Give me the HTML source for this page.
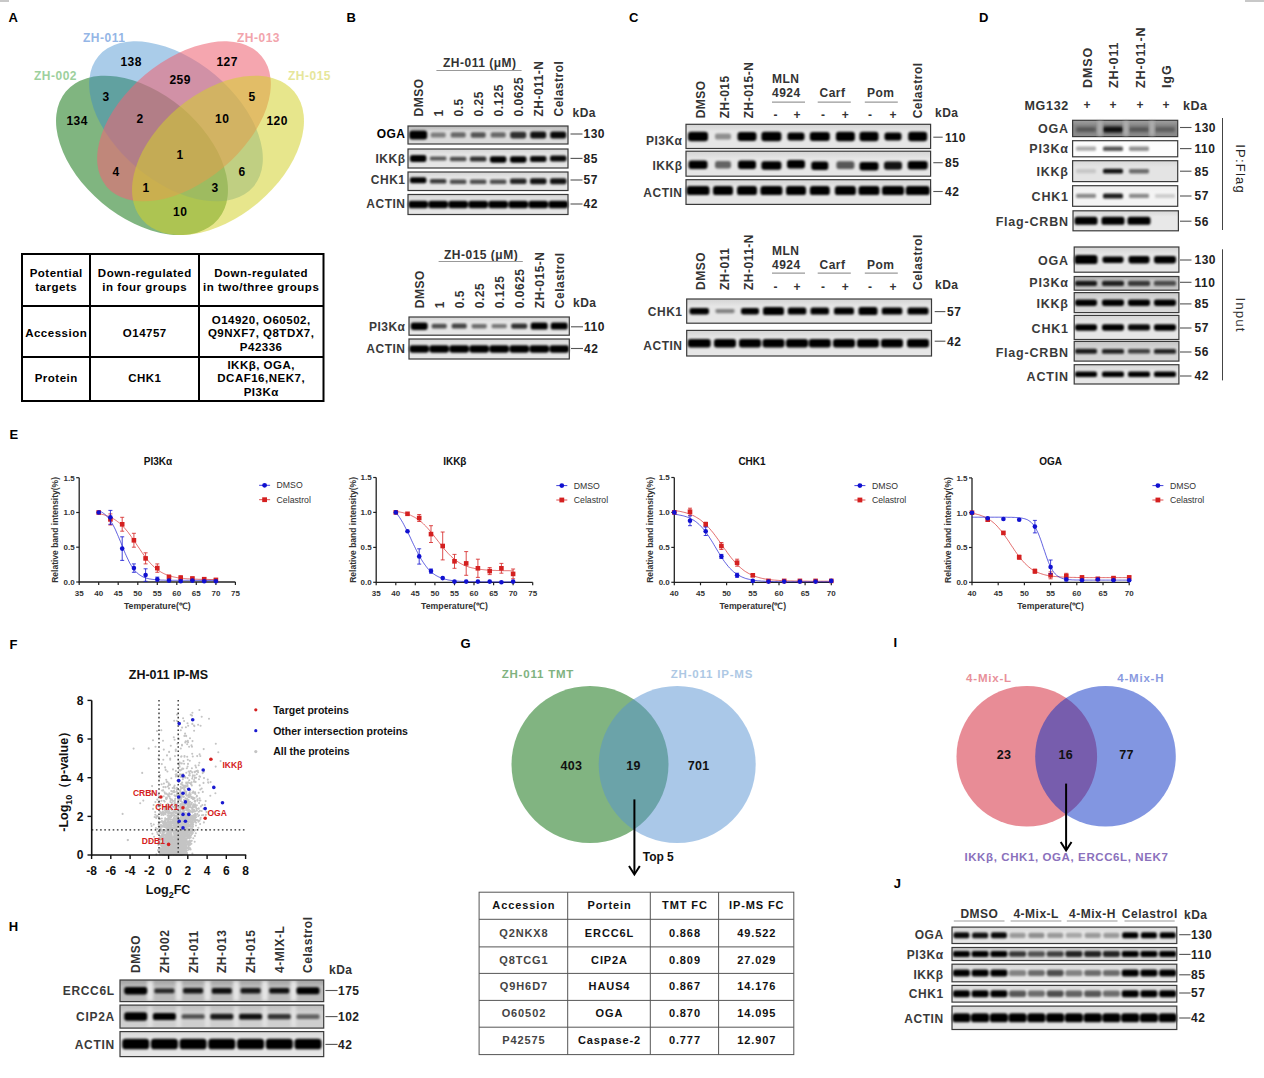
<!DOCTYPE html>
<html><head><meta charset="utf-8"><style>svg text{font-family:"Liberation Sans",sans-serif} html,body{margin:0;padding:0;background:#fff;width:1264px;height:1078px;overflow:hidden;position:relative}</style></head>
<body>
<svg width="1264" height="1078" viewBox="0 0 1264 1078" style="position:absolute;left:0;top:0">
<defs>
<filter id="bl5" x="-20%" y="-50%" width="140%" height="200%"><feGaussianBlur stdDeviation="0.5"/></filter>
<filter id="bl6" x="-20%" y="-50%" width="140%" height="200%"><feGaussianBlur stdDeviation="0.6"/></filter>
<filter id="bl7" x="-20%" y="-50%" width="140%" height="200%"><feGaussianBlur stdDeviation="0.7"/></filter>
<filter id="bl8" x="-20%" y="-50%" width="140%" height="200%"><feGaussianBlur stdDeviation="0.8"/></filter>
<filter id="bl9" x="-20%" y="-50%" width="140%" height="200%"><feGaussianBlur stdDeviation="0.9"/></filter>
<filter id="bl10" x="-20%" y="-50%" width="140%" height="200%"><feGaussianBlur stdDeviation="1.0"/></filter>
<filter id="bl11" x="-20%" y="-50%" width="140%" height="200%"><feGaussianBlur stdDeviation="1.1"/></filter>
<filter id="bl12" x="-20%" y="-50%" width="140%" height="200%"><feGaussianBlur stdDeviation="1.2"/></filter>
<filter id="bl13" x="-20%" y="-50%" width="140%" height="200%"><feGaussianBlur stdDeviation="1.3"/></filter>
<filter id="bl14" x="-20%" y="-50%" width="140%" height="200%"><feGaussianBlur stdDeviation="1.4"/></filter>
<filter id="bl15" x="-20%" y="-50%" width="140%" height="200%"><feGaussianBlur stdDeviation="1.5"/></filter>
<filter id="bl16" x="-20%" y="-50%" width="140%" height="200%"><feGaussianBlur stdDeviation="1.6"/></filter>
<filter id="bl18" x="-20%" y="-50%" width="140%" height="200%"><feGaussianBlur stdDeviation="1.8"/></filter>
<filter id="bl20" x="-20%" y="-50%" width="140%" height="200%"><feGaussianBlur stdDeviation="2.0"/></filter>
<filter id="bl25" x="-20%" y="-50%" width="140%" height="200%"><feGaussianBlur stdDeviation="2.5"/></filter>
</defs>
<rect width="1264" height="1078" fill="#fff"/>
<rect x="0" y="0" width="9" height="2" fill="#c8c8c8"/>
<rect x="1245" y="0" width="19" height="2" fill="#c8c8c8"/>
<text x="8.5" y="22.0" font-size="13" font-weight="bold" fill="#000" text-anchor="start" letter-spacing="0.5" >A</text>
<text x="346.5" y="22.0" font-size="13" font-weight="bold" fill="#000" text-anchor="start" letter-spacing="0.5" >B</text>
<text x="629.0" y="22.0" font-size="13" font-weight="bold" fill="#000" text-anchor="start" letter-spacing="0.5" >C</text>
<text x="979.0" y="22.0" font-size="13" font-weight="bold" fill="#000" text-anchor="start" letter-spacing="0.5" >D</text>
<text x="9.5" y="439.0" font-size="13" font-weight="bold" fill="#000" text-anchor="start" letter-spacing="0.5" >E</text>
<text x="9.5" y="648.5" font-size="13" font-weight="bold" fill="#000" text-anchor="start" letter-spacing="0.5" >F</text>
<text x="460.5" y="648.0" font-size="13" font-weight="bold" fill="#000" text-anchor="start" letter-spacing="0.5" >G</text>
<text x="8.7" y="931.3" font-size="13" font-weight="bold" fill="#000" text-anchor="start" letter-spacing="0.5" >H</text>
<text x="893.5" y="647.2" font-size="13" font-weight="bold" fill="#000" text-anchor="start" letter-spacing="0.5" >I</text>
<text x="893.7" y="887.6" font-size="13" font-weight="bold" fill="#000" text-anchor="start" letter-spacing="0.5" >J</text>
<ellipse cx="142" cy="155.4" rx="99.4" ry="62.1" transform="rotate(40 142 155.4)" fill="rgb(0,106,0)" fill-opacity="0.498"/>
<ellipse cx="176" cy="121.3" rx="101.3" ry="60.7" transform="rotate(40 176 121.3)" fill="rgb(55,135,203)" fill-opacity="0.429"/>
<ellipse cx="184" cy="121.3" rx="101.3" ry="60.7" transform="rotate(-40 184 121.3)" fill="rgb(237,102,118)" fill-opacity="0.581"/>
<ellipse cx="218" cy="155.4" rx="99.4" ry="62.1" transform="rotate(-40 218 155.4)" fill="rgb(211,209,42)" fill-opacity="0.543"/>
<text x="83.0" y="42.3" font-size="12" font-weight="bold" fill="#94b6e6" text-anchor="start" letter-spacing="0.5" >ZH-011</text>
<text x="237.0" y="42.3" font-size="12" font-weight="bold" fill="#f2a4ac" text-anchor="start" letter-spacing="0.5" >ZH-013</text>
<text x="34.0" y="80.0" font-size="12" font-weight="bold" fill="#9dd09d" text-anchor="start" letter-spacing="0.5" >ZH-002</text>
<text x="288.0" y="80.0" font-size="12" font-weight="bold" fill="#e6e69a" text-anchor="start" letter-spacing="0.5" >ZH-015</text>
<text x="131.2" y="66.3" font-size="12" font-weight="bold" fill="#000" text-anchor="middle" letter-spacing="0.5" >138</text>
<text x="227.2" y="66.3" font-size="12" font-weight="bold" fill="#000" text-anchor="middle" letter-spacing="0.5" >127</text>
<text x="180.2" y="84.3" font-size="12" font-weight="bold" fill="#000" text-anchor="middle" letter-spacing="0.5" >259</text>
<text x="106.2" y="101.3" font-size="12" font-weight="bold" fill="#000" text-anchor="middle" letter-spacing="0.5" >3</text>
<text x="252.2" y="101.3" font-size="12" font-weight="bold" fill="#000" text-anchor="middle" letter-spacing="0.5" >5</text>
<text x="77.2" y="125.3" font-size="12" font-weight="bold" fill="#000" text-anchor="middle" letter-spacing="0.5" >134</text>
<text x="140.2" y="123.3" font-size="12" font-weight="bold" fill="#000" text-anchor="middle" letter-spacing="0.5" >2</text>
<text x="222.2" y="123.3" font-size="12" font-weight="bold" fill="#000" text-anchor="middle" letter-spacing="0.5" >10</text>
<text x="277.2" y="125.3" font-size="12" font-weight="bold" fill="#000" text-anchor="middle" letter-spacing="0.5" >120</text>
<text x="180.2" y="159.3" font-size="12" font-weight="bold" fill="#000" text-anchor="middle" letter-spacing="0.5" >1</text>
<text x="116.2" y="176.3" font-size="12" font-weight="bold" fill="#000" text-anchor="middle" letter-spacing="0.5" >4</text>
<text x="242.2" y="176.3" font-size="12" font-weight="bold" fill="#000" text-anchor="middle" letter-spacing="0.5" >6</text>
<text x="146.2" y="192.3" font-size="12" font-weight="bold" fill="#000" text-anchor="middle" letter-spacing="0.5" >1</text>
<text x="215.2" y="192.3" font-size="12" font-weight="bold" fill="#000" text-anchor="middle" letter-spacing="0.5" >3</text>
<text x="180.2" y="216.3" font-size="12" font-weight="bold" fill="#000" text-anchor="middle" letter-spacing="0.5" >10</text>
<rect x="22" y="254" width="301.5" height="147" fill="none" stroke="#000" stroke-width="2"/>
<line x1="90.0" y1="254.0" x2="90.0" y2="401.0" stroke="#000" stroke-width="2" />
<line x1="199.0" y1="254.0" x2="199.0" y2="401.0" stroke="#000" stroke-width="2" />
<line x1="22.0" y1="306.0" x2="323.5" y2="306.0" stroke="#000" stroke-width="2" />
<line x1="22.0" y1="357.0" x2="323.5" y2="357.0" stroke="#000" stroke-width="2" />
<text x="56.2" y="277.4" font-size="11.5" font-weight="bold" fill="#000" text-anchor="middle" letter-spacing="0.5" letter-spacing="0.3">Potential</text>
<text x="56.2" y="290.9" font-size="11.5" font-weight="bold" fill="#000" text-anchor="middle" letter-spacing="0.5" letter-spacing="0.3">targets</text>
<text x="144.8" y="277.4" font-size="11.5" font-weight="bold" fill="#000" text-anchor="middle" letter-spacing="0.5" letter-spacing="0.3">Down-regulated</text>
<text x="144.8" y="290.9" font-size="11.5" font-weight="bold" fill="#000" text-anchor="middle" letter-spacing="0.5" letter-spacing="0.3">in four groups</text>
<text x="261.2" y="277.4" font-size="11.5" font-weight="bold" fill="#000" text-anchor="middle" letter-spacing="0.5" letter-spacing="0.3">Down-regulated</text>
<text x="261.2" y="290.9" font-size="11.5" font-weight="bold" fill="#000" text-anchor="middle" letter-spacing="0.5" letter-spacing="0.3">in two/three groups</text>
<text x="56.2" y="337.1" font-size="11.5" font-weight="bold" fill="#000" text-anchor="middle" letter-spacing="0.5" letter-spacing="0.3">Accession</text>
<text x="144.8" y="337.1" font-size="11.5" font-weight="bold" fill="#000" text-anchor="middle" letter-spacing="0.5" letter-spacing="0.3">O14757</text>
<text x="261.2" y="323.6" font-size="11.5" font-weight="bold" fill="#000" text-anchor="middle" letter-spacing="0.5" letter-spacing="0.3">O14920, O60502,</text>
<text x="261.2" y="337.1" font-size="11.5" font-weight="bold" fill="#000" text-anchor="middle" letter-spacing="0.5" letter-spacing="0.3">Q9NXF7, Q8TDX7,</text>
<text x="261.2" y="350.6" font-size="11.5" font-weight="bold" fill="#000" text-anchor="middle" letter-spacing="0.5" letter-spacing="0.3">P42336</text>
<text x="56.2" y="382.1" font-size="11.5" font-weight="bold" fill="#000" text-anchor="middle" letter-spacing="0.5" letter-spacing="0.3">Protein</text>
<text x="144.8" y="382.1" font-size="11.5" font-weight="bold" fill="#000" text-anchor="middle" letter-spacing="0.5" letter-spacing="0.3">CHK1</text>
<text x="261.2" y="368.6" font-size="11.5" font-weight="bold" fill="#000" text-anchor="middle" letter-spacing="0.5" letter-spacing="0.3">IKKβ, OGA,</text>
<text x="261.2" y="382.1" font-size="11.5" font-weight="bold" fill="#000" text-anchor="middle" letter-spacing="0.5" letter-spacing="0.3">DCAF16,NEK7,</text>
<text x="261.2" y="395.6" font-size="11.5" font-weight="bold" fill="#000" text-anchor="middle" letter-spacing="0.5" letter-spacing="0.3">PI3Kα</text>
<text x="443.0" y="66.5" font-size="12" font-weight="bold" fill="#333" text-anchor="start" letter-spacing="0.5" >ZH-011 (μM)</text>
<line x1="436.4" y1="70.5" x2="521.6" y2="70.5" stroke="#999" stroke-width="1.2" />
<text transform="translate(422.5,116.5) rotate(-90)" font-size="12" font-weight="bold" fill="#333" text-anchor="start" letter-spacing="0.5" >DMSO</text>
<text transform="translate(442.5,116.5) rotate(-90)" font-size="12" font-weight="bold" fill="#333" text-anchor="start" letter-spacing="0.5" >1</text>
<text transform="translate(462.5,116.5) rotate(-90)" font-size="12" font-weight="bold" fill="#333" text-anchor="start" letter-spacing="0.5" >0.5</text>
<text transform="translate(482.5,116.5) rotate(-90)" font-size="12" font-weight="bold" fill="#333" text-anchor="start" letter-spacing="0.5" >0.25</text>
<text transform="translate(502.5,116.5) rotate(-90)" font-size="12" font-weight="bold" fill="#333" text-anchor="start" letter-spacing="0.5" >0.125</text>
<text transform="translate(522.5,116.5) rotate(-90)" font-size="12" font-weight="bold" fill="#333" text-anchor="start" letter-spacing="0.5" >0.0625</text>
<text transform="translate(542.5,116.5) rotate(-90)" font-size="12" font-weight="bold" fill="#333" text-anchor="start" letter-spacing="0.5" >ZH-011-N</text>
<text transform="translate(562.5,116.5) rotate(-90)" font-size="12" font-weight="bold" fill="#333" text-anchor="start" letter-spacing="0.5" >Celastrol</text>
<text x="572.5" y="117.0" font-size="12" font-weight="bold" fill="#333" text-anchor="start" letter-spacing="0.5" >kDa</text>
<linearGradient id="g1" x1="0" y1="0" x2="0" y2="1"><stop offset="0" stop-color="#b4b4b4"/><stop offset="0.3" stop-color="#dcdcdc"/><stop offset="1" stop-color="#dcdcdc"/></linearGradient>
<rect x="408.0" y="126.0" width="160.0" height="18.0" fill="url(#g1)"/>
<g filter="url(#bl10)">
<rect x="409.2" y="130.5" width="18.0" height="9.0" rx="2.9" fill="#000" fill-opacity="1.00"/>
<rect x="430.7" y="132.4" width="15.0" height="5.2" rx="1.7" fill="#000" fill-opacity="0.43"/>
<rect x="450.7" y="132.3" width="15.0" height="5.3" rx="1.7" fill="#000" fill-opacity="0.53"/>
<rect x="470.7" y="132.3" width="15.0" height="5.5" rx="1.7" fill="#000" fill-opacity="0.62"/>
<rect x="490.7" y="132.3" width="15.0" height="5.3" rx="1.7" fill="#000" fill-opacity="0.53"/>
<rect x="510.2" y="131.7" width="16.0" height="6.7" rx="2.1" fill="#000" fill-opacity="0.79"/>
<rect x="530.2" y="131.6" width="16.0" height="6.9" rx="2.2" fill="#000" fill-opacity="0.92"/>
<rect x="550.2" y="131.5" width="16.0" height="6.9" rx="2.2" fill="#000" fill-opacity="0.96"/>
</g>
<rect x="408.0" y="126.0" width="160.0" height="18.0" fill="none" stroke="#3a3a3a" stroke-width="1.2"/>
<linearGradient id="g2" x1="0" y1="0" x2="0" y2="1"><stop offset="0" stop-color="#d4d4d4"/><stop offset="0.3" stop-color="#e6e6e6"/><stop offset="1" stop-color="#e6e6e6"/></linearGradient>
<rect x="408.0" y="149.0" width="160.0" height="19.0" fill="url(#g2)"/>
<g filter="url(#bl10)">
<rect x="409.9" y="155.0" width="16.5" height="7.0" rx="2.2" fill="#000" fill-opacity="1.00"/>
<rect x="429.9" y="156.5" width="16.5" height="4.1" rx="1.3" fill="#000" fill-opacity="0.62"/>
<rect x="449.9" y="156.7" width="16.5" height="4.6" rx="1.5" fill="#000" fill-opacity="0.66"/>
<rect x="469.9" y="156.4" width="16.5" height="5.2" rx="1.7" fill="#000" fill-opacity="0.79"/>
<rect x="489.9" y="156.2" width="16.5" height="6.5" rx="2.1" fill="#000" fill-opacity="1.00"/>
<rect x="510.0" y="156.2" width="16.5" height="6.5" rx="2.1" fill="#000" fill-opacity="1.00"/>
<rect x="530.0" y="156.0" width="16.5" height="5.9" rx="1.9" fill="#000" fill-opacity="0.96"/>
<rect x="550.0" y="155.5" width="16.5" height="5.9" rx="1.9" fill="#000" fill-opacity="0.96"/>
</g>
<rect x="408.0" y="149.0" width="160.0" height="19.0" fill="none" stroke="#3a3a3a" stroke-width="1.2"/>
<linearGradient id="g3" x1="0" y1="0" x2="0" y2="1"><stop offset="0" stop-color="#d4d4d4"/><stop offset="0.3" stop-color="#e6e6e6"/><stop offset="1" stop-color="#e6e6e6"/></linearGradient>
<rect x="408.0" y="172.0" width="160.0" height="18.5" fill="url(#g3)"/>
<g filter="url(#bl10)">
<rect x="409.9" y="177.2" width="16.5" height="6.0" rx="1.9" fill="#000" fill-opacity="1.00"/>
<rect x="429.9" y="178.9" width="16.5" height="4.7" rx="1.5" fill="#000" fill-opacity="0.75"/>
<rect x="449.9" y="179.4" width="16.5" height="4.6" rx="1.5" fill="#000" fill-opacity="0.66"/>
<rect x="469.9" y="179.4" width="16.5" height="4.6" rx="1.5" fill="#000" fill-opacity="0.66"/>
<rect x="489.9" y="179.4" width="16.5" height="4.6" rx="1.5" fill="#000" fill-opacity="0.66"/>
<rect x="510.0" y="178.6" width="16.5" height="5.3" rx="1.7" fill="#000" fill-opacity="0.84"/>
<rect x="530.0" y="178.3" width="16.5" height="5.9" rx="1.9" fill="#000" fill-opacity="0.92"/>
<rect x="550.0" y="178.3" width="16.5" height="5.9" rx="1.9" fill="#000" fill-opacity="0.92"/>
</g>
<rect x="408.0" y="172.0" width="160.0" height="18.5" fill="none" stroke="#3a3a3a" stroke-width="1.2"/>
<linearGradient id="g4" x1="0" y1="0" x2="0" y2="1"><stop offset="0" stop-color="#d4d4d4"/><stop offset="0.3" stop-color="#e6e6e6"/><stop offset="1" stop-color="#e6e6e6"/></linearGradient>
<rect x="408.0" y="194.5" width="160.0" height="20.0" fill="url(#g4)"/>
<g filter="url(#bl10)">
<rect x="408.4" y="200.8" width="19.5" height="7.5" rx="2.4" fill="#000" fill-opacity="1.00"/>
<rect x="428.4" y="200.8" width="19.5" height="7.5" rx="2.4" fill="#000" fill-opacity="1.00"/>
<rect x="448.4" y="200.8" width="19.5" height="7.5" rx="2.4" fill="#000" fill-opacity="1.00"/>
<rect x="468.4" y="200.8" width="19.5" height="7.5" rx="2.4" fill="#000" fill-opacity="1.00"/>
<rect x="488.4" y="200.8" width="19.5" height="7.5" rx="2.4" fill="#000" fill-opacity="1.00"/>
<rect x="508.5" y="200.8" width="19.5" height="7.5" rx="2.4" fill="#000" fill-opacity="1.00"/>
<rect x="528.5" y="200.8" width="19.5" height="7.5" rx="2.4" fill="#000" fill-opacity="1.00"/>
<rect x="548.5" y="200.8" width="19.5" height="7.5" rx="2.4" fill="#000" fill-opacity="1.00"/>
</g>
<rect x="408.0" y="194.5" width="160.0" height="20.0" fill="none" stroke="#3a3a3a" stroke-width="1.2"/>
<text x="405.5" y="138.3" font-size="12" font-weight="bold" fill="#000" text-anchor="end" letter-spacing="0.5" >OGA</text>
<text x="405.5" y="162.7" font-size="12" font-weight="bold" fill="#3a3a3a" text-anchor="end" letter-spacing="0.5" >IKKβ</text>
<text x="405.5" y="184.3" font-size="12" font-weight="bold" fill="#3a3a3a" text-anchor="end" letter-spacing="0.5" >CHK1</text>
<text x="405.5" y="208.3" font-size="12" font-weight="bold" fill="#3a3a3a" text-anchor="end" letter-spacing="0.5" >ACTIN</text>
<line x1="570.5" y1="134.0" x2="582.5" y2="134.0" stroke="#555" stroke-width="1.1" />
<text x="583.5" y="138.3" font-size="12" font-weight="bold" fill="#222" text-anchor="start" letter-spacing="0.5" >130</text>
<line x1="570.5" y1="158.4" x2="582.5" y2="158.4" stroke="#555" stroke-width="1.1" />
<text x="583.5" y="162.7" font-size="12" font-weight="bold" fill="#222" text-anchor="start" letter-spacing="0.5" >85</text>
<line x1="570.5" y1="180.0" x2="582.5" y2="180.0" stroke="#555" stroke-width="1.1" />
<text x="583.5" y="184.3" font-size="12" font-weight="bold" fill="#222" text-anchor="start" letter-spacing="0.5" >57</text>
<line x1="570.5" y1="204.0" x2="582.5" y2="204.0" stroke="#555" stroke-width="1.1" />
<text x="583.5" y="208.3" font-size="12" font-weight="bold" fill="#222" text-anchor="start" letter-spacing="0.5" >42</text>
<text x="444.0" y="258.8" font-size="12" font-weight="bold" fill="#333" text-anchor="start" letter-spacing="0.5" >ZH-015 (μM)</text>
<line x1="438.6" y1="261.5" x2="522.8" y2="261.5" stroke="#999" stroke-width="1.2" />
<text transform="translate(423.5,308.2) rotate(-90)" font-size="12" font-weight="bold" fill="#333" text-anchor="start" letter-spacing="0.5" >DMSO</text>
<text transform="translate(443.5,308.2) rotate(-90)" font-size="12" font-weight="bold" fill="#333" text-anchor="start" letter-spacing="0.5" >1</text>
<text transform="translate(463.5,308.2) rotate(-90)" font-size="12" font-weight="bold" fill="#333" text-anchor="start" letter-spacing="0.5" >0.5</text>
<text transform="translate(483.5,308.2) rotate(-90)" font-size="12" font-weight="bold" fill="#333" text-anchor="start" letter-spacing="0.5" >0.25</text>
<text transform="translate(503.5,308.2) rotate(-90)" font-size="12" font-weight="bold" fill="#333" text-anchor="start" letter-spacing="0.5" >0.125</text>
<text transform="translate(523.5,308.2) rotate(-90)" font-size="12" font-weight="bold" fill="#333" text-anchor="start" letter-spacing="0.5" >0.0625</text>
<text transform="translate(543.5,308.2) rotate(-90)" font-size="12" font-weight="bold" fill="#333" text-anchor="start" letter-spacing="0.5" >ZH-015-N</text>
<text transform="translate(563.5,308.2) rotate(-90)" font-size="12" font-weight="bold" fill="#333" text-anchor="start" letter-spacing="0.5" >Celastrol</text>
<text x="573.0" y="306.5" font-size="12" font-weight="bold" fill="#333" text-anchor="start" letter-spacing="0.5" >kDa</text>
<linearGradient id="g5" x1="0" y1="0" x2="0" y2="1"><stop offset="0" stop-color="#d4d4d4"/><stop offset="0.3" stop-color="#e6e6e6"/><stop offset="1" stop-color="#e6e6e6"/></linearGradient>
<rect x="409.0" y="317.0" width="160.3" height="18.2" fill="url(#g5)"/>
<g filter="url(#bl10)">
<rect x="410.7" y="322.4" width="17.0" height="7.5" rx="2.4" fill="#000" fill-opacity="1.00"/>
<rect x="431.7" y="323.8" width="15.0" height="4.6" rx="1.5" fill="#000" fill-opacity="0.66"/>
<rect x="451.7" y="323.5" width="15.0" height="5.1" rx="1.6" fill="#000" fill-opacity="0.71"/>
<rect x="471.7" y="323.9" width="15.0" height="4.5" rx="1.4" fill="#000" fill-opacity="0.53"/>
<rect x="491.7" y="323.9" width="15.0" height="4.4" rx="1.4" fill="#000" fill-opacity="0.48"/>
<rect x="511.2" y="323.5" width="16.0" height="5.2" rx="1.7" fill="#000" fill-opacity="0.79"/>
<rect x="530.7" y="322.6" width="17.0" height="7.0" rx="2.2" fill="#000" fill-opacity="1.00"/>
<rect x="550.7" y="322.6" width="17.0" height="7.0" rx="2.2" fill="#000" fill-opacity="1.00"/>
</g>
<rect x="409.0" y="317.0" width="160.3" height="18.2" fill="none" stroke="#3a3a3a" stroke-width="1.2"/>
<linearGradient id="g6" x1="0" y1="0" x2="0" y2="1"><stop offset="0" stop-color="#d4d4d4"/><stop offset="0.3" stop-color="#e6e6e6"/><stop offset="1" stop-color="#e6e6e6"/></linearGradient>
<rect x="409.0" y="339.0" width="160.3" height="20.0" fill="url(#g6)"/>
<g filter="url(#bl10)">
<rect x="409.4" y="345.2" width="19.5" height="7.5" rx="2.4" fill="#000" fill-opacity="1.00"/>
<rect x="429.4" y="345.2" width="19.5" height="7.5" rx="2.4" fill="#000" fill-opacity="1.00"/>
<rect x="449.4" y="345.2" width="19.5" height="7.5" rx="2.4" fill="#000" fill-opacity="1.00"/>
<rect x="469.4" y="345.2" width="19.5" height="7.5" rx="2.4" fill="#000" fill-opacity="1.00"/>
<rect x="489.4" y="345.2" width="19.5" height="7.5" rx="2.4" fill="#000" fill-opacity="1.00"/>
<rect x="509.5" y="345.2" width="19.5" height="7.5" rx="2.4" fill="#000" fill-opacity="1.00"/>
<rect x="529.5" y="345.2" width="19.5" height="7.5" rx="2.4" fill="#000" fill-opacity="1.00"/>
<rect x="549.5" y="345.2" width="19.5" height="7.5" rx="2.4" fill="#000" fill-opacity="1.00"/>
</g>
<rect x="409.0" y="339.0" width="160.3" height="20.0" fill="none" stroke="#3a3a3a" stroke-width="1.2"/>
<text x="405.5" y="331.1" font-size="12" font-weight="bold" fill="#3a3a3a" text-anchor="end" letter-spacing="0.5" >PI3Kα</text>
<text x="405.5" y="352.8" font-size="12" font-weight="bold" fill="#3a3a3a" text-anchor="end" letter-spacing="0.5" >ACTIN</text>
<line x1="571.0" y1="326.8" x2="583.0" y2="326.8" stroke="#555" stroke-width="1.1" />
<text x="584.0" y="331.1" font-size="12" font-weight="bold" fill="#222" text-anchor="start" letter-spacing="0.5" >110</text>
<line x1="571.0" y1="348.5" x2="583.0" y2="348.5" stroke="#555" stroke-width="1.1" />
<text x="584.0" y="352.8" font-size="12" font-weight="bold" fill="#222" text-anchor="start" letter-spacing="0.5" >42</text>
<text transform="translate(705.3,118.3) rotate(-90)" font-size="12" font-weight="bold" fill="#333" text-anchor="start" letter-spacing="0.5" >DMSO</text>
<text transform="translate(729.3,118.3) rotate(-90)" font-size="12" font-weight="bold" fill="#333" text-anchor="start" letter-spacing="0.5" >ZH-015</text>
<text transform="translate(753.3,118.3) rotate(-90)" font-size="12" font-weight="bold" fill="#333" text-anchor="start" letter-spacing="0.5" >ZH-015-N</text>
<text transform="translate(922.0,118.3) rotate(-90)" font-size="12" font-weight="bold" fill="#333" text-anchor="start" letter-spacing="0.5" >Celastrol</text>
<text x="772.0" y="83.4" font-size="12" font-weight="bold" fill="#333" text-anchor="start" letter-spacing="0.5" >MLN</text>
<text x="772.0" y="96.9" font-size="12" font-weight="bold" fill="#333" text-anchor="start" letter-spacing="0.5" >4924</text>
<text x="819.5" y="96.9" font-size="12" font-weight="bold" fill="#333" text-anchor="start" letter-spacing="0.5" >Carf</text>
<text x="867.0" y="96.9" font-size="12" font-weight="bold" fill="#333" text-anchor="start" letter-spacing="0.5" >Pom</text>
<line x1="772.0" y1="102.2" x2="805.0" y2="102.2" stroke="#999" stroke-width="1.2" />
<line x1="817.7" y1="102.2" x2="850.8" y2="102.2" stroke="#999" stroke-width="1.2" />
<line x1="864.8" y1="102.2" x2="897.8" y2="102.2" stroke="#999" stroke-width="1.2" />
<text x="775.8" y="119.3" font-size="12" font-weight="bold" fill="#333" text-anchor="middle" letter-spacing="0.5" >-</text>
<text x="797.2" y="119.3" font-size="12" font-weight="bold" fill="#333" text-anchor="middle" letter-spacing="0.5" >+</text>
<text x="823.2" y="119.3" font-size="12" font-weight="bold" fill="#333" text-anchor="middle" letter-spacing="0.5" >-</text>
<text x="845.6" y="119.3" font-size="12" font-weight="bold" fill="#333" text-anchor="middle" letter-spacing="0.5" >+</text>
<text x="870.2" y="119.3" font-size="12" font-weight="bold" fill="#333" text-anchor="middle" letter-spacing="0.5" >-</text>
<text x="893.2" y="119.3" font-size="12" font-weight="bold" fill="#333" text-anchor="middle" letter-spacing="0.5" >+</text>
<text x="935.0" y="117.0" font-size="12" font-weight="bold" fill="#333" text-anchor="start" letter-spacing="0.5" >kDa</text>
<linearGradient id="g7" x1="0" y1="0" x2="0" y2="1"><stop offset="0" stop-color="#d4d4d4"/><stop offset="0.3" stop-color="#e6e6e6"/><stop offset="1" stop-color="#e6e6e6"/></linearGradient>
<rect x="686.0" y="124.3" width="244.6" height="24.2" fill="url(#g7)"/>
<g filter="url(#bl11)">
<rect x="688.0" y="131.7" width="20.0" height="9.5" rx="3.0" fill="#000" fill-opacity="1.00"/>
<rect x="715.0" y="133.4" width="16.0" height="6.0" rx="1.9" fill="#000" fill-opacity="0.38"/>
<rect x="737.5" y="131.9" width="19.0" height="9.0" rx="2.9" fill="#000" fill-opacity="1.00"/>
<rect x="761.4" y="131.7" width="20.0" height="9.5" rx="3.0" fill="#000" fill-opacity="1.00"/>
<rect x="787.5" y="132.4" width="17.0" height="8.0" rx="2.6" fill="#000" fill-opacity="1.00"/>
<rect x="809.8" y="131.9" width="20.0" height="9.0" rx="2.9" fill="#000" fill-opacity="1.00"/>
<rect x="835.9" y="131.7" width="19.0" height="9.5" rx="3.0" fill="#000" fill-opacity="1.00"/>
<rect x="859.5" y="131.7" width="19.0" height="9.5" rx="3.0" fill="#000" fill-opacity="1.00"/>
<rect x="884.5" y="132.4" width="17.0" height="8.0" rx="2.6" fill="#000" fill-opacity="1.00"/>
<rect x="908.2" y="131.7" width="19.0" height="9.5" rx="3.0" fill="#000" fill-opacity="1.00"/>
</g>
<rect x="686.0" y="124.3" width="244.6" height="24.2" fill="none" stroke="#3a3a3a" stroke-width="1.2"/>
<linearGradient id="g8" x1="0" y1="0" x2="0" y2="1"><stop offset="0" stop-color="#d4d4d4"/><stop offset="0.3" stop-color="#e6e6e6"/><stop offset="1" stop-color="#e6e6e6"/></linearGradient>
<rect x="686.0" y="151.2" width="244.6" height="25.0" fill="url(#g8)"/>
<g filter="url(#bl11)">
<rect x="688.5" y="160.4" width="19.0" height="8.5" rx="2.7" fill="#000" fill-opacity="1.00"/>
<rect x="715.0" y="160.9" width="16.0" height="7.7" rx="2.4" fill="#000" fill-opacity="0.57"/>
<rect x="738.0" y="160.4" width="18.0" height="8.5" rx="2.7" fill="#000" fill-opacity="1.00"/>
<rect x="761.4" y="161.2" width="20.0" height="8.5" rx="2.7" fill="#000" fill-opacity="1.00"/>
<rect x="787.0" y="159.9" width="18.0" height="8.5" rx="2.7" fill="#000" fill-opacity="1.00"/>
<rect x="811.3" y="161.4" width="17.0" height="8.5" rx="2.7" fill="#000" fill-opacity="1.00"/>
<rect x="836.4" y="161.3" width="18.0" height="7.7" rx="2.5" fill="#000" fill-opacity="0.62"/>
<rect x="859.5" y="161.9" width="19.0" height="8.5" rx="2.7" fill="#000" fill-opacity="1.00"/>
<rect x="884.0" y="161.5" width="18.0" height="8.3" rx="2.7" fill="#000" fill-opacity="0.92"/>
<rect x="907.7" y="160.9" width="20.0" height="8.5" rx="2.7" fill="#000" fill-opacity="1.00"/>
</g>
<rect x="686.0" y="151.2" width="244.6" height="25.0" fill="none" stroke="#3a3a3a" stroke-width="1.2"/>
<linearGradient id="g9" x1="0" y1="0" x2="0" y2="1"><stop offset="0" stop-color="#d4d4d4"/><stop offset="0.3" stop-color="#e6e6e6"/><stop offset="1" stop-color="#e6e6e6"/></linearGradient>
<rect x="686.0" y="179.7" width="244.6" height="24.7" fill="url(#g9)"/>
<g filter="url(#bl11)">
<rect x="686.5" y="186.1" width="23.0" height="9.0" rx="2.9" fill="#000" fill-opacity="1.00"/>
<rect x="713.0" y="186.1" width="20.0" height="9.0" rx="2.9" fill="#000" fill-opacity="1.00"/>
<rect x="737.0" y="186.1" width="20.0" height="9.0" rx="2.9" fill="#000" fill-opacity="1.00"/>
<rect x="760.4" y="186.1" width="22.0" height="9.0" rx="2.9" fill="#000" fill-opacity="1.00"/>
<rect x="786.0" y="186.1" width="20.0" height="9.0" rx="2.9" fill="#000" fill-opacity="1.00"/>
<rect x="809.8" y="186.1" width="20.0" height="9.0" rx="2.9" fill="#000" fill-opacity="1.00"/>
<rect x="834.9" y="186.1" width="21.0" height="9.0" rx="2.9" fill="#000" fill-opacity="1.00"/>
<rect x="858.5" y="186.1" width="21.0" height="9.0" rx="2.9" fill="#000" fill-opacity="1.00"/>
<rect x="882.0" y="186.1" width="22.0" height="9.0" rx="2.9" fill="#000" fill-opacity="1.00"/>
<rect x="905.7" y="186.1" width="24.0" height="9.0" rx="2.9" fill="#000" fill-opacity="1.00"/>
</g>
<rect x="686.0" y="179.7" width="244.6" height="24.7" fill="none" stroke="#3a3a3a" stroke-width="1.2"/>
<text x="682.5" y="144.7" font-size="12" font-weight="bold" fill="#3a3a3a" text-anchor="end" letter-spacing="0.5" >PI3Kα</text>
<text x="682.5" y="169.7" font-size="12" font-weight="bold" fill="#3a3a3a" text-anchor="end" letter-spacing="0.5" >IKKβ</text>
<text x="682.5" y="196.6" font-size="12" font-weight="bold" fill="#3a3a3a" text-anchor="end" letter-spacing="0.5" >ACTIN</text>
<line x1="933.3" y1="137.2" x2="942.7" y2="137.2" stroke="#555" stroke-width="1.1" />
<text x="945.0" y="141.5" font-size="12" font-weight="bold" fill="#222" text-anchor="start" letter-spacing="0.5" >110</text>
<line x1="933.3" y1="162.7" x2="942.7" y2="162.7" stroke="#555" stroke-width="1.1" />
<text x="945.0" y="167.0" font-size="12" font-weight="bold" fill="#222" text-anchor="start" letter-spacing="0.5" >85</text>
<line x1="933.3" y1="191.5" x2="942.7" y2="191.5" stroke="#555" stroke-width="1.1" />
<text x="945.0" y="195.8" font-size="12" font-weight="bold" fill="#222" text-anchor="start" letter-spacing="0.5" >42</text>
<text transform="translate(705.3,290.0) rotate(-90)" font-size="12" font-weight="bold" fill="#333" text-anchor="start" letter-spacing="0.5" >DMSO</text>
<text transform="translate(729.3,290.0) rotate(-90)" font-size="12" font-weight="bold" fill="#333" text-anchor="start" letter-spacing="0.5" >ZH-011</text>
<text transform="translate(753.3,290.0) rotate(-90)" font-size="12" font-weight="bold" fill="#333" text-anchor="start" letter-spacing="0.5" >ZH-011-N</text>
<text transform="translate(922.0,290.0) rotate(-90)" font-size="12" font-weight="bold" fill="#333" text-anchor="start" letter-spacing="0.5" >Celastrol</text>
<text x="772.0" y="255.1" font-size="12" font-weight="bold" fill="#333" text-anchor="start" letter-spacing="0.5" >MLN</text>
<text x="772.0" y="268.6" font-size="12" font-weight="bold" fill="#333" text-anchor="start" letter-spacing="0.5" >4924</text>
<text x="819.5" y="268.6" font-size="12" font-weight="bold" fill="#333" text-anchor="start" letter-spacing="0.5" >Carf</text>
<text x="867.0" y="268.6" font-size="12" font-weight="bold" fill="#333" text-anchor="start" letter-spacing="0.5" >Pom</text>
<line x1="772.0" y1="273.2" x2="805.0" y2="273.2" stroke="#999" stroke-width="1.2" />
<line x1="817.7" y1="273.2" x2="850.8" y2="273.2" stroke="#999" stroke-width="1.2" />
<line x1="864.8" y1="273.2" x2="897.8" y2="273.2" stroke="#999" stroke-width="1.2" />
<text x="775.8" y="290.9" font-size="12" font-weight="bold" fill="#333" text-anchor="middle" letter-spacing="0.5" >-</text>
<text x="797.2" y="290.9" font-size="12" font-weight="bold" fill="#333" text-anchor="middle" letter-spacing="0.5" >+</text>
<text x="823.2" y="290.9" font-size="12" font-weight="bold" fill="#333" text-anchor="middle" letter-spacing="0.5" >-</text>
<text x="845.6" y="290.9" font-size="12" font-weight="bold" fill="#333" text-anchor="middle" letter-spacing="0.5" >+</text>
<text x="870.2" y="290.9" font-size="12" font-weight="bold" fill="#333" text-anchor="middle" letter-spacing="0.5" >-</text>
<text x="893.2" y="290.9" font-size="12" font-weight="bold" fill="#333" text-anchor="middle" letter-spacing="0.5" >+</text>
<text x="935.0" y="288.8" font-size="12" font-weight="bold" fill="#333" text-anchor="start" letter-spacing="0.5" >kDa</text>
<linearGradient id="g10" x1="0" y1="0" x2="0" y2="1"><stop offset="0" stop-color="#d4d4d4"/><stop offset="0.3" stop-color="#e6e6e6"/><stop offset="1" stop-color="#e6e6e6"/></linearGradient>
<rect x="686.7" y="299.0" width="244.8" height="24.2" fill="url(#g10)"/>
<g filter="url(#bl11)">
<rect x="689.5" y="307.9" width="19.5" height="6.5" rx="2.1" fill="#000" fill-opacity="1.00"/>
<rect x="715.5" y="308.9" width="19.0" height="4.3" rx="1.4" fill="#000" fill-opacity="0.43"/>
<rect x="741.0" y="307.9" width="18.0" height="6.5" rx="2.1" fill="#000" fill-opacity="1.00"/>
<rect x="763.0" y="307.1" width="21.0" height="8.0" rx="2.6" fill="#000" fill-opacity="1.00"/>
<rect x="787.8" y="307.6" width="18.5" height="7.0" rx="2.2" fill="#000" fill-opacity="1.00"/>
<rect x="810.5" y="307.6" width="18.5" height="7.0" rx="2.2" fill="#000" fill-opacity="1.00"/>
<rect x="834.0" y="307.6" width="20.0" height="7.0" rx="2.2" fill="#000" fill-opacity="1.00"/>
<rect x="858.5" y="307.1" width="19.0" height="8.0" rx="2.6" fill="#000" fill-opacity="1.00"/>
<rect x="881.8" y="307.6" width="20.5" height="7.0" rx="2.2" fill="#000" fill-opacity="1.00"/>
<rect x="907.5" y="307.6" width="21.0" height="7.0" rx="2.2" fill="#000" fill-opacity="1.00"/>
</g>
<rect x="686.7" y="299.0" width="244.8" height="24.2" fill="none" stroke="#3a3a3a" stroke-width="1.2"/>
<linearGradient id="g11" x1="0" y1="0" x2="0" y2="1"><stop offset="0" stop-color="#d4d4d4"/><stop offset="0.3" stop-color="#e6e6e6"/><stop offset="1" stop-color="#e6e6e6"/></linearGradient>
<rect x="686.7" y="330.4" width="244.8" height="25.6" fill="url(#g11)"/>
<g filter="url(#bl11)">
<rect x="687.7" y="338.9" width="23.0" height="8.5" rx="2.7" fill="#000" fill-opacity="1.00"/>
<rect x="714.0" y="338.9" width="22.0" height="8.5" rx="2.7" fill="#000" fill-opacity="1.00"/>
<rect x="739.0" y="338.9" width="22.0" height="8.5" rx="2.7" fill="#000" fill-opacity="1.00"/>
<rect x="762.5" y="338.9" width="22.0" height="8.5" rx="2.7" fill="#000" fill-opacity="1.00"/>
<rect x="786.0" y="338.9" width="22.0" height="8.5" rx="2.7" fill="#000" fill-opacity="1.00"/>
<rect x="808.8" y="338.9" width="22.0" height="8.5" rx="2.7" fill="#000" fill-opacity="1.00"/>
<rect x="833.0" y="338.9" width="22.0" height="8.5" rx="2.7" fill="#000" fill-opacity="1.00"/>
<rect x="857.0" y="338.9" width="22.0" height="8.5" rx="2.7" fill="#000" fill-opacity="1.00"/>
<rect x="881.0" y="338.9" width="22.0" height="8.5" rx="2.7" fill="#000" fill-opacity="1.00"/>
<rect x="907.0" y="338.9" width="22.0" height="8.5" rx="2.7" fill="#000" fill-opacity="1.00"/>
</g>
<rect x="686.7" y="330.4" width="244.8" height="25.6" fill="none" stroke="#3a3a3a" stroke-width="1.2"/>
<text x="682.5" y="315.9" font-size="12" font-weight="bold" fill="#3a3a3a" text-anchor="end" letter-spacing="0.5" >CHK1</text>
<text x="682.5" y="349.5" font-size="12" font-weight="bold" fill="#3a3a3a" text-anchor="end" letter-spacing="0.5" >ACTIN</text>
<line x1="934.7" y1="311.6" x2="945.4" y2="311.6" stroke="#555" stroke-width="1.1" />
<text x="947.0" y="315.9" font-size="12" font-weight="bold" fill="#222" text-anchor="start" letter-spacing="0.5" >57</text>
<line x1="934.7" y1="341.2" x2="945.4" y2="341.2" stroke="#555" stroke-width="1.1" />
<text x="947.0" y="345.5" font-size="12" font-weight="bold" fill="#222" text-anchor="start" letter-spacing="0.5" >42</text>
<text transform="translate(1091.5,88.0) rotate(-90)" font-size="12.5" font-weight="bold" fill="#333" text-anchor="start" letter-spacing="0.9" >DMSO</text>
<text transform="translate(1117.5,88.0) rotate(-90)" font-size="12.5" font-weight="bold" fill="#333" text-anchor="start" letter-spacing="0.9" >ZH-011</text>
<text transform="translate(1144.5,88.0) rotate(-90)" font-size="12.5" font-weight="bold" fill="#333" text-anchor="start" letter-spacing="0.9" >ZH-011-N</text>
<text transform="translate(1170.5,88.0) rotate(-90)" font-size="12.5" font-weight="bold" fill="#333" text-anchor="start" letter-spacing="0.9" >IgG</text>
<text x="1024.5" y="110.0" font-size="12.5" font-weight="bold" fill="#333" text-anchor="start" letter-spacing="0.7" >MG132</text>
<text x="1087.2" y="109.3" font-size="12" font-weight="bold" fill="#333" text-anchor="middle" letter-spacing="0.5" >+</text>
<text x="1113.2" y="109.3" font-size="12" font-weight="bold" fill="#333" text-anchor="middle" letter-spacing="0.5" >+</text>
<text x="1140.2" y="109.3" font-size="12" font-weight="bold" fill="#333" text-anchor="middle" letter-spacing="0.5" >+</text>
<text x="1166.2" y="109.3" font-size="12" font-weight="bold" fill="#333" text-anchor="middle" letter-spacing="0.5" >+</text>
<text x="1183.0" y="110.0" font-size="12.5" font-weight="bold" fill="#333" text-anchor="start" letter-spacing="0.5" >kDa</text>
<linearGradient id="g12" x1="0" y1="0" x2="0" y2="1"><stop offset="0" stop-color="#a0a0a0"/><stop offset="0.3" stop-color="#8a8a8a"/><stop offset="1" stop-color="#8a8a8a"/></linearGradient>
<rect x="1072.6" y="120.3" width="105.1" height="16.3" fill="url(#g12)"/>
<g filter="url(#bl15)">
<rect x="1076.0" y="126.9" width="20.0" height="5.2" rx="1.7" fill="#000" fill-opacity="0.38"/>
<rect x="1103.0" y="126.5" width="20.0" height="5.9" rx="1.9" fill="#000" fill-opacity="0.92"/>
<rect x="1129.0" y="126.9" width="20.0" height="5.2" rx="1.7" fill="#000" fill-opacity="0.38"/>
<rect x="1155.0" y="126.9" width="20.0" height="5.1" rx="1.6" fill="#000" fill-opacity="0.33"/>
</g>
<rect x="1072.6" y="120.3" width="105.1" height="16.3" fill="none" stroke="#3a3a3a" stroke-width="1.2"/>
<rect x="1097.5" y="121" width="5" height="15" fill="#b8b8b8" filter="url(#bl15)" opacity="0.8"/>
<rect x="1123.5" y="121" width="5" height="15" fill="#b8b8b8" filter="url(#bl15)" opacity="0.8"/>
<rect x="1149.5" y="121" width="5" height="15" fill="#b8b8b8" filter="url(#bl15)" opacity="0.8"/>
<linearGradient id="g13" x1="0" y1="0" x2="0" y2="1"><stop offset="0" stop-color="#fafafa"/><stop offset="0.3" stop-color="#fdfdfd"/><stop offset="1" stop-color="#fdfdfd"/></linearGradient>
<rect x="1072.6" y="140.7" width="105.1" height="16.1" fill="url(#g13)"/>
<g filter="url(#bl12)">
<rect x="1076.0" y="146.6" width="20.0" height="4.2" rx="1.4" fill="#000" fill-opacity="0.33"/>
<rect x="1103.0" y="146.4" width="20.0" height="4.6" rx="1.5" fill="#000" fill-opacity="0.66"/>
<rect x="1129.0" y="146.6" width="20.0" height="4.3" rx="1.4" fill="#000" fill-opacity="0.43"/>
</g>
<rect x="1072.6" y="140.7" width="105.1" height="16.1" fill="none" stroke="#3a3a3a" stroke-width="1.2"/>
<linearGradient id="g14" x1="0" y1="0" x2="0" y2="1"><stop offset="0" stop-color="#d8d8d8"/><stop offset="0.3" stop-color="#e4e4e4"/><stop offset="1" stop-color="#e4e4e4"/></linearGradient>
<rect x="1072.6" y="160.7" width="105.1" height="20.9" fill="url(#g14)"/>
<g filter="url(#bl11)">
<rect x="1076.0" y="169.1" width="20.0" height="4.1" rx="1.3" fill="#000" fill-opacity="0.13"/>
<rect x="1103.0" y="168.7" width="20.0" height="4.9" rx="1.6" fill="#000" fill-opacity="0.92"/>
<rect x="1129.0" y="168.9" width="20.0" height="4.5" rx="1.4" fill="#000" fill-opacity="0.53"/>
</g>
<rect x="1072.6" y="160.7" width="105.1" height="20.9" fill="none" stroke="#3a3a3a" stroke-width="1.2"/>
<linearGradient id="g15" x1="0" y1="0" x2="0" y2="1"><stop offset="0" stop-color="#ececec"/><stop offset="0.3" stop-color="#f4f4f4"/><stop offset="1" stop-color="#f4f4f4"/></linearGradient>
<rect x="1072.6" y="185.7" width="105.1" height="20.6" fill="url(#g15)"/>
<g filter="url(#bl12)">
<rect x="1076.0" y="193.8" width="20.0" height="4.3" rx="1.4" fill="#000" fill-opacity="0.43"/>
<rect x="1103.0" y="193.6" width="20.0" height="4.9" rx="1.6" fill="#000" fill-opacity="0.88"/>
<rect x="1129.0" y="193.8" width="20.0" height="4.3" rx="1.4" fill="#000" fill-opacity="0.43"/>
<rect x="1155.0" y="193.9" width="20.0" height="4.1" rx="1.3" fill="#000" fill-opacity="0.16"/>
</g>
<rect x="1072.6" y="185.7" width="105.1" height="20.6" fill="none" stroke="#3a3a3a" stroke-width="1.2"/>
<linearGradient id="g16" x1="0" y1="0" x2="0" y2="1"><stop offset="0" stop-color="#d8d8d8"/><stop offset="0.3" stop-color="#e8e8e8"/><stop offset="1" stop-color="#e8e8e8"/></linearGradient>
<rect x="1073.0" y="210.8" width="105.4" height="20.0" fill="url(#g16)"/>
<g filter="url(#bl10)">
<rect x="1074.5" y="216.8" width="23.0" height="8.0" rx="2.6" fill="#000" fill-opacity="1.00"/>
<rect x="1101.5" y="216.8" width="23.0" height="8.0" rx="2.6" fill="#000" fill-opacity="1.00"/>
<rect x="1127.5" y="216.8" width="23.0" height="8.0" rx="2.6" fill="#000" fill-opacity="1.00"/>
</g>
<rect x="1073.0" y="210.8" width="105.4" height="20.0" fill="none" stroke="#3a3a3a" stroke-width="1.2"/>
<text x="1068.8" y="133.2" font-size="12.5" font-weight="bold" fill="#3a3a3a" text-anchor="end" letter-spacing="0.8" >OGA</text>
<text x="1068.8" y="153.1" font-size="12.5" font-weight="bold" fill="#3a3a3a" text-anchor="end" letter-spacing="0.8" >PI3Kα</text>
<text x="1068.8" y="175.7" font-size="12.5" font-weight="bold" fill="#3a3a3a" text-anchor="end" letter-spacing="0.8" >IKKβ</text>
<text x="1068.8" y="200.5" font-size="12.5" font-weight="bold" fill="#3a3a3a" text-anchor="end" letter-spacing="0.8" >CHK1</text>
<text x="1068.8" y="225.7" font-size="12.5" font-weight="bold" fill="#3a3a3a" text-anchor="end" letter-spacing="0.8" >Flag-CRBN</text>
<line x1="1180.0" y1="127.5" x2="1191.5" y2="127.5" stroke="#555" stroke-width="1.1" />
<text x="1194.5" y="131.8" font-size="12" font-weight="bold" fill="#222" text-anchor="start" letter-spacing="0.5" >130</text>
<line x1="1180.0" y1="148.6" x2="1191.5" y2="148.6" stroke="#555" stroke-width="1.1" />
<text x="1194.5" y="152.9" font-size="12" font-weight="bold" fill="#222" text-anchor="start" letter-spacing="0.5" >110</text>
<line x1="1180.0" y1="171.2" x2="1191.5" y2="171.2" stroke="#555" stroke-width="1.1" />
<text x="1194.5" y="175.5" font-size="12" font-weight="bold" fill="#222" text-anchor="start" letter-spacing="0.5" >85</text>
<line x1="1180.0" y1="196.0" x2="1191.5" y2="196.0" stroke="#555" stroke-width="1.1" />
<text x="1194.5" y="200.3" font-size="12" font-weight="bold" fill="#222" text-anchor="start" letter-spacing="0.5" >57</text>
<line x1="1180.0" y1="221.2" x2="1191.5" y2="221.2" stroke="#555" stroke-width="1.1" />
<text x="1194.5" y="225.5" font-size="12" font-weight="bold" fill="#222" text-anchor="start" letter-spacing="0.5" >56</text>
<line x1="1222.5" y1="118.0" x2="1222.5" y2="230.0" stroke="#444" stroke-width="1" />
<text transform="translate(1235.5,144.3) rotate(90)" font-size="13" font-weight="normal" fill="#222" letter-spacing="1.2">IP:Flag</text>
<linearGradient id="g17" x1="0" y1="0" x2="0" y2="1"><stop offset="0" stop-color="#d4d4d4"/><stop offset="0.3" stop-color="#e6e6e6"/><stop offset="1" stop-color="#e6e6e6"/></linearGradient>
<rect x="1074.2" y="247.0" width="104.7" height="25.2" fill="url(#g17)"/>
<g filter="url(#bl10)">
<rect x="1074.5" y="255.1" width="23.0" height="9.0" rx="2.9" fill="#000" fill-opacity="1.00"/>
<rect x="1102.5" y="256.4" width="21.0" height="6.5" rx="2.1" fill="#000" fill-opacity="1.00"/>
<rect x="1128.5" y="255.9" width="21.0" height="7.5" rx="2.4" fill="#000" fill-opacity="1.00"/>
<rect x="1154.0" y="255.9" width="22.0" height="7.5" rx="2.4" fill="#000" fill-opacity="1.00"/>
</g>
<rect x="1074.2" y="247.0" width="104.7" height="25.2" fill="none" stroke="#3a3a3a" stroke-width="1.2"/>
<linearGradient id="g18" x1="0" y1="0" x2="0" y2="1"><stop offset="0" stop-color="#a8a8a8"/><stop offset="0.3" stop-color="#c4c4c4"/><stop offset="1" stop-color="#c4c4c4"/></linearGradient>
<rect x="1074.2" y="276.5" width="104.7" height="13.7" fill="url(#g18)"/>
<g filter="url(#bl10)">
<rect x="1075.0" y="280.7" width="22.0" height="5.3" rx="1.7" fill="#000" fill-opacity="0.88"/>
<rect x="1102.0" y="280.7" width="22.0" height="5.3" rx="1.7" fill="#000" fill-opacity="0.84"/>
<rect x="1128.0" y="280.8" width="22.0" height="5.1" rx="1.6" fill="#000" fill-opacity="0.71"/>
<rect x="1154.0" y="280.8" width="22.0" height="5.0" rx="1.6" fill="#000" fill-opacity="0.62"/>
</g>
<rect x="1074.2" y="276.5" width="104.7" height="13.7" fill="none" stroke="#3a3a3a" stroke-width="1.2"/>
<linearGradient id="g19" x1="0" y1="0" x2="0" y2="1"><stop offset="0" stop-color="#c8c8c8"/><stop offset="0.3" stop-color="#d8d8d8"/><stop offset="1" stop-color="#d8d8d8"/></linearGradient>
<rect x="1074.2" y="292.6" width="104.7" height="20.0" fill="url(#g19)"/>
<g filter="url(#bl10)">
<rect x="1075.0" y="299.4" width="22.0" height="6.5" rx="2.1" fill="#000" fill-opacity="1.00"/>
<rect x="1102.0" y="299.4" width="22.0" height="6.5" rx="2.1" fill="#000" fill-opacity="1.00"/>
<rect x="1128.0" y="299.4" width="22.0" height="6.5" rx="2.1" fill="#000" fill-opacity="1.00"/>
<rect x="1154.0" y="299.4" width="22.0" height="6.5" rx="2.1" fill="#000" fill-opacity="1.00"/>
</g>
<rect x="1074.2" y="292.6" width="104.7" height="20.0" fill="none" stroke="#3a3a3a" stroke-width="1.2"/>
<linearGradient id="g20" x1="0" y1="0" x2="0" y2="1"><stop offset="0" stop-color="#d4d4d4"/><stop offset="0.3" stop-color="#e6e6e6"/><stop offset="1" stop-color="#e6e6e6"/></linearGradient>
<rect x="1074.2" y="315.4" width="104.7" height="24.1" fill="url(#g20)"/>
<g filter="url(#bl10)">
<rect x="1075.0" y="324.2" width="22.0" height="6.5" rx="2.1" fill="#000" fill-opacity="1.00"/>
<rect x="1102.0" y="324.2" width="22.0" height="6.5" rx="2.1" fill="#000" fill-opacity="1.00"/>
<rect x="1128.0" y="324.2" width="22.0" height="6.4" rx="2.1" fill="#000" fill-opacity="0.96"/>
<rect x="1154.0" y="324.2" width="22.0" height="6.5" rx="2.1" fill="#000" fill-opacity="1.00"/>
</g>
<rect x="1074.2" y="315.4" width="104.7" height="24.1" fill="none" stroke="#3a3a3a" stroke-width="1.2"/>
<linearGradient id="g21" x1="0" y1="0" x2="0" y2="1"><stop offset="0" stop-color="#c4c4c4"/><stop offset="0.3" stop-color="#d4d4d4"/><stop offset="1" stop-color="#d4d4d4"/></linearGradient>
<rect x="1074.2" y="341.4" width="104.7" height="19.7" fill="url(#g21)"/>
<g filter="url(#bl10)">
<rect x="1075.0" y="348.8" width="22.0" height="4.9" rx="1.6" fill="#000" fill-opacity="0.88"/>
<rect x="1102.0" y="348.9" width="22.0" height="4.8" rx="1.5" fill="#000" fill-opacity="0.84"/>
<rect x="1128.0" y="348.9" width="22.0" height="4.7" rx="1.5" fill="#000" fill-opacity="0.71"/>
<rect x="1154.0" y="348.9" width="22.0" height="4.8" rx="1.5" fill="#000" fill-opacity="0.84"/>
</g>
<rect x="1074.2" y="341.4" width="104.7" height="19.7" fill="none" stroke="#3a3a3a" stroke-width="1.2"/>
<linearGradient id="g22" x1="0" y1="0" x2="0" y2="1"><stop offset="0" stop-color="#d4d4d4"/><stop offset="0.3" stop-color="#e6e6e6"/><stop offset="1" stop-color="#e6e6e6"/></linearGradient>
<rect x="1074.2" y="364.7" width="104.7" height="19.3" fill="url(#g22)"/>
<g filter="url(#bl10)">
<rect x="1075.0" y="371.6" width="22.0" height="5.5" rx="1.8" fill="#000" fill-opacity="1.00"/>
<rect x="1102.0" y="371.6" width="22.0" height="5.5" rx="1.8" fill="#000" fill-opacity="1.00"/>
<rect x="1128.0" y="371.6" width="22.0" height="5.5" rx="1.8" fill="#000" fill-opacity="1.00"/>
<rect x="1154.0" y="371.6" width="22.0" height="5.5" rx="1.8" fill="#000" fill-opacity="1.00"/>
</g>
<rect x="1074.2" y="364.7" width="104.7" height="19.3" fill="none" stroke="#3a3a3a" stroke-width="1.2"/>
<text x="1068.8" y="264.5" font-size="12.5" font-weight="bold" fill="#3a3a3a" text-anchor="end" letter-spacing="0.8" >OGA</text>
<text x="1068.8" y="286.8" font-size="12.5" font-weight="bold" fill="#3a3a3a" text-anchor="end" letter-spacing="0.8" >PI3Kα</text>
<text x="1068.8" y="308.4" font-size="12.5" font-weight="bold" fill="#3a3a3a" text-anchor="end" letter-spacing="0.8" >IKKβ</text>
<text x="1068.8" y="332.5" font-size="12.5" font-weight="bold" fill="#3a3a3a" text-anchor="end" letter-spacing="0.8" >CHK1</text>
<text x="1068.8" y="356.5" font-size="12.5" font-weight="bold" fill="#3a3a3a" text-anchor="end" letter-spacing="0.8" >Flag-CRBN</text>
<text x="1068.8" y="380.5" font-size="12.5" font-weight="bold" fill="#3a3a3a" text-anchor="end" letter-spacing="0.8" >ACTIN</text>
<line x1="1180.0" y1="260.0" x2="1191.5" y2="260.0" stroke="#555" stroke-width="1.1" />
<text x="1194.5" y="264.3" font-size="12" font-weight="bold" fill="#222" text-anchor="start" letter-spacing="0.5" >130</text>
<line x1="1180.0" y1="282.3" x2="1191.5" y2="282.3" stroke="#555" stroke-width="1.1" />
<text x="1194.5" y="286.6" font-size="12" font-weight="bold" fill="#222" text-anchor="start" letter-spacing="0.5" >110</text>
<line x1="1180.0" y1="303.9" x2="1191.5" y2="303.9" stroke="#555" stroke-width="1.1" />
<text x="1194.5" y="308.2" font-size="12" font-weight="bold" fill="#222" text-anchor="start" letter-spacing="0.5" >85</text>
<line x1="1180.0" y1="328.0" x2="1191.5" y2="328.0" stroke="#555" stroke-width="1.1" />
<text x="1194.5" y="332.3" font-size="12" font-weight="bold" fill="#222" text-anchor="start" letter-spacing="0.5" >57</text>
<line x1="1180.0" y1="352.0" x2="1191.5" y2="352.0" stroke="#555" stroke-width="1.1" />
<text x="1194.5" y="356.3" font-size="12" font-weight="bold" fill="#222" text-anchor="start" letter-spacing="0.5" >56</text>
<line x1="1180.0" y1="376.0" x2="1191.5" y2="376.0" stroke="#555" stroke-width="1.1" />
<text x="1194.5" y="380.3" font-size="12" font-weight="bold" fill="#222" text-anchor="start" letter-spacing="0.5" >42</text>
<line x1="1222.5" y1="249.3" x2="1222.5" y2="380.4" stroke="#444" stroke-width="1" />
<text transform="translate(1235.5,297.4) rotate(90)" font-size="13.5" font-weight="normal" fill="#333" letter-spacing="1">Input</text>
<text x="158.0" y="465.3" font-size="10" font-weight="bold" fill="#111" text-anchor="middle" >PI3Kα</text>
<line x1="79.2" y1="477.7" x2="79.2" y2="582.5" stroke="#222" stroke-width="1.3" />
<line x1="78.6" y1="582.0" x2="235.4" y2="582.0" stroke="#222" stroke-width="1.3" />
<line x1="76.2" y1="582.0" x2="79.2" y2="582.0" stroke="#222" stroke-width="1.2" />
<text x="74.7" y="584.9" font-size="8" font-weight="bold" fill="#333" text-anchor="end" >0.0</text>
<line x1="76.2" y1="547.2" x2="79.2" y2="547.2" stroke="#222" stroke-width="1.2" />
<text x="74.7" y="550.1" font-size="8" font-weight="bold" fill="#333" text-anchor="end" >0.5</text>
<line x1="76.2" y1="512.5" x2="79.2" y2="512.5" stroke="#222" stroke-width="1.2" />
<text x="74.7" y="515.3" font-size="8" font-weight="bold" fill="#333" text-anchor="end" >1.0</text>
<line x1="76.2" y1="477.7" x2="79.2" y2="477.7" stroke="#222" stroke-width="1.2" />
<text x="74.7" y="480.6" font-size="8" font-weight="bold" fill="#333" text-anchor="end" >1.5</text>
<line x1="79.2" y1="582.0" x2="79.2" y2="585.0" stroke="#222" stroke-width="1.2" />
<text x="79.2" y="595.8" font-size="8" font-weight="bold" fill="#333" text-anchor="middle" >35</text>
<line x1="98.7" y1="582.0" x2="98.7" y2="585.0" stroke="#222" stroke-width="1.2" />
<text x="98.7" y="595.8" font-size="8" font-weight="bold" fill="#333" text-anchor="middle" >40</text>
<line x1="118.2" y1="582.0" x2="118.2" y2="585.0" stroke="#222" stroke-width="1.2" />
<text x="118.2" y="595.8" font-size="8" font-weight="bold" fill="#333" text-anchor="middle" >45</text>
<line x1="137.8" y1="582.0" x2="137.8" y2="585.0" stroke="#222" stroke-width="1.2" />
<text x="137.8" y="595.8" font-size="8" font-weight="bold" fill="#333" text-anchor="middle" >50</text>
<line x1="157.3" y1="582.0" x2="157.3" y2="585.0" stroke="#222" stroke-width="1.2" />
<text x="157.3" y="595.8" font-size="8" font-weight="bold" fill="#333" text-anchor="middle" >55</text>
<line x1="176.8" y1="582.0" x2="176.8" y2="585.0" stroke="#222" stroke-width="1.2" />
<text x="176.8" y="595.8" font-size="8" font-weight="bold" fill="#333" text-anchor="middle" >60</text>
<line x1="196.3" y1="582.0" x2="196.3" y2="585.0" stroke="#222" stroke-width="1.2" />
<text x="196.3" y="595.8" font-size="8" font-weight="bold" fill="#333" text-anchor="middle" >65</text>
<line x1="215.9" y1="582.0" x2="215.9" y2="585.0" stroke="#222" stroke-width="1.2" />
<text x="215.9" y="595.8" font-size="8" font-weight="bold" fill="#333" text-anchor="middle" >70</text>
<line x1="235.4" y1="582.0" x2="235.4" y2="585.0" stroke="#222" stroke-width="1.2" />
<text x="235.4" y="595.8" font-size="8" font-weight="bold" fill="#333" text-anchor="middle" >75</text>
<text x="157.3" y="609.1" font-size="8.7" font-weight="bold" fill="#333" text-anchor="middle" >Temperature(℃)</text>
<text transform="translate(58.3,529.9) rotate(-90)" font-size="8.5" font-weight="bold" fill="#333" text-anchor="middle">Relative band intensity(%)</text>
<polyline points="98.7,513.6 99.7,513.8 100.7,514.0 101.7,514.2 102.7,514.5 103.6,514.7 104.6,515.0 105.6,515.3 106.6,515.7 107.6,516.0 108.6,516.4 109.6,516.8 110.5,517.3 111.5,517.8 112.5,518.3 113.5,518.8 114.5,519.4 115.5,520.1 116.4,520.7 117.4,521.5 118.4,522.2 119.4,523.0 120.4,523.9 121.4,524.8 122.4,525.8 123.3,526.8 124.3,527.8 125.3,528.9 126.3,530.1 127.3,531.3 128.3,532.5 129.2,533.8 130.2,535.1 131.2,536.5 132.2,537.9 133.2,539.3 134.2,540.8 135.1,542.2 136.1,543.7 137.1,545.2 138.1,546.7 139.1,548.1 140.1,549.6 141.1,551.1 142.0,552.5 143.0,553.9 144.0,555.3 145.0,556.6 146.0,557.9 147.0,559.2 147.9,560.4 148.9,561.6 149.9,562.7 150.9,563.8 151.9,564.8 152.9,565.8 153.9,566.7 154.8,567.6 155.8,568.4 156.8,569.2 157.8,570.0 158.8,570.7 159.8,571.3 160.7,571.9 161.7,572.5 162.7,573.0 163.7,573.5 164.7,574.0 165.7,574.4 166.7,574.8 167.6,575.2 168.6,575.5 169.6,575.9 170.6,576.1 171.6,576.4 172.6,576.7 173.5,576.9 174.5,577.1 175.5,577.3 176.5,577.5 177.5,577.7 178.5,577.8 179.5,578.0 180.4,578.1 181.4,578.2 182.4,578.3 183.4,578.4 184.4,578.5 185.4,578.6 186.3,578.7 187.3,578.8 188.3,578.8 189.3,578.9 190.3,578.9 191.3,579.0 192.2,579.0 193.2,579.1 194.2,579.1 195.2,579.2 196.2,579.2 197.2,579.2 198.2,579.3 199.1,579.3 200.1,579.3 201.1,579.3 202.1,579.4 203.1,579.4 204.1,579.4 205.0,579.4 206.0,579.4 207.0,579.4 208.0,579.4 209.0,579.5 210.0,579.5 211.0,579.5 211.9,579.5 212.9,579.5 213.9,579.5 214.9,579.5 215.9,579.5" fill="none" stroke="#d42020" stroke-width="1" stroke-opacity="0.65"/>
<rect x="96.4" y="510.2" width="4.6" height="4.6" fill="#d42020"/>
<line x1="110.4" y1="525.0" x2="110.4" y2="513.9" stroke="#d42020" stroke-width="0.8" />
<line x1="108.4" y1="513.9" x2="112.4" y2="513.9" stroke="#d42020" stroke-width="0.8" />
<line x1="108.4" y1="525.0" x2="112.4" y2="525.0" stroke="#d42020" stroke-width="0.8" />
<rect x="108.1" y="517.1" width="4.6" height="4.6" fill="#d42020"/>
<line x1="122.2" y1="531.2" x2="122.2" y2="517.3" stroke="#d42020" stroke-width="0.8" />
<line x1="120.2" y1="517.3" x2="124.2" y2="517.3" stroke="#d42020" stroke-width="0.8" />
<line x1="120.2" y1="531.2" x2="124.2" y2="531.2" stroke="#d42020" stroke-width="0.8" />
<rect x="119.9" y="522.0" width="4.6" height="4.6" fill="#d42020"/>
<line x1="133.9" y1="547.2" x2="133.9" y2="533.3" stroke="#d42020" stroke-width="0.8" />
<line x1="131.9" y1="533.3" x2="135.9" y2="533.3" stroke="#d42020" stroke-width="0.8" />
<line x1="131.9" y1="547.2" x2="135.9" y2="547.2" stroke="#d42020" stroke-width="0.8" />
<rect x="131.6" y="538.0" width="4.6" height="4.6" fill="#d42020"/>
<line x1="145.6" y1="563.9" x2="145.6" y2="552.8" stroke="#d42020" stroke-width="0.8" />
<line x1="143.6" y1="552.8" x2="147.6" y2="552.8" stroke="#d42020" stroke-width="0.8" />
<line x1="143.6" y1="563.9" x2="147.6" y2="563.9" stroke="#d42020" stroke-width="0.8" />
<rect x="143.3" y="556.1" width="4.6" height="4.6" fill="#d42020"/>
<line x1="157.3" y1="572.3" x2="157.3" y2="563.9" stroke="#d42020" stroke-width="0.8" />
<line x1="155.3" y1="563.9" x2="159.3" y2="563.9" stroke="#d42020" stroke-width="0.8" />
<line x1="155.3" y1="572.3" x2="159.3" y2="572.3" stroke="#d42020" stroke-width="0.8" />
<rect x="155.0" y="565.8" width="4.6" height="4.6" fill="#d42020"/>
<line x1="169.0" y1="579.2" x2="169.0" y2="575.0" stroke="#d42020" stroke-width="0.8" />
<line x1="167.0" y1="575.0" x2="171.0" y2="575.0" stroke="#d42020" stroke-width="0.8" />
<line x1="167.0" y1="579.2" x2="171.0" y2="579.2" stroke="#d42020" stroke-width="0.8" />
<rect x="166.7" y="574.8" width="4.6" height="4.6" fill="#d42020"/>
<line x1="180.7" y1="579.9" x2="180.7" y2="575.7" stroke="#d42020" stroke-width="0.8" />
<line x1="178.7" y1="575.7" x2="182.7" y2="575.7" stroke="#d42020" stroke-width="0.8" />
<line x1="178.7" y1="579.9" x2="182.7" y2="579.9" stroke="#d42020" stroke-width="0.8" />
<rect x="178.4" y="575.5" width="4.6" height="4.6" fill="#d42020"/>
<line x1="192.4" y1="579.9" x2="192.4" y2="577.1" stroke="#d42020" stroke-width="0.8" />
<line x1="190.4" y1="577.1" x2="194.4" y2="577.1" stroke="#d42020" stroke-width="0.8" />
<line x1="190.4" y1="579.9" x2="194.4" y2="579.9" stroke="#d42020" stroke-width="0.8" />
<rect x="190.1" y="576.2" width="4.6" height="4.6" fill="#d42020"/>
<line x1="204.2" y1="580.6" x2="204.2" y2="577.8" stroke="#d42020" stroke-width="0.8" />
<line x1="202.2" y1="577.8" x2="206.2" y2="577.8" stroke="#d42020" stroke-width="0.8" />
<line x1="202.2" y1="580.6" x2="206.2" y2="580.6" stroke="#d42020" stroke-width="0.8" />
<rect x="201.9" y="576.9" width="4.6" height="4.6" fill="#d42020"/>
<line x1="215.9" y1="581.3" x2="215.9" y2="578.5" stroke="#d42020" stroke-width="0.8" />
<line x1="213.9" y1="578.5" x2="217.9" y2="578.5" stroke="#d42020" stroke-width="0.8" />
<line x1="213.9" y1="581.3" x2="217.9" y2="581.3" stroke="#d42020" stroke-width="0.8" />
<rect x="213.6" y="577.6" width="4.6" height="4.6" fill="#d42020"/>
<polyline points="98.7,510.6 99.7,511.0 100.7,511.5 101.7,512.1 102.7,512.7 103.6,513.4 104.6,514.1 105.6,515.0 106.6,515.9 107.6,517.0 108.6,518.2 109.6,519.5 110.5,520.9 111.5,522.4 112.5,524.1 113.5,525.9 114.5,527.8 115.5,529.9 116.4,532.0 117.4,534.3 118.4,536.6 119.4,539.0 120.4,541.4 121.4,543.9 122.4,546.4 123.3,548.8 124.3,551.2 125.3,553.6 126.3,555.8 127.3,558.0 128.3,560.0 129.2,562.0 130.2,563.8 131.2,565.4 132.2,567.0 133.2,568.4 134.2,569.7 135.1,570.9 136.1,571.9 137.1,572.9 138.1,573.8 139.1,574.5 140.1,575.2 141.1,575.8 142.0,576.4 143.0,576.9 144.0,577.3 145.0,577.7 146.0,578.0 147.0,578.3 147.9,578.5 148.9,578.8 149.9,579.0 150.9,579.1 151.9,579.3 152.9,579.4 153.9,579.5 154.8,579.6 155.8,579.7 156.8,579.8 157.8,579.9 158.8,579.9 159.8,580.0 160.7,580.0 161.7,580.1 162.7,580.1 163.7,580.1 164.7,580.2 165.7,580.2 166.7,580.2 167.6,580.2 168.6,580.2 169.6,580.3 170.6,580.3 171.6,580.3 172.6,580.3 173.5,580.3 174.5,580.3 175.5,580.3 176.5,580.3 177.5,580.3 178.5,580.3 179.5,580.3 180.4,580.3 181.4,580.3 182.4,580.3 183.4,580.3 184.4,580.3 185.4,580.3 186.3,580.3 187.3,580.3 188.3,580.3 189.3,580.3 190.3,580.4 191.3,580.4 192.2,580.4 193.2,580.4 194.2,580.4 195.2,580.4 196.2,580.4 197.2,580.4 198.2,580.4 199.1,580.4 200.1,580.4 201.1,580.4 202.1,580.4 203.1,580.4 204.1,580.4 205.0,580.4 206.0,580.4 207.0,580.4 208.0,580.4 209.0,580.4 210.0,580.4 211.0,580.4 211.9,580.4 212.9,580.4 213.9,580.4 214.9,580.4 215.9,580.4" fill="none" stroke="#1010d0" stroke-width="1" stroke-opacity="0.65"/>
<circle cx="98.7" cy="512.5" r="2.3" fill="#1010d0"/>
<line x1="110.4" y1="524.3" x2="110.4" y2="510.4" stroke="#1010d0" stroke-width="0.8" />
<line x1="108.4" y1="510.4" x2="112.4" y2="510.4" stroke="#1010d0" stroke-width="0.8" />
<line x1="108.4" y1="524.3" x2="112.4" y2="524.3" stroke="#1010d0" stroke-width="0.8" />
<circle cx="110.4" cy="517.3" r="2.3" fill="#1010d0"/>
<line x1="122.2" y1="560.4" x2="122.2" y2="536.8" stroke="#1010d0" stroke-width="0.8" />
<line x1="120.2" y1="536.8" x2="124.2" y2="536.8" stroke="#1010d0" stroke-width="0.8" />
<line x1="120.2" y1="560.4" x2="124.2" y2="560.4" stroke="#1010d0" stroke-width="0.8" />
<circle cx="122.2" cy="548.6" r="2.3" fill="#1010d0"/>
<line x1="133.9" y1="572.3" x2="133.9" y2="563.9" stroke="#1010d0" stroke-width="0.8" />
<line x1="131.9" y1="563.9" x2="135.9" y2="563.9" stroke="#1010d0" stroke-width="0.8" />
<line x1="131.9" y1="572.3" x2="135.9" y2="572.3" stroke="#1010d0" stroke-width="0.8" />
<circle cx="133.9" cy="568.1" r="2.3" fill="#1010d0"/>
<line x1="145.6" y1="581.3" x2="145.6" y2="568.8" stroke="#1010d0" stroke-width="0.8" />
<line x1="143.6" y1="568.8" x2="147.6" y2="568.8" stroke="#1010d0" stroke-width="0.8" />
<line x1="143.6" y1="581.3" x2="147.6" y2="581.3" stroke="#1010d0" stroke-width="0.8" />
<circle cx="145.6" cy="575.0" r="2.3" fill="#1010d0"/>
<line x1="157.3" y1="581.3" x2="157.3" y2="577.1" stroke="#1010d0" stroke-width="0.8" />
<line x1="155.3" y1="577.1" x2="159.3" y2="577.1" stroke="#1010d0" stroke-width="0.8" />
<line x1="155.3" y1="581.3" x2="159.3" y2="581.3" stroke="#1010d0" stroke-width="0.8" />
<circle cx="157.3" cy="579.2" r="2.3" fill="#1010d0"/>
<circle cx="169.0" cy="580.6" r="2.3" fill="#1010d0"/>
<circle cx="180.7" cy="581.3" r="2.3" fill="#1010d0"/>
<circle cx="192.4" cy="580.6" r="2.3" fill="#1010d0"/>
<circle cx="204.2" cy="581.3" r="2.3" fill="#1010d0"/>
<circle cx="215.9" cy="581.3" r="2.3" fill="#1010d0"/>
<line x1="259.1" y1="485.3" x2="270.1" y2="485.3" stroke="#1010d0" stroke-width="0.8" />
<circle cx="264.6" cy="485.3" r="2.4" fill="#1010d0"/>
<text x="276.6" y="488.4" font-size="8.7" font-weight="normal" fill="#333" text-anchor="start" >DMSO</text>
<line x1="259.1" y1="499.7" x2="270.1" y2="499.7" stroke="#d42020" stroke-width="0.8" />
<rect x="262.20000000000005" y="497.3" width="4.8" height="4.8" fill="#d42020"/>
<text x="276.6" y="502.8" font-size="8.7" font-weight="normal" fill="#333" text-anchor="start" >Celastrol</text>
<text x="454.8" y="465.3" font-size="10" font-weight="bold" fill="#111" text-anchor="middle" >IKKβ</text>
<line x1="376.2" y1="477.5" x2="376.2" y2="582.8" stroke="#222" stroke-width="1.3" />
<line x1="375.6" y1="582.3" x2="532.7" y2="582.3" stroke="#222" stroke-width="1.3" />
<line x1="373.2" y1="582.3" x2="376.2" y2="582.3" stroke="#222" stroke-width="1.2" />
<text x="371.7" y="585.2" font-size="8" font-weight="bold" fill="#333" text-anchor="end" >0.0</text>
<line x1="373.2" y1="547.4" x2="376.2" y2="547.4" stroke="#222" stroke-width="1.2" />
<text x="371.7" y="550.2" font-size="8" font-weight="bold" fill="#333" text-anchor="end" >0.5</text>
<line x1="373.2" y1="512.4" x2="376.2" y2="512.4" stroke="#222" stroke-width="1.2" />
<text x="371.7" y="515.3" font-size="8" font-weight="bold" fill="#333" text-anchor="end" >1.0</text>
<line x1="373.2" y1="477.5" x2="376.2" y2="477.5" stroke="#222" stroke-width="1.2" />
<text x="371.7" y="480.4" font-size="8" font-weight="bold" fill="#333" text-anchor="end" >1.5</text>
<line x1="376.2" y1="582.3" x2="376.2" y2="585.3" stroke="#222" stroke-width="1.2" />
<text x="376.2" y="595.8" font-size="8" font-weight="bold" fill="#333" text-anchor="middle" >35</text>
<line x1="395.8" y1="582.3" x2="395.8" y2="585.3" stroke="#222" stroke-width="1.2" />
<text x="395.8" y="595.8" font-size="8" font-weight="bold" fill="#333" text-anchor="middle" >40</text>
<line x1="415.3" y1="582.3" x2="415.3" y2="585.3" stroke="#222" stroke-width="1.2" />
<text x="415.3" y="595.8" font-size="8" font-weight="bold" fill="#333" text-anchor="middle" >45</text>
<line x1="434.9" y1="582.3" x2="434.9" y2="585.3" stroke="#222" stroke-width="1.2" />
<text x="434.9" y="595.8" font-size="8" font-weight="bold" fill="#333" text-anchor="middle" >50</text>
<line x1="454.5" y1="582.3" x2="454.5" y2="585.3" stroke="#222" stroke-width="1.2" />
<text x="454.5" y="595.8" font-size="8" font-weight="bold" fill="#333" text-anchor="middle" >55</text>
<line x1="474.0" y1="582.3" x2="474.0" y2="585.3" stroke="#222" stroke-width="1.2" />
<text x="474.0" y="595.8" font-size="8" font-weight="bold" fill="#333" text-anchor="middle" >60</text>
<line x1="493.6" y1="582.3" x2="493.6" y2="585.3" stroke="#222" stroke-width="1.2" />
<text x="493.6" y="595.8" font-size="8" font-weight="bold" fill="#333" text-anchor="middle" >65</text>
<line x1="513.1" y1="582.3" x2="513.1" y2="585.3" stroke="#222" stroke-width="1.2" />
<text x="513.1" y="595.8" font-size="8" font-weight="bold" fill="#333" text-anchor="middle" >70</text>
<line x1="532.7" y1="582.3" x2="532.7" y2="585.3" stroke="#222" stroke-width="1.2" />
<text x="532.7" y="595.8" font-size="8" font-weight="bold" fill="#333" text-anchor="middle" >75</text>
<text x="454.5" y="609.1" font-size="8.7" font-weight="bold" fill="#333" text-anchor="middle" >Temperature(℃)</text>
<text transform="translate(355.5,529.9) rotate(-90)" font-size="8.5" font-weight="bold" fill="#333" text-anchor="middle">Relative band intensity(%)</text>
<polyline points="395.8,511.3 396.7,511.5 397.7,511.6 398.7,511.8 399.7,512.0 400.7,512.2 401.7,512.4 402.7,512.6 403.7,512.9 404.6,513.1 405.6,513.4 406.6,513.7 407.6,514.1 408.6,514.4 409.6,514.8 410.6,515.2 411.5,515.7 412.5,516.2 413.5,516.7 414.5,517.2 415.5,517.8 416.5,518.4 417.5,519.0 418.4,519.7 419.4,520.5 420.4,521.2 421.4,522.1 422.4,522.9 423.4,523.8 424.4,524.8 425.4,525.7 426.3,526.8 427.3,527.8 428.3,528.9 429.3,530.0 430.3,531.2 431.3,532.4 432.3,533.6 433.2,534.9 434.2,536.1 435.2,537.4 436.2,538.7 437.2,540.0 438.2,541.3 439.2,542.5 440.1,543.8 441.1,545.1 442.1,546.3 443.1,547.6 444.1,548.8 445.1,550.0 446.1,551.1 447.1,552.2 448.0,553.3 449.0,554.3 450.0,555.3 451.0,556.3 452.0,557.2 453.0,558.1 454.0,558.9 454.9,559.7 455.9,560.5 456.9,561.2 457.9,561.8 458.9,562.5 459.9,563.1 460.9,563.6 461.8,564.1 462.8,564.6 463.8,565.1 464.8,565.5 465.8,565.9 466.8,566.3 467.8,566.6 468.8,567.0 469.7,567.3 470.7,567.5 471.7,567.8 472.7,568.0 473.7,568.2 474.7,568.5 475.7,568.6 476.6,568.8 477.6,569.0 478.6,569.1 479.6,569.3 480.6,569.4 481.6,569.5 482.6,569.6 483.5,569.7 484.5,569.8 485.5,569.9 486.5,570.0 487.5,570.0 488.5,570.1 489.5,570.2 490.5,570.2 491.4,570.3 492.4,570.3 493.4,570.4 494.4,570.4 495.4,570.4 496.4,570.5 497.4,570.5 498.3,570.5 499.3,570.6 500.3,570.6 501.3,570.6 502.3,570.6 503.3,570.7 504.3,570.7 505.2,570.7 506.2,570.7 507.2,570.7 508.2,570.7 509.2,570.7 510.2,570.8 511.2,570.8 512.2,570.8 513.1,570.8" fill="none" stroke="#d42020" stroke-width="1" stroke-opacity="0.65"/>
<rect x="393.5" y="510.1" width="4.6" height="4.6" fill="#d42020"/>
<rect x="405.2" y="511.5" width="4.6" height="4.6" fill="#d42020"/>
<line x1="419.2" y1="521.5" x2="419.2" y2="514.5" stroke="#d42020" stroke-width="0.8" />
<line x1="417.2" y1="514.5" x2="421.2" y2="514.5" stroke="#d42020" stroke-width="0.8" />
<line x1="417.2" y1="521.5" x2="421.2" y2="521.5" stroke="#d42020" stroke-width="0.8" />
<rect x="416.9" y="515.7" width="4.6" height="4.6" fill="#d42020"/>
<line x1="431.0" y1="542.5" x2="431.0" y2="525.7" stroke="#d42020" stroke-width="0.8" />
<line x1="429.0" y1="525.7" x2="433.0" y2="525.7" stroke="#d42020" stroke-width="0.8" />
<line x1="429.0" y1="542.5" x2="433.0" y2="542.5" stroke="#d42020" stroke-width="0.8" />
<rect x="428.7" y="531.8" width="4.6" height="4.6" fill="#d42020"/>
<line x1="442.7" y1="559.9" x2="442.7" y2="532.0" stroke="#d42020" stroke-width="0.8" />
<line x1="440.7" y1="532.0" x2="444.7" y2="532.0" stroke="#d42020" stroke-width="0.8" />
<line x1="440.7" y1="559.9" x2="444.7" y2="559.9" stroke="#d42020" stroke-width="0.8" />
<rect x="440.4" y="543.7" width="4.6" height="4.6" fill="#d42020"/>
<line x1="454.5" y1="568.3" x2="454.5" y2="554.4" stroke="#d42020" stroke-width="0.8" />
<line x1="452.5" y1="554.4" x2="456.5" y2="554.4" stroke="#d42020" stroke-width="0.8" />
<line x1="452.5" y1="568.3" x2="456.5" y2="568.3" stroke="#d42020" stroke-width="0.8" />
<rect x="452.2" y="559.0" width="4.6" height="4.6" fill="#d42020"/>
<line x1="466.2" y1="575.3" x2="466.2" y2="551.6" stroke="#d42020" stroke-width="0.8" />
<line x1="464.2" y1="551.6" x2="468.2" y2="551.6" stroke="#d42020" stroke-width="0.8" />
<line x1="464.2" y1="575.3" x2="468.2" y2="575.3" stroke="#d42020" stroke-width="0.8" />
<rect x="463.9" y="561.1" width="4.6" height="4.6" fill="#d42020"/>
<line x1="477.9" y1="577.4" x2="477.9" y2="559.2" stroke="#d42020" stroke-width="0.8" />
<line x1="475.9" y1="559.2" x2="479.9" y2="559.2" stroke="#d42020" stroke-width="0.8" />
<line x1="475.9" y1="577.4" x2="479.9" y2="577.4" stroke="#d42020" stroke-width="0.8" />
<rect x="475.6" y="566.0" width="4.6" height="4.6" fill="#d42020"/>
<line x1="489.7" y1="574.6" x2="489.7" y2="567.6" stroke="#d42020" stroke-width="0.8" />
<line x1="487.7" y1="567.6" x2="491.7" y2="567.6" stroke="#d42020" stroke-width="0.8" />
<line x1="487.7" y1="574.6" x2="491.7" y2="574.6" stroke="#d42020" stroke-width="0.8" />
<rect x="487.4" y="568.8" width="4.6" height="4.6" fill="#d42020"/>
<line x1="501.4" y1="573.2" x2="501.4" y2="563.4" stroke="#d42020" stroke-width="0.8" />
<line x1="499.4" y1="563.4" x2="503.4" y2="563.4" stroke="#d42020" stroke-width="0.8" />
<line x1="499.4" y1="573.2" x2="503.4" y2="573.2" stroke="#d42020" stroke-width="0.8" />
<rect x="499.1" y="566.0" width="4.6" height="4.6" fill="#d42020"/>
<line x1="513.1" y1="578.8" x2="513.1" y2="569.0" stroke="#d42020" stroke-width="0.8" />
<line x1="511.1" y1="569.0" x2="515.1" y2="569.0" stroke="#d42020" stroke-width="0.8" />
<line x1="511.1" y1="578.8" x2="515.1" y2="578.8" stroke="#d42020" stroke-width="0.8" />
<rect x="510.8" y="571.6" width="4.6" height="4.6" fill="#d42020"/>
<polyline points="395.8,512.3 396.7,513.5 397.7,514.8 398.7,516.2 399.7,517.6 400.7,519.2 401.7,520.8 402.7,522.5 403.7,524.3 404.6,526.1 405.6,528.0 406.6,529.9 407.6,531.9 408.6,534.0 409.6,536.0 410.6,538.1 411.5,540.2 412.5,542.3 413.5,544.4 414.5,546.4 415.5,548.5 416.5,550.5 417.5,552.4 418.4,554.3 419.4,556.1 420.4,557.8 421.4,559.5 422.4,561.1 423.4,562.6 424.4,564.1 425.4,565.4 426.3,566.7 427.3,567.9 428.3,569.1 429.3,570.1 430.3,571.1 431.3,572.0 432.3,572.8 433.2,573.6 434.2,574.3 435.2,575.0 436.2,575.6 437.2,576.1 438.2,576.7 439.2,577.1 440.1,577.6 441.1,577.9 442.1,578.3 443.1,578.6 444.1,578.9 445.1,579.2 446.1,579.4 447.1,579.7 448.0,579.9 449.0,580.1 450.0,580.2 451.0,580.4 452.0,580.5 453.0,580.7 454.0,580.8 454.9,580.9 455.9,581.0 456.9,581.1 457.9,581.1 458.9,581.2 459.9,581.3 460.9,581.3 461.8,581.4 462.8,581.4 463.8,581.5 464.8,581.5 465.8,581.5 466.8,581.6 467.8,581.6 468.8,581.6 469.7,581.7 470.7,581.7 471.7,581.7 472.7,581.7 473.7,581.7 474.7,581.7 475.7,581.8 476.6,581.8 477.6,581.8 478.6,581.8 479.6,581.8 480.6,581.8 481.6,581.8 482.6,581.8 483.5,581.8 484.5,581.8 485.5,581.8 486.5,581.8 487.5,581.8 488.5,581.8 489.5,581.8 490.5,581.8 491.4,581.9 492.4,581.9 493.4,581.9 494.4,581.9 495.4,581.9 496.4,581.9 497.4,581.9 498.3,581.9 499.3,581.9 500.3,581.9 501.3,581.9 502.3,581.9 503.3,581.9 504.3,581.9 505.2,581.9 506.2,581.9 507.2,581.9 508.2,581.9 509.2,581.9 510.2,581.9 511.2,581.9 512.2,581.9 513.1,581.9" fill="none" stroke="#1010d0" stroke-width="1" stroke-opacity="0.65"/>
<circle cx="395.8" cy="512.4" r="2.3" fill="#1010d0"/>
<circle cx="407.5" cy="531.3" r="2.3" fill="#1010d0"/>
<line x1="419.2" y1="564.1" x2="419.2" y2="548.8" stroke="#1010d0" stroke-width="0.8" />
<line x1="417.2" y1="548.8" x2="421.2" y2="548.8" stroke="#1010d0" stroke-width="0.8" />
<line x1="417.2" y1="564.1" x2="421.2" y2="564.1" stroke="#1010d0" stroke-width="0.8" />
<circle cx="419.2" cy="556.4" r="2.3" fill="#1010d0"/>
<line x1="431.0" y1="573.2" x2="431.0" y2="569.0" stroke="#1010d0" stroke-width="0.8" />
<line x1="429.0" y1="569.0" x2="433.0" y2="569.0" stroke="#1010d0" stroke-width="0.8" />
<line x1="429.0" y1="573.2" x2="433.0" y2="573.2" stroke="#1010d0" stroke-width="0.8" />
<circle cx="431.0" cy="571.1" r="2.3" fill="#1010d0"/>
<circle cx="442.7" cy="578.1" r="2.3" fill="#1010d0"/>
<circle cx="454.5" cy="581.6" r="2.3" fill="#1010d0"/>
<circle cx="466.2" cy="581.6" r="2.3" fill="#1010d0"/>
<circle cx="477.9" cy="581.6" r="2.3" fill="#1010d0"/>
<circle cx="489.7" cy="581.6" r="2.3" fill="#1010d0"/>
<circle cx="501.4" cy="582.3" r="2.3" fill="#1010d0"/>
<circle cx="513.1" cy="581.6" r="2.3" fill="#1010d0"/>
<line x1="556.3" y1="485.6" x2="567.3" y2="485.6" stroke="#1010d0" stroke-width="0.8" />
<circle cx="561.8" cy="485.6" r="2.4" fill="#1010d0"/>
<text x="573.8" y="488.7" font-size="8.7" font-weight="normal" fill="#333" text-anchor="start" >DMSO</text>
<line x1="556.3" y1="500.0" x2="567.3" y2="500.0" stroke="#d42020" stroke-width="0.8" />
<rect x="559.4" y="497.6" width="4.8" height="4.8" fill="#d42020"/>
<text x="573.8" y="503.1" font-size="8.7" font-weight="normal" fill="#333" text-anchor="start" >Celastrol</text>
<text x="752.0" y="465.3" font-size="10" font-weight="bold" fill="#111" text-anchor="middle" >CHK1</text>
<line x1="674.3" y1="477.5" x2="674.3" y2="582.8" stroke="#222" stroke-width="1.3" />
<line x1="673.7" y1="582.3" x2="831.3" y2="582.3" stroke="#222" stroke-width="1.3" />
<line x1="671.3" y1="582.3" x2="674.3" y2="582.3" stroke="#222" stroke-width="1.2" />
<text x="669.8" y="585.2" font-size="8" font-weight="bold" fill="#333" text-anchor="end" >0.0</text>
<line x1="671.3" y1="547.4" x2="674.3" y2="547.4" stroke="#222" stroke-width="1.2" />
<text x="669.8" y="550.2" font-size="8" font-weight="bold" fill="#333" text-anchor="end" >0.5</text>
<line x1="671.3" y1="512.4" x2="674.3" y2="512.4" stroke="#222" stroke-width="1.2" />
<text x="669.8" y="515.3" font-size="8" font-weight="bold" fill="#333" text-anchor="end" >1.0</text>
<line x1="671.3" y1="477.5" x2="674.3" y2="477.5" stroke="#222" stroke-width="1.2" />
<text x="669.8" y="480.4" font-size="8" font-weight="bold" fill="#333" text-anchor="end" >1.5</text>
<line x1="674.3" y1="582.3" x2="674.3" y2="585.3" stroke="#222" stroke-width="1.2" />
<text x="674.3" y="595.8" font-size="8" font-weight="bold" fill="#333" text-anchor="middle" >40</text>
<line x1="700.5" y1="582.3" x2="700.5" y2="585.3" stroke="#222" stroke-width="1.2" />
<text x="700.5" y="595.8" font-size="8" font-weight="bold" fill="#333" text-anchor="middle" >45</text>
<line x1="726.6" y1="582.3" x2="726.6" y2="585.3" stroke="#222" stroke-width="1.2" />
<text x="726.6" y="595.8" font-size="8" font-weight="bold" fill="#333" text-anchor="middle" >50</text>
<line x1="752.8" y1="582.3" x2="752.8" y2="585.3" stroke="#222" stroke-width="1.2" />
<text x="752.8" y="595.8" font-size="8" font-weight="bold" fill="#333" text-anchor="middle" >55</text>
<line x1="779.0" y1="582.3" x2="779.0" y2="585.3" stroke="#222" stroke-width="1.2" />
<text x="779.0" y="595.8" font-size="8" font-weight="bold" fill="#333" text-anchor="middle" >60</text>
<line x1="805.1" y1="582.3" x2="805.1" y2="585.3" stroke="#222" stroke-width="1.2" />
<text x="805.1" y="595.8" font-size="8" font-weight="bold" fill="#333" text-anchor="middle" >65</text>
<line x1="831.3" y1="582.3" x2="831.3" y2="585.3" stroke="#222" stroke-width="1.2" />
<text x="831.3" y="595.8" font-size="8" font-weight="bold" fill="#333" text-anchor="middle" >70</text>
<text x="752.8" y="609.1" font-size="8.7" font-weight="bold" fill="#333" text-anchor="middle" >Temperature(℃)</text>
<text transform="translate(653.4,529.9) rotate(-90)" font-size="8.5" font-weight="bold" fill="#333" text-anchor="middle">Relative band intensity(%)</text>
<polyline points="674.3,510.5 675.6,510.7 676.9,510.9 678.3,511.1 679.6,511.3 680.9,511.6 682.2,511.9 683.5,512.2 684.9,512.5 686.2,512.9 687.5,513.3 688.8,513.7 690.1,514.2 691.5,514.8 692.8,515.4 694.1,516.0 695.4,516.7 696.7,517.5 698.0,518.3 699.4,519.2 700.7,520.1 702.0,521.2 703.3,522.3 704.6,523.5 706.0,524.7 707.3,526.0 708.6,527.5 709.9,528.9 711.2,530.5 712.6,532.1 713.9,533.8 715.2,535.5 716.5,537.3 717.8,539.1 719.2,541.0 720.5,542.9 721.8,544.8 723.1,546.7 724.4,548.6 725.8,550.4 727.1,552.3 728.4,554.1 729.7,555.8 731.0,557.5 732.4,559.2 733.7,560.7 735.0,562.2 736.3,563.7 737.6,565.0 738.9,566.3 740.3,567.5 741.6,568.6 742.9,569.7 744.2,570.7 745.5,571.6 746.9,572.4 748.2,573.2 749.5,573.9 750.8,574.6 752.1,575.2 753.5,575.7 754.8,576.3 756.1,576.7 757.4,577.1 758.7,577.5 760.1,577.9 761.4,578.2 762.7,578.5 764.0,578.8 765.3,579.0 766.7,579.2 768.0,579.4 769.3,579.6 770.6,579.7 771.9,579.9 773.2,580.0 774.6,580.1 775.9,580.2 777.2,580.3 778.5,580.4 779.8,580.5 781.2,580.6 782.5,580.6 783.8,580.7 785.1,580.8 786.4,580.8 787.8,580.8 789.1,580.9 790.4,580.9 791.7,580.9 793.0,581.0 794.4,581.0 795.7,581.0 797.0,581.0 798.3,581.1 799.6,581.1 801.0,581.1 802.3,581.1 803.6,581.1 804.9,581.1 806.2,581.1 807.6,581.1 808.9,581.2 810.2,581.2 811.5,581.2 812.8,581.2 814.1,581.2 815.5,581.2 816.8,581.2 818.1,581.2 819.4,581.2 820.7,581.2 822.1,581.2 823.4,581.2 824.7,581.2 826.0,581.2 827.3,581.2 828.7,581.2 830.0,581.2 831.3,581.2" fill="none" stroke="#d42020" stroke-width="1" stroke-opacity="0.65"/>
<rect x="672.0" y="510.1" width="4.6" height="4.6" fill="#d42020"/>
<line x1="690.0" y1="515.2" x2="690.0" y2="508.2" stroke="#d42020" stroke-width="0.8" />
<line x1="688.0" y1="508.2" x2="692.0" y2="508.2" stroke="#d42020" stroke-width="0.8" />
<line x1="688.0" y1="515.2" x2="692.0" y2="515.2" stroke="#d42020" stroke-width="0.8" />
<rect x="687.7" y="509.4" width="4.6" height="4.6" fill="#d42020"/>
<line x1="705.7" y1="526.4" x2="705.7" y2="522.2" stroke="#d42020" stroke-width="0.8" />
<line x1="703.7" y1="522.2" x2="707.7" y2="522.2" stroke="#d42020" stroke-width="0.8" />
<line x1="703.7" y1="526.4" x2="707.7" y2="526.4" stroke="#d42020" stroke-width="0.8" />
<rect x="703.4" y="522.0" width="4.6" height="4.6" fill="#d42020"/>
<line x1="721.4" y1="549.5" x2="721.4" y2="542.5" stroke="#d42020" stroke-width="0.8" />
<line x1="719.4" y1="542.5" x2="723.4" y2="542.5" stroke="#d42020" stroke-width="0.8" />
<line x1="719.4" y1="549.5" x2="723.4" y2="549.5" stroke="#d42020" stroke-width="0.8" />
<rect x="719.1" y="543.7" width="4.6" height="4.6" fill="#d42020"/>
<line x1="737.1" y1="566.2" x2="737.1" y2="559.2" stroke="#d42020" stroke-width="0.8" />
<line x1="735.1" y1="559.2" x2="739.1" y2="559.2" stroke="#d42020" stroke-width="0.8" />
<line x1="735.1" y1="566.2" x2="739.1" y2="566.2" stroke="#d42020" stroke-width="0.8" />
<rect x="734.8" y="560.4" width="4.6" height="4.6" fill="#d42020"/>
<line x1="752.8" y1="576.7" x2="752.8" y2="573.9" stroke="#d42020" stroke-width="0.8" />
<line x1="750.8" y1="573.9" x2="754.8" y2="573.9" stroke="#d42020" stroke-width="0.8" />
<line x1="750.8" y1="576.7" x2="754.8" y2="576.7" stroke="#d42020" stroke-width="0.8" />
<rect x="750.5" y="573.0" width="4.6" height="4.6" fill="#d42020"/>
<rect x="766.2" y="578.6" width="4.6" height="4.6" fill="#d42020"/>
<rect x="781.9" y="578.6" width="4.6" height="4.6" fill="#d42020"/>
<rect x="797.6" y="578.6" width="4.6" height="4.6" fill="#d42020"/>
<rect x="813.3" y="578.6" width="4.6" height="4.6" fill="#d42020"/>
<rect x="829.0" y="578.6" width="4.6" height="4.6" fill="#d42020"/>
<polyline points="674.3,514.3 675.6,514.4 676.9,514.6 678.3,514.8 679.6,515.1 680.9,515.3 682.2,515.6 683.5,515.9 684.9,516.3 686.2,516.7 687.5,517.2 688.8,517.7 690.1,518.3 691.5,519.0 692.8,519.7 694.1,520.5 695.4,521.4 696.7,522.4 698.0,523.5 699.4,524.7 700.7,526.0 702.0,527.4 703.3,528.9 704.6,530.6 706.0,532.3 707.3,534.2 708.6,536.1 709.9,538.1 711.2,540.2 712.6,542.4 713.9,544.6 715.2,546.8 716.5,549.0 717.8,551.2 719.2,553.4 720.5,555.5 721.8,557.6 723.1,559.6 724.4,561.5 725.8,563.3 727.1,565.0 728.4,566.6 729.7,568.1 731.0,569.4 732.4,570.7 733.7,571.9 735.0,572.9 736.3,573.9 737.6,574.7 738.9,575.5 740.3,576.2 741.6,576.8 742.9,577.4 744.2,577.9 745.5,578.4 746.9,578.8 748.2,579.1 749.5,579.4 750.8,579.7 752.1,580.0 753.5,580.2 754.8,580.4 756.1,580.5 757.4,580.7 758.7,580.8 760.1,580.9 761.4,581.1 762.7,581.1 764.0,581.2 765.3,581.3 766.7,581.4 768.0,581.4 769.3,581.5 770.6,581.5 771.9,581.5 773.2,581.6 774.6,581.6 775.9,581.6 777.2,581.6 778.5,581.7 779.8,581.7 781.2,581.7 782.5,581.7 783.8,581.7 785.1,581.7 786.4,581.7 787.8,581.8 789.1,581.8 790.4,581.8 791.7,581.8 793.0,581.8 794.4,581.8 795.7,581.8 797.0,581.8 798.3,581.8 799.6,581.8 801.0,581.8 802.3,581.8 803.6,581.8 804.9,581.8 806.2,581.8 807.6,581.8 808.9,581.8 810.2,581.8 811.5,581.8 812.8,581.8 814.1,581.8 815.5,581.8 816.8,581.8 818.1,581.8 819.4,581.8 820.7,581.8 822.1,581.8 823.4,581.8 824.7,581.8 826.0,581.8 827.3,581.8 828.7,581.8 830.0,581.8 831.3,581.8" fill="none" stroke="#1010d0" stroke-width="1" stroke-opacity="0.65"/>
<circle cx="674.3" cy="512.4" r="2.3" fill="#1010d0"/>
<line x1="690.0" y1="525.7" x2="690.0" y2="515.9" stroke="#1010d0" stroke-width="0.8" />
<line x1="688.0" y1="515.9" x2="692.0" y2="515.9" stroke="#1010d0" stroke-width="0.8" />
<line x1="688.0" y1="525.7" x2="692.0" y2="525.7" stroke="#1010d0" stroke-width="0.8" />
<circle cx="690.0" cy="520.8" r="2.3" fill="#1010d0"/>
<line x1="705.7" y1="535.5" x2="705.7" y2="527.1" stroke="#1010d0" stroke-width="0.8" />
<line x1="703.7" y1="527.1" x2="707.7" y2="527.1" stroke="#1010d0" stroke-width="0.8" />
<line x1="703.7" y1="535.5" x2="707.7" y2="535.5" stroke="#1010d0" stroke-width="0.8" />
<circle cx="705.7" cy="531.3" r="2.3" fill="#1010d0"/>
<line x1="721.4" y1="558.5" x2="721.4" y2="554.4" stroke="#1010d0" stroke-width="0.8" />
<line x1="719.4" y1="554.4" x2="723.4" y2="554.4" stroke="#1010d0" stroke-width="0.8" />
<line x1="719.4" y1="558.5" x2="723.4" y2="558.5" stroke="#1010d0" stroke-width="0.8" />
<circle cx="721.4" cy="556.4" r="2.3" fill="#1010d0"/>
<line x1="737.1" y1="577.4" x2="737.1" y2="573.2" stroke="#1010d0" stroke-width="0.8" />
<line x1="735.1" y1="573.2" x2="739.1" y2="573.2" stroke="#1010d0" stroke-width="0.8" />
<line x1="735.1" y1="577.4" x2="739.1" y2="577.4" stroke="#1010d0" stroke-width="0.8" />
<circle cx="737.1" cy="575.3" r="2.3" fill="#1010d0"/>
<circle cx="752.8" cy="580.9" r="2.3" fill="#1010d0"/>
<circle cx="768.5" cy="581.6" r="2.3" fill="#1010d0"/>
<circle cx="784.2" cy="581.6" r="2.3" fill="#1010d0"/>
<circle cx="799.9" cy="581.6" r="2.3" fill="#1010d0"/>
<circle cx="815.6" cy="581.6" r="2.3" fill="#1010d0"/>
<circle cx="831.3" cy="580.9" r="2.3" fill="#1010d0"/>
<line x1="854.4" y1="485.6" x2="865.4" y2="485.6" stroke="#1010d0" stroke-width="0.8" />
<circle cx="859.9" cy="485.6" r="2.4" fill="#1010d0"/>
<text x="871.9" y="488.7" font-size="8.7" font-weight="normal" fill="#333" text-anchor="start" >DMSO</text>
<line x1="854.4" y1="500.0" x2="865.4" y2="500.0" stroke="#d42020" stroke-width="0.8" />
<rect x="857.5" y="497.6" width="4.8" height="4.8" fill="#d42020"/>
<text x="871.9" y="503.1" font-size="8.7" font-weight="normal" fill="#333" text-anchor="start" >Celastrol</text>
<text x="1050.6" y="465.3" font-size="10" font-weight="bold" fill="#111" text-anchor="middle" >OGA</text>
<line x1="972.0" y1="477.9" x2="972.0" y2="582.8" stroke="#222" stroke-width="1.3" />
<line x1="971.4" y1="582.3" x2="1129.2" y2="582.3" stroke="#222" stroke-width="1.3" />
<line x1="969.0" y1="582.3" x2="972.0" y2="582.3" stroke="#222" stroke-width="1.2" />
<text x="967.5" y="585.2" font-size="8" font-weight="bold" fill="#333" text-anchor="end" >0.0</text>
<line x1="969.0" y1="547.5" x2="972.0" y2="547.5" stroke="#222" stroke-width="1.2" />
<text x="967.5" y="550.4" font-size="8" font-weight="bold" fill="#333" text-anchor="end" >0.5</text>
<line x1="969.0" y1="512.7" x2="972.0" y2="512.7" stroke="#222" stroke-width="1.2" />
<text x="967.5" y="515.6" font-size="8" font-weight="bold" fill="#333" text-anchor="end" >1.0</text>
<line x1="969.0" y1="477.9" x2="972.0" y2="477.9" stroke="#222" stroke-width="1.2" />
<text x="967.5" y="480.8" font-size="8" font-weight="bold" fill="#333" text-anchor="end" >1.5</text>
<line x1="972.0" y1="582.3" x2="972.0" y2="585.3" stroke="#222" stroke-width="1.2" />
<text x="972.0" y="595.8" font-size="8" font-weight="bold" fill="#333" text-anchor="middle" >40</text>
<line x1="998.2" y1="582.3" x2="998.2" y2="585.3" stroke="#222" stroke-width="1.2" />
<text x="998.2" y="595.8" font-size="8" font-weight="bold" fill="#333" text-anchor="middle" >45</text>
<line x1="1024.4" y1="582.3" x2="1024.4" y2="585.3" stroke="#222" stroke-width="1.2" />
<text x="1024.4" y="595.8" font-size="8" font-weight="bold" fill="#333" text-anchor="middle" >50</text>
<line x1="1050.6" y1="582.3" x2="1050.6" y2="585.3" stroke="#222" stroke-width="1.2" />
<text x="1050.6" y="595.8" font-size="8" font-weight="bold" fill="#333" text-anchor="middle" >55</text>
<line x1="1076.8" y1="582.3" x2="1076.8" y2="585.3" stroke="#222" stroke-width="1.2" />
<text x="1076.8" y="595.8" font-size="8" font-weight="bold" fill="#333" text-anchor="middle" >60</text>
<line x1="1103.0" y1="582.3" x2="1103.0" y2="585.3" stroke="#222" stroke-width="1.2" />
<text x="1103.0" y="595.8" font-size="8" font-weight="bold" fill="#333" text-anchor="middle" >65</text>
<line x1="1129.2" y1="582.3" x2="1129.2" y2="585.3" stroke="#222" stroke-width="1.2" />
<text x="1129.2" y="595.8" font-size="8" font-weight="bold" fill="#333" text-anchor="middle" >70</text>
<text x="1050.6" y="609.1" font-size="8.7" font-weight="bold" fill="#333" text-anchor="middle" >Temperature(℃)</text>
<text transform="translate(951.3,530.1) rotate(-90)" font-size="8.5" font-weight="bold" fill="#333" text-anchor="middle">Relative band intensity(%)</text>
<polyline points="972.0,513.3 973.3,513.5 974.6,513.7 976.0,514.0 977.3,514.4 978.6,514.7 979.9,515.1 981.2,515.6 982.6,516.1 983.9,516.6 985.2,517.2 986.5,517.9 987.9,518.6 989.2,519.5 990.5,520.4 991.8,521.3 993.1,522.4 994.5,523.5 995.8,524.8 997.1,526.1 998.4,527.6 999.7,529.1 1001.1,530.7 1002.4,532.4 1003.7,534.2 1005.0,536.0 1006.3,537.9 1007.7,539.8 1009.0,541.8 1010.3,543.8 1011.6,545.8 1013.0,547.8 1014.3,549.8 1015.6,551.7 1016.9,553.6 1018.2,555.4 1019.6,557.2 1020.9,558.8 1022.2,560.4 1023.5,561.9 1024.8,563.3 1026.2,564.6 1027.5,565.8 1028.8,567.0 1030.1,568.0 1031.4,569.0 1032.8,569.8 1034.1,570.6 1035.4,571.3 1036.7,572.0 1038.1,572.6 1039.4,573.1 1040.7,573.6 1042.0,574.0 1043.3,574.4 1044.7,574.8 1046.0,575.1 1047.3,575.4 1048.6,575.6 1049.9,575.8 1051.3,576.0 1052.6,576.2 1053.9,576.4 1055.2,576.5 1056.5,576.6 1057.9,576.7 1059.2,576.8 1060.5,576.9 1061.8,577.0 1063.1,577.1 1064.5,577.1 1065.8,577.2 1067.1,577.2 1068.4,577.3 1069.8,577.3 1071.1,577.4 1072.4,577.4 1073.7,577.4 1075.0,577.4 1076.4,577.5 1077.7,577.5 1079.0,577.5 1080.3,577.5 1081.6,577.5 1083.0,577.5 1084.3,577.5 1085.6,577.5 1086.9,577.6 1088.2,577.6 1089.6,577.6 1090.9,577.6 1092.2,577.6 1093.5,577.6 1094.9,577.6 1096.2,577.6 1097.5,577.6 1098.8,577.6 1100.1,577.6 1101.5,577.6 1102.8,577.6 1104.1,577.6 1105.4,577.6 1106.7,577.6 1108.1,577.6 1109.4,577.6 1110.7,577.6 1112.0,577.6 1113.3,577.6 1114.7,577.6 1116.0,577.6 1117.3,577.6 1118.6,577.6 1120.0,577.6 1121.3,577.6 1122.6,577.6 1123.9,577.6 1125.2,577.6 1126.6,577.6 1127.9,577.6 1129.2,577.6" fill="none" stroke="#d42020" stroke-width="1" stroke-opacity="0.65"/>
<rect x="969.7" y="510.4" width="4.6" height="4.6" fill="#d42020"/>
<rect x="985.4" y="517.4" width="4.6" height="4.6" fill="#d42020"/>
<rect x="1001.1" y="530.6" width="4.6" height="4.6" fill="#d42020"/>
<line x1="1019.2" y1="559.3" x2="1019.2" y2="555.2" stroke="#d42020" stroke-width="0.8" />
<line x1="1017.2" y1="555.2" x2="1021.2" y2="555.2" stroke="#d42020" stroke-width="0.8" />
<line x1="1017.2" y1="559.3" x2="1021.2" y2="559.3" stroke="#d42020" stroke-width="0.8" />
<rect x="1016.9" y="554.9" width="4.6" height="4.6" fill="#d42020"/>
<line x1="1034.9" y1="573.3" x2="1034.9" y2="569.1" stroke="#d42020" stroke-width="0.8" />
<line x1="1032.9" y1="569.1" x2="1036.9" y2="569.1" stroke="#d42020" stroke-width="0.8" />
<line x1="1032.9" y1="573.3" x2="1036.9" y2="573.3" stroke="#d42020" stroke-width="0.8" />
<rect x="1032.6" y="568.9" width="4.6" height="4.6" fill="#d42020"/>
<line x1="1050.6" y1="578.8" x2="1050.6" y2="571.9" stroke="#d42020" stroke-width="0.8" />
<line x1="1048.6" y1="571.9" x2="1052.6" y2="571.9" stroke="#d42020" stroke-width="0.8" />
<line x1="1048.6" y1="578.8" x2="1052.6" y2="578.8" stroke="#d42020" stroke-width="0.8" />
<rect x="1048.3" y="573.0" width="4.6" height="4.6" fill="#d42020"/>
<line x1="1066.3" y1="578.8" x2="1066.3" y2="573.3" stroke="#d42020" stroke-width="0.8" />
<line x1="1064.3" y1="573.3" x2="1068.3" y2="573.3" stroke="#d42020" stroke-width="0.8" />
<line x1="1064.3" y1="578.8" x2="1068.3" y2="578.8" stroke="#d42020" stroke-width="0.8" />
<rect x="1064.0" y="573.7" width="4.6" height="4.6" fill="#d42020"/>
<line x1="1082.0" y1="578.8" x2="1082.0" y2="576.0" stroke="#d42020" stroke-width="0.8" />
<line x1="1080.0" y1="576.0" x2="1084.0" y2="576.0" stroke="#d42020" stroke-width="0.8" />
<line x1="1080.0" y1="578.8" x2="1084.0" y2="578.8" stroke="#d42020" stroke-width="0.8" />
<rect x="1079.7" y="575.1" width="4.6" height="4.6" fill="#d42020"/>
<rect x="1095.5" y="576.5" width="4.6" height="4.6" fill="#d42020"/>
<line x1="1113.5" y1="579.5" x2="1113.5" y2="576.7" stroke="#d42020" stroke-width="0.8" />
<line x1="1111.5" y1="576.7" x2="1115.5" y2="576.7" stroke="#d42020" stroke-width="0.8" />
<line x1="1111.5" y1="579.5" x2="1115.5" y2="579.5" stroke="#d42020" stroke-width="0.8" />
<rect x="1111.2" y="575.8" width="4.6" height="4.6" fill="#d42020"/>
<line x1="1129.2" y1="578.8" x2="1129.2" y2="576.0" stroke="#d42020" stroke-width="0.8" />
<line x1="1127.2" y1="576.0" x2="1131.2" y2="576.0" stroke="#d42020" stroke-width="0.8" />
<line x1="1127.2" y1="578.8" x2="1131.2" y2="578.8" stroke="#d42020" stroke-width="0.8" />
<rect x="1126.9" y="575.1" width="4.6" height="4.6" fill="#d42020"/>
<polyline points="972.0,517.2 973.3,517.2 974.6,517.2 976.0,517.2 977.3,517.2 978.6,517.2 979.9,517.2 981.2,517.2 982.6,517.2 983.9,517.2 985.2,517.2 986.5,517.2 987.9,517.2 989.2,517.2 990.5,517.2 991.8,517.2 993.1,517.2 994.5,517.2 995.8,517.2 997.1,517.2 998.4,517.2 999.7,517.2 1001.1,517.2 1002.4,517.2 1003.7,517.2 1005.0,517.2 1006.3,517.2 1007.7,517.3 1009.0,517.3 1010.3,517.3 1011.6,517.3 1013.0,517.4 1014.3,517.4 1015.6,517.5 1016.9,517.6 1018.2,517.7 1019.6,517.8 1020.9,518.0 1022.2,518.2 1023.5,518.5 1024.8,518.8 1026.2,519.3 1027.5,519.8 1028.8,520.6 1030.1,521.5 1031.4,522.6 1032.8,524.0 1034.1,525.7 1035.4,527.7 1036.7,530.2 1038.1,533.0 1039.4,536.2 1040.7,539.7 1042.0,543.5 1043.3,547.5 1044.7,551.5 1046.0,555.4 1047.3,559.1 1048.6,562.5 1049.9,565.5 1051.3,568.2 1052.6,570.5 1053.9,572.4 1055.2,573.9 1056.5,575.2 1057.9,576.2 1059.2,577.1 1060.5,577.7 1061.8,578.2 1063.1,578.7 1064.5,579.0 1065.8,579.2 1067.1,579.4 1068.4,579.6 1069.8,579.7 1071.1,579.8 1072.4,579.9 1073.7,579.9 1075.0,580.0 1076.4,580.0 1077.7,580.0 1079.0,580.0 1080.3,580.1 1081.6,580.1 1083.0,580.1 1084.3,580.1 1085.6,580.1 1086.9,580.1 1088.2,580.1 1089.6,580.1 1090.9,580.1 1092.2,580.1 1093.5,580.1 1094.9,580.1 1096.2,580.1 1097.5,580.1 1098.8,580.1 1100.1,580.1 1101.5,580.1 1102.8,580.1 1104.1,580.1 1105.4,580.1 1106.7,580.1 1108.1,580.1 1109.4,580.1 1110.7,580.1 1112.0,580.1 1113.3,580.1 1114.7,580.1 1116.0,580.1 1117.3,580.1 1118.6,580.1 1120.0,580.1 1121.3,580.1 1122.6,580.1 1123.9,580.1 1125.2,580.1 1126.6,580.1 1127.9,580.1 1129.2,580.1" fill="none" stroke="#1010d0" stroke-width="1" stroke-opacity="0.65"/>
<circle cx="972.0" cy="512.7" r="2.3" fill="#1010d0"/>
<circle cx="987.7" cy="518.3" r="2.3" fill="#1010d0"/>
<circle cx="1003.4" cy="519.0" r="2.3" fill="#1010d0"/>
<circle cx="1019.2" cy="519.7" r="2.3" fill="#1010d0"/>
<line x1="1034.9" y1="532.9" x2="1034.9" y2="520.4" stroke="#1010d0" stroke-width="0.8" />
<line x1="1032.9" y1="520.4" x2="1036.9" y2="520.4" stroke="#1010d0" stroke-width="0.8" />
<line x1="1032.9" y1="532.9" x2="1036.9" y2="532.9" stroke="#1010d0" stroke-width="0.8" />
<circle cx="1034.9" cy="526.6" r="2.3" fill="#1010d0"/>
<line x1="1050.6" y1="573.9" x2="1050.6" y2="560.0" stroke="#1010d0" stroke-width="0.8" />
<line x1="1048.6" y1="560.0" x2="1052.6" y2="560.0" stroke="#1010d0" stroke-width="0.8" />
<line x1="1048.6" y1="573.9" x2="1052.6" y2="573.9" stroke="#1010d0" stroke-width="0.8" />
<circle cx="1050.6" cy="567.0" r="2.3" fill="#1010d0"/>
<line x1="1066.3" y1="580.9" x2="1066.3" y2="578.1" stroke="#1010d0" stroke-width="0.8" />
<line x1="1064.3" y1="578.1" x2="1068.3" y2="578.1" stroke="#1010d0" stroke-width="0.8" />
<line x1="1064.3" y1="580.9" x2="1068.3" y2="580.9" stroke="#1010d0" stroke-width="0.8" />
<circle cx="1066.3" cy="579.5" r="2.3" fill="#1010d0"/>
<circle cx="1082.0" cy="580.2" r="2.3" fill="#1010d0"/>
<circle cx="1097.8" cy="579.5" r="2.3" fill="#1010d0"/>
<circle cx="1113.5" cy="580.2" r="2.3" fill="#1010d0"/>
<circle cx="1129.2" cy="580.2" r="2.3" fill="#1010d0"/>
<line x1="1152.4" y1="485.6" x2="1163.4" y2="485.6" stroke="#1010d0" stroke-width="0.8" />
<circle cx="1157.9" cy="485.6" r="2.4" fill="#1010d0"/>
<text x="1169.9" y="488.7" font-size="8.7" font-weight="normal" fill="#333" text-anchor="start" >DMSO</text>
<line x1="1152.4" y1="500.0" x2="1163.4" y2="500.0" stroke="#d42020" stroke-width="0.8" />
<rect x="1155.5" y="497.6" width="4.8" height="4.8" fill="#d42020"/>
<text x="1169.9" y="503.1" font-size="8.7" font-weight="normal" fill="#333" text-anchor="start" >Celastrol</text>
<text x="168.4" y="679.2" font-size="12.5" font-weight="bold" fill="#111" text-anchor="middle" >ZH-011 IP-MS</text>
<path d="M183.4 850.6h0M166.5 854.1h0M171.5 853.6h0M167.6 836.4h0M166.2 839.3h0M182.4 826.6h0M181.4 798.0h0M176.4 844.8h0M178.7 837.4h0M183.2 829.5h0M164.9 845.5h0M186.6 795.8h0M166.8 831.1h0M169.5 852.1h0M176.0 847.7h0M169.5 796.6h0M184.7 848.9h0M170.2 849.8h0M180.9 850.3h0M170.0 837.4h0M175.8 853.9h0M184.3 845.4h0M178.1 849.2h0M182.0 853.2h0M171.0 854.8h0M164.1 849.0h0M171.3 832.4h0M176.8 851.6h0M184.3 851.6h0M181.0 821.3h0M185.7 828.8h0M167.4 811.1h0M180.4 848.6h0M183.4 820.8h0M175.6 824.9h0M174.7 843.6h0M178.0 852.9h0M184.9 847.6h0M162.8 813.3h0M176.7 852.8h0M182.7 851.2h0M166.7 850.8h0M160.3 836.9h0M180.7 850.6h0M172.8 831.5h0M175.4 849.0h0M184.7 792.6h0M166.8 844.9h0M169.4 843.0h0M165.9 852.6h0M170.3 825.9h0M185.9 830.7h0M162.3 851.6h0M165.5 852.6h0M171.0 853.5h0M180.7 846.2h0M166.1 806.1h0M177.7 850.9h0M179.8 853.7h0M179.7 821.6h0M178.6 835.3h0M174.5 844.6h0M186.3 816.1h0M181.9 845.6h0M179.2 775.4h0M185.5 840.1h0M179.3 836.1h0M164.9 854.1h0M160.5 822.1h0M181.9 830.9h0M178.6 852.5h0M172.9 841.6h0M175.2 853.8h0M166.6 834.3h0M170.4 848.1h0M171.0 847.8h0M181.8 848.5h0M183.1 822.8h0M186.1 849.2h0M183.1 847.7h0M178.8 839.1h0M172.1 845.8h0M193.1 805.5h0M166.3 852.8h0M170.7 848.3h0M186.3 841.9h0M180.5 851.7h0M184.1 786.5h0M179.2 849.4h0M167.7 853.6h0M187.4 819.0h0M177.9 834.3h0M179.8 837.0h0M169.7 851.7h0M160.9 844.8h0M173.6 828.2h0M163.9 852.8h0M172.8 850.9h0M161.5 854.1h0M168.2 844.8h0M164.0 832.5h0M161.5 800.7h0M168.2 846.6h0M164.0 836.1h0M166.2 826.0h0M192.5 808.7h0M199.0 779.3h0M181.0 837.2h0M170.7 854.6h0M189.7 805.9h0M165.0 835.3h0M176.8 852.7h0M177.9 848.1h0M170.2 824.5h0M170.8 847.2h0M183.1 854.0h0M180.9 849.6h0M167.4 834.8h0M170.3 854.9h0M170.7 828.8h0M167.9 828.8h0M179.5 830.7h0M167.7 840.5h0M176.0 849.9h0M169.5 811.7h0M177.4 841.2h0M158.3 849.8h0M183.2 837.0h0M184.8 832.6h0M171.0 839.5h0M182.4 831.1h0M178.5 848.5h0M181.9 852.3h0M167.4 833.2h0M187.9 831.9h0M167.6 826.6h0M161.2 849.2h0M172.7 843.8h0M177.6 849.9h0M183.9 837.1h0M174.9 819.1h0M170.7 854.4h0M180.2 770.4h0M166.7 781.9h0M175.8 849.3h0M170.9 849.7h0M174.7 843.9h0M189.4 804.8h0M181.0 843.2h0M162.6 854.8h0M168.8 783.4h0M176.9 821.5h0M170.0 852.2h0M190.0 830.0h0M174.2 840.1h0M182.9 820.2h0M175.8 837.1h0M169.7 834.3h0M199.3 762.7h0M178.5 843.4h0M179.5 844.3h0M171.6 848.2h0M180.1 838.4h0M183.1 852.0h0M160.1 838.8h0M175.5 842.6h0M167.9 833.6h0M164.0 844.4h0M170.0 840.2h0M158.8 822.1h0M186.0 840.3h0M196.9 805.3h0M174.3 848.1h0M168.1 835.4h0M169.2 852.7h0M182.1 843.8h0M187.8 813.2h0M178.5 799.4h0M174.1 849.1h0M185.6 813.0h0M177.9 817.1h0M171.7 850.3h0M171.6 821.5h0M187.0 844.5h0M161.1 851.5h0M170.5 851.9h0M181.6 843.9h0M188.1 842.5h0M170.1 821.6h0M185.6 852.9h0M170.1 784.8h0M182.3 837.8h0M174.1 848.5h0M171.6 850.3h0M186.1 820.3h0M162.2 843.8h0M168.0 851.6h0M171.8 854.7h0M184.5 834.5h0M184.0 812.5h0M163.5 823.5h0M186.9 852.9h0M191.5 830.4h0M173.8 847.3h0M169.0 832.4h0M161.9 842.5h0M188.2 834.6h0M175.1 838.7h0M180.4 829.3h0M157.1 832.1h0M171.3 852.5h0M166.7 841.3h0M192.3 831.3h0M178.6 849.1h0M186.4 846.1h0M169.9 853.8h0M186.4 835.7h0M191.4 843.8h0M186.2 852.4h0M171.3 850.9h0M170.9 799.2h0M165.8 845.5h0M176.3 843.6h0M180.0 827.4h0M177.4 851.6h0M170.5 853.2h0M168.8 851.1h0M176.2 833.1h0M166.3 852.8h0M174.2 824.0h0M167.7 844.0h0M165.8 848.5h0M180.7 847.4h0M186.3 783.2h0M178.5 853.8h0M181.5 840.8h0M175.9 844.7h0M180.7 844.2h0M173.5 831.0h0M182.8 854.3h0M181.8 845.1h0M165.4 850.9h0M162.9 846.5h0M189.1 812.3h0M191.6 782.2h0M187.6 838.2h0M164.0 838.6h0M162.8 851.7h0M179.9 836.8h0M167.9 848.8h0M188.0 815.8h0M175.4 849.7h0M188.0 826.7h0M166.3 824.7h0M192.9 799.1h0M180.1 851.5h0M186.4 816.8h0M177.6 819.0h0M186.8 829.6h0M190.2 848.3h0M194.3 830.7h0M184.3 845.4h0M180.6 847.6h0M196.3 808.7h0M178.1 848.4h0M168.0 824.9h0M182.7 848.7h0M173.1 853.6h0M178.8 852.6h0M182.6 833.6h0M169.7 841.0h0M170.7 822.5h0M180.0 843.4h0M163.3 848.9h0M203.9 771.8h0M184.1 850.9h0M179.3 835.9h0M179.7 837.2h0M174.8 853.5h0M194.9 835.9h0M183.0 833.5h0M177.6 851.5h0M162.8 839.7h0M181.6 852.1h0M176.0 843.1h0M168.9 854.4h0M186.4 830.9h0M176.4 839.1h0M175.4 847.2h0M185.8 835.6h0M180.1 837.9h0M185.6 820.9h0M172.6 830.9h0M175.8 826.9h0M182.5 796.3h0M188.2 725.7h0M167.7 848.0h0M167.3 835.7h0M189.3 835.1h0M173.8 852.2h0M167.6 815.7h0M170.6 845.5h0M169.5 852.1h0M184.9 834.2h0M167.4 771.5h0M182.3 842.0h0M166.9 846.0h0M177.5 840.2h0M162.9 846.1h0M168.0 806.9h0M181.6 828.5h0M180.7 830.5h0M177.2 852.3h0M160.3 849.3h0M181.7 850.9h0M163.2 851.5h0M167.1 850.2h0M190.2 820.0h0M163.4 843.6h0M175.1 844.2h0M175.8 851.9h0M175.6 845.9h0M175.2 835.8h0M182.4 844.5h0M169.3 851.2h0M181.7 834.5h0M183.1 832.2h0M170.2 849.6h0M182.0 844.0h0M177.1 852.7h0M168.5 851.4h0M189.3 841.9h0M194.6 798.1h0M180.3 854.8h0M194.7 841.7h0M166.6 843.6h0M190.7 832.6h0M185.7 835.4h0M182.2 851.9h0M180.5 845.0h0M179.0 847.2h0M184.9 803.8h0M184.2 843.9h0M166.9 842.5h0M167.2 839.7h0M161.6 825.2h0M179.9 846.8h0M183.7 841.5h0M164.0 826.2h0M184.7 840.6h0M183.4 853.2h0M184.7 830.0h0M186.6 821.0h0M156.4 854.4h0M199.1 803.1h0M185.7 846.5h0M177.1 804.2h0M164.5 825.0h0M164.7 821.7h0M181.0 843.5h0M151.8 794.4h0M185.8 786.8h0M180.2 851.5h0M168.8 853.7h0M177.6 831.2h0M163.0 846.7h0M174.1 853.7h0M175.0 854.1h0M181.6 846.5h0M182.7 848.5h0M176.2 853.5h0M179.9 833.5h0M168.6 822.5h0M180.7 832.4h0M179.7 834.9h0M166.3 822.5h0M177.0 847.8h0M178.6 813.8h0M176.0 804.5h0M177.9 851.3h0M170.5 830.5h0M180.6 827.3h0M176.6 852.0h0M182.7 825.9h0M190.4 842.0h0M168.8 850.4h0M168.4 844.0h0M171.3 839.4h0M169.6 844.6h0M176.7 836.8h0M179.6 854.0h0M180.1 853.2h0M180.6 838.9h0M193.2 824.6h0M179.7 850.5h0M171.7 815.2h0M167.7 843.6h0M177.7 830.9h0M165.1 793.8h0M172.5 840.3h0M174.0 853.9h0M176.9 854.5h0M178.0 842.5h0M167.8 851.4h0M188.0 803.1h0M168.4 851.9h0M167.5 846.4h0M167.9 847.6h0M160.7 851.1h0M175.4 805.8h0M182.9 838.8h0M186.5 819.0h0M179.9 835.5h0M171.0 817.4h0M177.3 822.5h0M170.3 851.3h0M179.9 836.2h0M170.0 845.3h0M179.6 836.3h0M183.6 850.5h0M169.9 835.7h0M175.5 853.2h0M158.7 838.7h0M179.5 810.9h0M178.4 849.9h0M175.5 840.7h0M177.1 844.1h0M160.4 827.7h0M173.4 836.6h0M174.4 843.9h0M162.2 835.6h0M169.0 788.4h0M162.9 811.3h0M167.3 834.8h0M180.1 853.2h0M169.0 848.8h0M164.5 854.0h0M184.8 843.5h0M181.4 848.6h0M166.0 844.0h0M170.9 813.3h0M182.1 816.2h0M171.4 839.4h0M192.6 825.5h0M171.6 845.5h0M179.2 846.3h0M176.7 841.5h0M179.5 838.5h0M165.4 852.7h0M190.8 818.9h0M171.3 846.9h0M190.1 833.3h0M182.0 848.2h0M185.8 823.7h0M174.7 849.3h0M181.3 844.7h0M176.8 827.5h0M181.8 853.2h0M183.5 849.8h0M156.6 816.7h0M194.3 814.7h0M173.1 852.9h0M179.4 852.1h0M171.3 839.5h0M183.6 825.4h0M176.0 805.6h0M177.3 844.1h0M181.9 843.5h0M180.0 841.8h0M164.7 821.5h0M181.6 836.1h0M184.5 847.2h0M171.3 791.1h0M168.8 828.9h0M188.6 830.7h0M158.1 806.1h0M181.3 852.0h0M181.5 825.4h0M176.5 844.3h0M166.6 851.8h0M165.1 849.1h0M169.9 851.1h0M186.6 818.6h0M166.9 854.6h0M178.4 844.5h0M179.3 850.1h0M167.7 822.1h0M154.6 817.0h0M167.0 853.2h0M166.3 850.4h0M165.8 839.3h0M171.4 839.7h0M171.1 842.2h0M162.6 843.2h0M174.8 831.6h0M167.4 853.6h0M176.2 844.8h0M177.1 850.2h0M181.2 849.6h0M175.8 854.4h0M171.2 833.7h0M186.4 820.2h0M170.8 826.0h0M184.1 833.4h0M190.8 824.1h0M184.3 817.9h0M198.7 792.7h0M170.9 853.9h0M170.7 844.7h0M168.9 852.9h0M174.8 849.3h0M166.4 853.4h0M182.8 832.1h0M173.5 854.9h0M180.0 847.1h0M166.4 810.1h0M167.4 826.8h0M175.7 849.5h0M179.6 823.2h0M187.4 825.5h0M182.4 829.4h0M177.3 837.1h0M171.1 804.9h0M176.1 853.1h0M176.1 807.3h0M182.8 852.6h0M163.3 759.7h0M175.8 839.1h0M178.9 847.9h0M177.6 854.5h0M175.5 828.6h0M164.0 847.2h0M178.9 844.7h0M178.1 854.3h0M185.2 831.4h0M178.0 798.6h0M186.2 799.2h0M178.2 841.6h0M176.9 851.5h0M175.0 836.0h0M169.6 842.1h0M164.9 847.2h0M176.7 812.8h0M195.3 811.3h0M182.9 834.8h0M158.0 850.6h0M171.5 852.4h0M196.8 774.2h0M165.7 852.3h0M165.8 835.8h0M174.7 854.2h0M174.9 851.6h0M182.4 823.5h0M179.9 852.3h0M175.6 849.7h0M178.0 841.8h0M162.7 826.6h0M161.6 849.1h0M193.3 822.1h0M174.5 838.0h0M177.0 849.8h0M171.1 841.3h0M174.6 822.0h0M166.3 838.0h0M163.3 852.9h0M181.0 849.8h0M168.2 844.3h0M181.7 803.8h0M165.7 847.3h0M169.5 847.9h0M168.2 842.1h0M170.3 827.7h0M184.5 841.1h0M170.2 854.6h0M186.1 841.4h0M181.0 850.3h0M167.4 833.3h0M167.2 825.2h0M164.0 854.8h0M185.0 832.3h0M186.6 839.0h0M185.9 844.5h0M168.3 804.6h0M160.6 850.1h0M182.4 849.9h0M173.9 842.1h0M165.2 823.1h0M177.0 854.0h0M171.4 848.8h0M173.3 845.7h0M169.1 854.3h0M171.4 839.7h0M162.3 844.4h0M206.5 811.9h0M169.1 833.2h0M176.8 854.5h0M180.8 853.5h0M177.5 826.1h0M178.2 854.7h0M182.4 850.6h0M170.6 840.8h0M187.2 837.8h0M183.7 840.0h0M165.0 813.0h0M177.4 848.3h0M177.4 852.9h0M177.8 802.6h0M183.7 835.4h0M168.0 853.9h0M167.2 829.3h0M178.7 825.2h0M167.6 849.5h0M182.4 852.5h0M164.9 808.4h0M180.9 842.3h0M163.4 844.4h0M179.7 834.1h0M168.6 825.8h0M176.1 819.2h0M182.3 844.5h0M170.1 849.8h0M184.1 841.1h0M179.2 826.5h0M185.2 844.3h0M176.5 844.3h0M166.9 841.6h0M180.0 855.0h0M189.6 840.8h0M161.6 830.3h0M166.9 853.4h0M175.6 846.5h0M176.0 833.2h0M169.0 854.9h0M164.8 830.7h0M184.5 756.1h0M178.4 850.9h0M163.7 830.6h0M181.3 830.7h0M182.3 785.0h0M175.8 848.6h0M189.7 773.5h0M168.2 854.3h0M184.6 789.5h0M164.2 848.6h0M174.2 832.3h0M177.8 848.8h0M188.5 826.3h0M175.7 852.2h0M169.6 850.3h0M186.2 846.3h0M179.6 842.6h0M191.9 808.0h0M170.6 839.9h0M183.8 793.7h0M175.1 843.1h0M170.9 841.0h0M182.7 851.9h0M176.3 854.9h0M187.9 831.5h0M187.5 815.0h0M169.7 836.0h0M179.6 848.8h0M198.4 827.7h0M171.2 847.9h0M167.0 843.7h0M180.3 836.2h0M182.9 839.2h0M182.4 839.1h0M166.0 798.7h0M164.6 825.4h0M186.8 826.9h0M170.2 834.3h0M167.5 837.0h0M170.6 850.9h0M187.8 843.1h0M190.6 836.9h0M178.4 802.5h0M189.8 760.7h0M180.3 850.5h0M158.9 831.5h0M183.4 833.0h0M182.7 826.6h0M180.1 842.8h0M192.1 817.0h0M178.7 846.4h0M181.9 851.5h0M192.2 828.4h0M184.7 827.5h0M174.0 820.3h0M170.6 826.4h0M182.2 853.7h0M178.4 843.0h0M172.6 846.4h0M165.8 838.0h0M168.5 840.2h0M176.3 853.0h0M177.4 849.7h0M164.9 849.8h0M183.4 848.7h0M163.2 790.4h0M183.2 844.6h0M182.0 832.2h0M183.0 834.6h0M167.0 847.9h0M185.4 816.4h0M182.2 846.1h0M176.1 833.4h0M174.3 852.6h0M153.7 824.5h0M160.3 832.9h0M157.2 815.7h0M181.6 833.6h0M171.5 839.2h0M181.4 834.2h0M183.3 837.1h0M177.0 844.5h0M166.5 846.3h0M199.6 754.2h0M177.1 842.2h0M164.9 831.8h0M178.2 853.4h0M166.4 799.3h0M191.9 821.6h0M175.4 836.4h0M167.7 847.4h0M189.8 806.1h0M181.8 838.7h0M201.7 788.5h0M186.0 847.5h0M158.4 850.3h0M175.1 854.1h0M181.7 841.4h0M181.1 816.5h0M170.1 840.8h0M169.4 854.9h0M176.6 854.1h0M170.5 832.4h0M166.8 853.2h0M159.7 819.0h0M187.4 847.8h0M177.9 837.1h0M184.0 838.4h0M188.1 828.8h0M174.6 841.1h0M188.1 832.6h0M177.5 841.6h0M170.1 853.2h0M167.4 849.4h0M170.5 854.8h0M198.8 811.8h0M165.0 849.2h0M178.5 852.9h0M180.2 835.7h0M178.9 839.7h0M176.4 853.1h0M165.7 842.1h0M171.3 844.6h0M179.8 848.6h0M161.0 813.4h0M168.1 854.8h0M165.4 831.3h0M175.6 851.6h0M166.0 846.8h0M165.2 818.4h0M180.3 851.7h0M174.7 854.2h0M169.8 845.4h0M175.2 854.6h0M164.7 801.6h0M189.3 797.1h0M205.8 814.9h0M184.1 845.3h0M155.5 746.8h0M185.0 823.4h0M173.9 849.6h0M166.9 842.4h0M180.1 847.1h0M171.6 814.7h0M177.5 853.4h0M161.6 844.5h0M165.4 787.0h0M171.0 850.9h0M182.9 841.6h0M173.5 853.9h0M186.4 819.5h0M180.2 844.0h0M180.6 841.0h0M161.7 835.4h0M175.5 843.1h0M168.4 833.3h0M168.2 854.2h0M193.3 838.2h0M176.3 849.2h0M167.5 840.7h0M170.5 848.0h0M180.2 822.1h0M167.0 853.8h0M171.7 812.5h0M191.0 831.8h0M180.1 824.2h0M181.1 844.9h0M160.6 853.7h0M176.7 846.4h0M166.0 853.9h0M164.5 840.1h0M177.3 848.3h0M171.3 850.2h0M167.6 827.9h0M164.0 853.9h0M178.8 851.9h0M153.0 808.9h0M182.1 838.2h0M185.6 840.6h0M178.3 845.6h0M169.1 827.1h0M171.8 853.4h0M189.2 844.3h0M166.4 849.5h0M179.2 843.1h0M188.2 844.4h0M178.0 852.9h0M186.0 816.9h0M182.4 853.9h0M170.3 839.7h0M162.9 849.7h0M160.2 854.5h0M161.6 784.2h0M166.1 851.8h0M175.3 847.9h0M169.5 854.1h0M179.7 847.7h0M179.1 849.9h0M180.9 839.7h0M167.5 825.3h0M189.3 843.1h0M191.7 826.2h0M181.7 835.4h0M184.0 838.6h0M175.8 841.7h0M178.9 830.0h0M190.4 825.4h0M192.4 853.6h0M168.9 850.4h0M167.6 828.5h0M164.6 846.4h0M186.2 807.4h0M183.5 849.1h0M170.0 837.9h0M181.1 840.3h0M190.0 816.8h0M169.9 837.0h0M175.3 852.3h0M168.5 819.4h0M184.5 826.5h0M160.8 825.1h0M190.6 794.4h0M201.7 811.0h0M175.1 834.6h0M186.2 829.4h0M181.2 852.0h0M161.3 845.6h0M185.8 846.0h0M177.7 832.6h0M163.6 830.1h0M194.1 807.1h0M180.7 843.0h0M171.5 848.2h0M161.5 853.1h0M167.8 852.3h0M175.6 835.0h0M168.1 852.2h0M168.4 830.0h0M180.3 837.7h0M161.2 852.8h0M182.8 827.9h0M164.7 820.3h0M194.8 772.3h0M175.9 854.9h0M180.0 821.1h0M174.5 811.7h0M215.4 793.3h0M172.4 852.3h0M187.4 831.8h0M178.6 840.8h0M168.9 850.2h0M155.3 814.8h0M183.4 835.3h0M174.7 830.9h0M187.1 820.8h0M191.1 835.1h0M178.7 848.5h0M178.2 832.1h0M182.3 837.7h0M174.8 802.9h0M175.3 851.9h0M167.2 845.6h0M161.9 826.7h0M191.5 823.9h0M185.2 854.0h0M189.6 838.4h0M188.9 826.5h0M193.6 798.9h0M181.4 828.9h0M175.9 853.4h0M181.0 846.5h0M169.1 854.1h0M185.8 844.3h0M191.8 840.7h0M186.2 816.9h0M171.1 853.7h0M163.4 823.6h0M179.4 837.1h0M168.0 809.0h0M160.5 839.9h0M176.3 851.2h0M190.3 790.4h0M183.1 837.0h0M181.8 763.4h0M160.3 832.7h0M164.9 847.4h0M185.9 824.6h0M167.7 850.7h0M173.4 820.8h0M200.9 806.4h0M159.0 851.4h0M168.1 839.3h0M174.9 854.1h0M172.8 840.2h0M181.0 842.2h0M168.3 796.3h0M177.6 848.0h0M173.5 848.2h0M189.4 814.6h0M172.5 847.5h0M158.9 826.2h0M169.7 848.2h0M182.0 854.7h0M176.5 853.0h0M186.7 807.9h0M190.9 829.8h0M176.3 826.0h0M178.4 850.6h0M182.1 831.7h0M169.2 833.2h0M171.2 844.7h0M182.4 793.9h0M178.6 839.7h0M164.6 830.3h0M175.5 822.0h0M169.1 835.4h0M163.0 830.1h0M179.6 829.3h0M181.3 844.5h0M176.7 850.7h0M181.3 788.3h0M181.0 839.7h0M183.9 796.5h0M177.2 820.6h0M165.7 825.5h0M181.0 842.6h0M180.1 850.7h0M177.2 853.7h0M190.8 837.5h0M176.9 851.2h0M186.6 809.2h0M170.0 838.3h0M176.7 852.6h0M168.6 840.4h0M161.5 829.7h0M175.1 834.6h0M171.2 850.4h0M174.8 844.1h0M164.7 830.9h0M176.4 843.4h0M174.7 846.4h0M169.2 811.0h0M190.0 828.7h0M187.2 832.7h0M182.1 839.1h0M169.1 847.3h0M178.2 852.4h0M181.7 846.1h0M178.9 853.9h0M176.1 840.5h0M160.0 811.7h0M179.1 825.2h0M169.5 816.2h0M165.9 844.6h0M167.6 847.3h0M174.6 854.0h0M167.8 852.5h0M164.9 845.5h0M182.2 838.8h0M170.8 816.6h0M184.9 824.1h0M159.8 853.9h0M165.4 811.4h0M191.4 822.3h0M178.2 795.0h0M168.8 853.2h0M179.4 851.3h0M192.8 832.9h0M162.4 852.1h0M181.0 831.8h0M203.2 815.1h0M178.0 852.2h0M169.3 851.9h0M182.7 838.8h0M168.1 835.4h0M166.1 852.0h0M181.0 849.6h0M184.0 789.0h0M175.6 851.5h0M171.1 846.7h0M184.2 843.4h0M172.6 846.1h0M186.3 844.5h0M194.0 781.8h0M165.2 854.4h0M179.9 845.8h0M160.3 848.2h0M167.3 837.4h0M183.6 838.8h0M186.6 804.3h0M170.5 813.2h0M185.6 798.4h0M170.4 849.6h0M185.6 847.1h0M171.6 824.1h0M182.3 820.2h0M187.7 818.6h0M174.6 739.8h0M177.2 844.4h0M178.2 854.5h0M166.2 842.6h0M164.2 844.5h0M186.5 816.8h0M184.0 825.0h0M163.5 825.0h0M163.7 796.2h0M164.5 842.0h0M162.3 830.8h0M179.0 847.0h0M172.4 822.6h0M166.7 851.1h0M180.9 854.8h0M165.6 846.4h0M178.6 847.8h0M170.2 845.6h0M177.2 853.0h0M186.0 804.4h0M164.0 800.7h0M173.3 845.6h0M170.7 848.7h0M177.2 852.2h0M184.4 842.5h0M181.5 851.5h0M176.8 850.7h0M184.3 828.3h0M179.2 836.5h0M198.7 808.2h0M182.5 838.2h0M169.5 853.6h0M188.9 837.2h0M174.4 820.7h0M181.7 842.7h0M187.3 804.7h0M176.3 840.3h0M175.3 850.0h0M177.2 843.2h0M190.5 824.7h0M164.7 842.7h0M169.4 845.8h0M178.7 853.7h0M175.7 852.6h0M187.9 820.6h0M174.8 832.3h0M165.8 827.5h0M203.7 749.1h0M180.2 845.9h0M186.0 823.1h0M183.5 812.2h0M188.3 836.1h0M178.8 838.0h0M179.8 847.4h0M174.1 845.1h0M181.1 828.6h0M172.4 830.5h0M162.1 842.5h0M197.3 813.9h0M178.0 850.3h0M171.3 850.4h0M188.5 834.3h0M184.5 823.4h0M183.0 851.4h0M160.4 828.6h0M170.4 833.7h0M171.3 829.1h0M177.7 851.6h0M165.5 823.9h0M164.7 849.8h0M171.6 847.9h0M169.8 832.9h0M177.6 853.0h0M191.7 816.9h0M177.0 852.0h0M173.1 845.8h0M200.3 789.5h0M166.0 853.3h0M181.0 830.5h0M176.4 850.2h0M184.7 830.5h0M169.2 854.7h0M175.6 836.0h0M174.6 827.8h0M159.3 851.7h0M175.5 836.4h0M184.0 848.8h0M175.5 849.2h0M181.0 841.8h0M183.0 839.0h0M185.9 845.5h0M178.6 850.5h0M166.7 834.6h0M184.0 800.0h0M166.5 848.1h0M182.0 830.3h0M171.3 851.0h0M198.7 765.3h0M151.0 823.7h0M167.8 848.6h0M177.3 854.7h0M155.2 812.0h0M176.2 854.5h0M180.7 851.2h0M186.4 832.9h0M179.6 835.0h0M169.3 817.5h0M178.4 800.0h0M171.9 850.5h0M174.3 850.3h0M160.1 836.2h0M186.1 847.6h0M168.6 829.0h0M177.8 846.8h0M174.5 850.7h0M182.4 852.7h0M182.4 823.2h0M174.0 833.8h0M177.2 850.9h0M186.5 828.5h0M179.8 849.2h0M175.6 848.8h0M183.6 853.1h0M165.5 813.0h0M163.2 853.6h0M182.0 844.5h0M170.4 852.4h0M189.6 826.4h0M171.4 849.3h0M182.5 850.2h0M187.1 798.9h0M167.8 852.3h0M172.5 854.5h0M197.3 800.8h0M169.5 848.4h0M181.3 850.6h0M183.7 844.8h0M180.8 847.6h0M179.1 846.7h0M176.9 841.8h0M174.0 853.5h0M176.7 847.4h0M166.8 847.7h0M181.4 850.4h0M171.3 848.6h0M183.9 834.3h0M182.3 842.9h0M177.1 854.7h0M182.6 846.3h0M190.9 828.1h0M171.7 839.2h0M195.9 819.9h0M188.2 819.0h0M157.3 799.6h0M179.3 765.3h0M176.8 854.8h0M162.9 844.1h0M165.8 825.0h0M165.9 847.7h0M163.9 854.2h0M185.1 836.4h0M176.4 850.3h0M181.8 854.9h0M180.2 853.6h0M174.8 851.5h0M186.0 841.8h0M181.1 852.8h0M178.1 821.0h0M175.9 853.1h0M166.1 851.9h0M166.4 847.5h0M169.7 846.1h0M171.2 840.4h0M164.3 839.0h0M174.9 846.6h0M181.1 839.2h0M177.3 833.9h0M181.7 849.8h0M196.0 822.7h0M181.6 833.1h0M182.8 853.9h0M176.2 843.6h0M179.6 852.5h0M184.0 840.3h0M192.5 815.9h0M176.2 849.5h0M171.3 827.1h0M180.8 847.3h0M179.1 854.4h0M180.1 853.7h0M182.0 828.3h0M176.3 846.8h0M167.9 843.3h0M169.3 822.7h0M170.7 846.1h0M162.6 849.8h0M166.3 793.6h0M181.6 843.7h0M186.3 816.0h0M188.5 830.6h0M187.0 848.1h0M179.1 846.7h0M168.6 850.6h0M181.8 845.0h0M155.4 802.1h0M158.8 817.0h0M179.5 830.8h0M177.5 809.2h0M181.3 851.6h0M177.8 832.3h0M180.6 841.3h0M174.7 832.5h0M183.8 842.6h0M176.0 839.5h0M183.4 852.8h0M182.7 834.7h0M183.5 841.0h0M170.1 830.5h0M183.5 807.6h0M188.8 824.2h0M186.1 835.0h0M183.4 804.1h0M174.2 849.5h0M187.2 838.4h0M168.6 853.1h0M165.2 822.6h0M165.6 787.2h0M179.8 842.1h0M182.2 839.3h0M187.7 843.8h0M162.6 851.2h0M189.7 825.1h0M174.8 854.8h0M174.6 840.2h0M164.0 851.8h0M172.4 827.9h0M177.8 850.7h0M174.4 848.0h0M187.7 836.8h0M171.7 844.1h0M166.3 851.0h0M162.6 832.2h0M183.8 852.7h0M185.1 843.6h0M176.4 808.1h0M161.7 854.3h0M167.8 840.3h0M177.3 849.8h0M189.3 796.7h0M187.5 788.5h0M176.5 833.7h0M183.6 811.9h0M180.5 849.3h0M168.5 854.2h0M174.8 832.3h0M172.7 845.7h0M169.6 851.0h0M176.6 845.2h0M186.6 816.0h0M169.6 806.7h0M159.3 810.7h0M180.7 851.4h0M170.5 849.6h0M176.7 849.7h0M170.5 849.2h0M174.4 827.4h0M179.7 846.8h0M186.1 826.5h0M172.4 845.8h0M177.1 854.7h0M185.8 836.1h0M166.1 834.2h0M167.6 853.8h0M176.2 853.8h0M166.1 843.3h0M177.9 844.7h0M175.2 831.4h0M166.9 828.6h0M186.5 815.0h0M180.4 846.2h0M171.1 794.3h0M180.6 832.3h0M167.4 846.0h0M194.9 821.6h0M188.6 842.1h0M167.0 839.9h0M187.4 815.8h0M180.2 842.5h0M170.9 850.6h0M177.2 850.4h0M177.3 853.2h0M183.7 845.7h0M179.2 850.1h0M180.5 852.5h0M177.0 847.8h0M194.7 816.4h0M176.6 828.4h0M177.0 845.1h0M185.3 837.0h0M183.6 844.3h0M184.4 837.8h0M161.7 837.3h0M166.8 838.6h0M189.9 829.1h0M163.6 825.3h0M175.1 844.3h0M175.5 854.5h0M182.0 831.5h0M162.2 834.0h0M170.3 813.5h0M184.8 835.5h0M165.0 809.4h0M175.2 854.7h0M195.3 793.9h0M186.8 768.3h0M177.4 743.7h0M168.7 847.2h0M182.3 817.6h0M190.0 802.0h0M169.7 806.9h0M191.3 804.5h0M171.2 851.1h0M176.8 845.3h0M175.8 850.2h0M176.0 852.6h0M168.1 850.4h0M160.5 829.5h0M183.7 833.9h0M182.2 833.9h0M184.2 843.3h0M175.4 834.5h0M183.0 850.7h0M174.9 852.7h0M168.1 818.1h0M167.6 842.4h0M177.2 853.3h0M160.2 854.4h0M183.2 853.1h0M161.3 843.0h0M171.8 812.9h0M188.7 801.2h0M185.2 834.3h0M186.0 841.0h0M186.3 849.0h0M198.2 816.1h0M171.9 827.7h0M175.5 854.4h0M174.3 839.9h0M168.3 824.4h0M192.2 812.3h0M179.1 842.8h0M171.7 835.0h0M181.0 838.3h0M185.9 850.5h0M174.5 795.2h0M177.9 839.1h0M176.2 847.7h0M158.8 826.5h0M169.5 841.4h0M187.8 841.4h0M173.0 850.1h0M181.8 809.3h0M174.9 820.0h0M167.0 848.7h0M166.0 827.5h0M181.6 845.3h0M177.9 853.6h0M176.7 774.2h0M166.7 848.1h0M180.0 837.6h0M182.4 824.4h0M166.1 854.4h0M189.7 817.5h0M185.5 843.0h0M169.2 816.4h0M169.1 851.8h0M182.8 807.3h0M178.9 840.9h0M180.5 807.1h0M175.2 847.2h0M168.4 828.7h0M174.2 848.7h0M168.0 852.5h0M179.2 846.4h0M181.0 824.3h0M180.0 832.0h0M180.3 849.3h0M169.1 837.4h0M158.4 845.0h0M166.3 848.4h0M162.8 835.0h0M196.7 796.6h0M182.0 845.3h0M185.0 843.8h0M190.6 849.5h0M187.7 833.7h0M191.8 821.2h0M172.7 791.6h0M183.2 823.9h0M177.3 837.0h0M168.7 853.2h0M188.9 845.7h0M163.4 787.1h0M180.3 851.8h0M178.4 853.2h0M171.8 847.7h0M166.7 823.0h0M170.6 850.4h0M179.7 844.4h0M187.8 814.9h0M169.0 854.7h0M184.5 823.0h0M181.0 776.9h0M182.2 835.8h0M170.6 847.4h0M178.6 844.0h0M182.5 809.3h0M175.9 841.8h0M173.6 820.2h0M162.9 845.7h0M183.4 844.8h0M192.6 818.3h0M175.1 840.9h0M187.9 837.4h0M194.6 801.3h0M167.8 846.4h0M175.4 852.3h0M164.7 853.2h0M168.5 853.2h0M183.7 848.7h0M168.4 854.2h0M176.6 850.7h0M165.0 839.1h0M181.8 832.1h0M165.4 852.3h0M170.8 825.0h0M189.7 783.0h0M162.2 835.8h0M185.5 825.2h0M181.8 852.7h0M192.0 746.8h0M169.3 830.0h0M197.2 756.1h0M161.3 829.3h0M157.9 843.2h0M176.7 841.5h0M166.8 809.9h0M181.4 831.9h0M164.2 851.5h0M188.7 817.4h0M175.1 845.7h0M192.0 834.0h0M169.0 848.9h0M180.3 841.7h0M179.5 835.5h0M174.5 848.4h0M176.3 845.5h0M191.3 819.3h0M161.1 843.3h0M175.4 832.8h0M174.4 848.1h0M157.8 816.2h0M163.8 834.2h0M172.4 854.2h0M175.9 853.1h0M181.8 846.5h0M187.2 826.3h0M171.3 778.2h0M183.1 834.5h0M157.6 833.9h0M170.4 840.8h0M171.9 848.4h0M168.3 852.9h0M177.2 846.0h0M175.4 850.9h0M180.5 826.8h0M218.3 752.3h0M181.4 832.7h0M169.5 840.4h0M181.9 843.4h0M159.8 826.2h0M166.4 840.1h0M180.4 852.4h0M188.5 830.8h0M174.2 834.9h0M177.9 853.2h0M181.8 844.5h0M200.4 800.5h0M178.2 848.3h0M192.4 812.4h0M164.5 850.4h0M170.1 849.4h0M184.6 852.5h0M175.7 829.9h0M166.8 839.0h0M151.6 826.0h0M186.5 810.3h0M180.8 848.9h0M171.6 831.8h0M177.2 846.0h0M193.9 815.8h0M182.4 833.3h0M155.9 828.0h0M161.0 849.8h0M166.1 843.3h0M190.0 832.7h0M171.4 842.2h0M173.7 833.5h0M183.4 837.8h0M185.1 733.6h0M180.2 832.5h0M175.7 774.6h0M186.7 846.6h0M180.9 849.5h0M180.5 854.1h0M186.6 834.7h0M179.0 852.4h0M178.9 846.6h0M185.6 843.0h0M180.9 840.6h0M182.1 840.6h0M177.3 853.1h0M177.0 848.4h0M175.2 851.1h0M163.8 854.2h0M204.0 778.1h0M181.4 835.8h0M185.3 833.0h0M161.8 850.8h0M161.1 829.3h0M182.5 823.7h0M169.6 829.7h0M174.9 851.6h0M177.1 853.6h0M183.2 844.3h0M186.3 823.0h0M195.9 825.5h0M167.2 842.4h0M175.1 846.7h0M174.4 836.2h0M181.1 853.0h0M181.7 851.1h0M167.4 828.0h0M183.2 831.2h0M176.8 853.9h0M184.5 756.8h0M182.5 833.9h0M189.7 794.9h0M180.8 836.1h0M166.2 840.4h0M166.9 829.4h0M167.9 853.9h0M175.0 852.6h0M176.3 833.0h0M177.6 848.6h0M169.4 839.7h0M186.4 844.8h0M177.9 823.8h0M165.7 850.9h0M177.9 853.7h0M173.8 850.7h0M166.7 837.3h0M170.1 853.1h0M188.9 794.3h0M177.7 849.4h0M182.6 834.6h0M181.5 839.8h0M182.7 841.0h0M185.1 850.0h0M178.4 853.5h0M188.3 803.2h0M176.2 819.1h0M175.7 837.9h0M178.2 847.4h0M183.4 837.4h0M184.7 830.5h0M185.0 826.5h0M183.3 851.4h0M165.8 845.8h0M181.8 825.8h0M178.3 837.7h0M180.1 850.8h0M166.9 833.1h0M185.5 840.4h0M170.2 831.5h0M170.9 846.6h0M182.0 842.0h0M177.3 816.9h0M171.0 833.2h0M183.6 848.9h0M180.5 833.3h0M180.3 844.2h0M178.1 845.2h0M163.9 854.5h0M182.2 831.9h0M163.1 843.3h0M189.4 843.0h0M166.2 847.3h0M183.9 821.4h0M189.9 837.7h0M190.2 830.7h0M175.8 845.0h0M182.6 830.8h0M161.2 826.7h0M176.3 846.8h0M180.5 841.8h0M183.0 839.9h0M185.5 822.8h0M167.0 846.9h0M175.2 853.7h0M194.5 815.8h0M168.0 854.9h0M181.1 826.0h0M160.0 775.2h0M167.3 851.1h0M176.6 849.9h0M170.8 809.3h0M181.5 840.0h0M177.8 809.4h0M182.0 820.8h0M166.3 847.1h0M185.5 839.9h0M169.0 823.5h0M171.2 847.5h0M186.5 817.2h0M184.6 822.7h0M189.0 775.2h0M165.9 812.7h0M175.5 852.4h0M200.3 756.0h0M164.4 854.9h0M183.3 840.5h0M177.6 847.5h0M174.9 800.2h0M178.1 849.5h0M166.7 826.2h0M173.8 848.1h0M176.6 851.1h0M174.7 830.3h0M167.6 838.7h0M203.5 782.9h0M171.6 836.1h0M178.4 840.3h0M171.9 850.6h0M167.5 851.1h0M171.5 850.2h0M180.2 837.7h0M170.1 813.5h0M183.4 835.1h0M181.1 845.3h0M184.3 849.3h0M180.6 832.3h0M179.5 851.9h0M167.7 854.4h0M172.3 828.6h0M173.8 849.0h0M181.0 851.2h0M184.1 841.3h0M174.4 853.7h0M175.0 833.8h0M173.7 822.6h0M175.9 840.7h0M175.3 804.6h0M186.4 829.9h0M171.2 829.0h0M165.6 820.6h0M176.6 832.1h0M177.0 846.5h0M175.6 846.3h0M180.2 838.6h0M160.2 818.8h0M183.8 854.3h0M172.0 822.5h0M165.2 839.2h0M168.2 852.5h0M203.6 808.9h0M190.1 801.7h0M187.4 819.1h0M187.1 854.1h0M174.9 851.9h0M182.5 808.0h0M180.2 826.3h0M175.9 830.4h0M158.6 824.5h0M179.1 852.6h0M175.1 842.2h0M174.9 838.1h0M173.2 844.7h0M175.3 798.7h0M170.7 846.2h0M161.7 844.2h0M162.6 840.7h0M175.6 845.6h0M169.5 843.1h0M177.2 820.2h0M170.1 842.7h0M170.2 850.1h0M180.7 835.6h0M183.5 854.1h0M179.4 850.6h0M167.6 832.9h0M166.0 853.6h0M161.6 846.8h0M179.2 844.1h0M171.7 837.9h0M176.4 843.0h0M182.4 841.3h0M180.2 852.3h0M168.3 853.8h0M180.6 829.7h0M181.4 844.7h0M166.0 836.5h0M185.8 831.8h0M170.9 850.1h0M171.8 827.0h0M168.1 853.6h0M198.4 808.8h0M173.7 854.4h0M170.5 853.8h0M158.7 794.6h0M184.0 853.8h0M194.0 805.9h0M166.3 853.4h0M171.6 842.4h0M181.7 854.0h0M167.1 833.9h0M182.0 829.7h0M164.0 840.1h0M166.6 842.1h0M182.2 851.0h0M169.4 850.4h0M169.5 850.4h0M189.9 795.5h0M180.7 799.1h0M179.7 844.6h0M179.0 845.5h0M164.1 853.8h0M161.6 843.4h0M178.6 852.1h0M182.0 847.4h0M182.8 839.6h0M165.3 844.6h0M188.4 849.7h0M183.3 853.7h0M192.6 812.3h0M184.5 849.9h0M178.5 826.8h0M169.1 817.7h0M188.3 848.6h0M180.4 789.9h0M187.1 838.2h0M174.6 846.9h0M180.5 797.2h0M169.5 846.9h0M182.2 844.8h0M175.5 811.8h0M168.5 827.0h0M166.7 852.9h0M170.2 838.5h0M163.3 841.9h0M166.5 841.3h0M170.2 843.3h0M177.4 841.8h0M169.9 852.3h0M163.5 845.9h0M194.1 780.0h0M178.1 842.6h0M182.6 854.2h0M180.6 851.8h0M164.0 837.9h0M178.0 842.4h0M165.3 853.4h0M164.6 852.3h0M166.2 779.8h0M178.8 842.4h0M190.7 822.7h0M164.5 849.1h0M173.5 843.7h0M175.9 839.5h0M168.2 833.8h0M178.7 825.6h0M173.6 836.9h0M182.9 805.0h0M193.0 819.8h0M180.7 853.8h0M170.5 839.0h0M166.3 806.4h0M174.6 853.3h0M178.7 835.0h0M180.5 838.8h0M167.7 819.7h0M188.8 816.6h0M185.0 837.7h0M172.0 843.8h0M176.7 843.0h0M195.8 833.3h0M175.4 850.7h0M175.6 850.4h0M189.9 835.4h0M182.0 835.9h0M177.8 844.1h0M177.7 847.0h0M183.3 841.1h0M173.1 806.8h0M164.8 849.0h0M181.7 844.2h0M182.9 849.5h0M184.0 845.3h0M163.1 823.3h0M168.1 853.4h0M176.8 853.3h0M159.8 777.5h0M182.9 842.4h0M160.3 852.5h0M165.5 838.4h0M168.1 847.3h0M208.3 782.7h0M182.7 843.6h0M172.3 819.5h0M171.0 848.7h0M196.2 817.2h0M182.4 836.0h0M173.2 849.7h0M181.7 824.3h0M189.7 775.4h0M179.9 848.1h0M172.9 839.0h0M178.1 833.5h0M184.0 846.9h0M166.1 797.6h0M195.1 813.7h0M175.8 835.7h0M186.5 844.3h0M188.5 835.7h0M176.5 842.6h0M187.2 835.3h0M180.7 819.8h0M184.2 838.1h0M176.4 830.9h0M185.8 798.8h0M183.2 848.2h0M183.6 832.8h0M177.2 837.7h0M174.7 854.1h0M179.9 851.5h0M191.4 832.8h0M160.9 843.9h0M181.0 821.1h0M199.8 800.5h0M175.6 846.2h0M154.5 793.5h0M167.4 825.7h0M171.4 851.5h0M163.0 821.8h0M163.6 853.8h0M163.4 837.4h0M171.4 850.9h0M191.4 798.0h0M174.9 830.6h0M182.6 818.6h0M163.8 813.6h0M164.3 827.0h0M184.5 833.7h0M157.7 829.0h0M179.6 848.8h0M166.2 836.6h0M177.6 852.2h0M175.0 808.8h0M178.0 854.4h0M178.1 836.4h0M176.0 852.7h0M171.8 841.6h0M181.8 792.8h0M162.5 826.2h0M202.8 791.9h0M162.8 848.6h0M164.9 831.0h0M168.9 852.8h0M183.6 851.9h0M180.3 850.7h0M195.0 801.7h0M164.8 839.8h0M175.2 851.1h0M192.2 817.0h0M179.1 812.0h0M185.8 845.9h0M164.6 847.1h0M179.1 850.4h0M179.1 848.1h0M177.2 845.8h0M194.0 809.7h0M185.2 831.0h0M180.0 846.5h0M184.4 854.0h0M188.8 849.5h0M177.9 854.3h0M169.6 842.4h0M166.8 808.9h0M170.4 852.1h0M169.1 850.0h0M167.1 853.8h0M185.7 851.3h0M177.7 837.6h0M178.9 798.0h0M177.6 841.7h0M182.3 851.2h0M168.3 826.1h0M181.7 842.6h0M164.8 840.6h0M177.2 825.3h0M193.0 826.8h0M170.2 841.0h0M187.9 822.7h0M178.7 830.1h0M178.8 850.6h0M187.7 833.0h0M176.9 839.3h0M174.7 854.0h0M179.8 807.1h0M186.3 840.8h0M188.2 844.7h0M165.5 814.2h0M181.5 848.1h0M196.9 795.9h0M168.2 839.4h0M184.4 840.2h0M177.5 835.0h0M180.5 836.0h0M166.9 847.1h0M187.9 837.5h0M186.6 820.5h0M210.6 782.1h0M182.6 822.8h0M185.9 824.9h0M176.1 852.1h0M173.7 847.9h0M183.5 831.4h0M184.3 845.1h0M185.8 821.3h0M202.4 805.1h0M176.2 835.4h0M167.2 854.9h0M179.1 850.0h0M177.7 853.4h0M185.3 814.0h0M177.9 854.0h0M182.1 829.9h0M179.0 849.8h0M186.7 850.8h0M175.0 820.4h0M162.3 854.5h0M180.2 853.0h0M194.6 818.5h0M215.7 766.6h0M169.7 853.5h0M163.6 834.0h0M185.6 801.4h0M166.2 838.3h0M172.6 844.0h0M182.4 842.8h0M177.8 847.2h0M169.2 844.9h0M183.5 852.3h0M166.6 853.8h0M182.8 844.5h0M180.3 851.8h0M182.8 849.8h0M180.2 848.2h0M167.9 853.3h0M180.9 842.6h0M196.0 807.3h0M176.9 827.4h0M197.5 800.1h0M177.9 831.2h0M171.4 849.2h0M178.1 802.9h0M176.0 854.3h0M182.4 845.2h0M179.8 822.1h0M164.4 838.0h0M165.7 825.3h0M153.6 805.0h0M166.5 826.8h0M186.3 838.8h0M180.3 809.9h0M168.3 838.4h0M179.3 814.6h0M158.8 849.6h0M175.0 853.8h0M164.1 844.1h0M181.0 800.0h0M154.1 836.8h0M171.5 852.3h0M171.8 851.7h0M163.5 814.9h0M180.9 849.3h0M175.3 845.3h0M171.9 838.0h0M180.0 852.0h0M161.5 815.0h0M176.8 839.8h0M163.6 849.6h0M159.2 801.6h0M171.5 840.1h0M185.0 848.3h0M191.6 823.4h0M171.8 841.6h0M167.0 849.2h0M167.1 848.6h0M177.5 848.0h0M168.8 844.7h0M164.9 830.4h0M173.0 853.4h0M171.3 852.1h0M172.6 848.7h0M179.7 794.7h0M175.7 850.3h0M176.2 833.2h0M177.5 849.5h0M179.6 841.1h0M177.6 836.0h0M172.1 831.5h0M183.6 837.4h0M188.8 847.3h0M176.0 844.5h0M169.5 818.8h0M170.1 798.6h0M176.0 851.3h0M182.7 833.8h0M178.4 846.2h0M172.3 844.7h0M167.4 849.8h0M167.8 853.0h0M185.5 828.5h0M188.6 771.5h0M163.2 854.2h0M162.1 844.5h0M171.5 842.0h0M184.7 849.2h0M179.4 855.0h0M171.9 851.8h0M178.9 826.3h0M170.2 758.5h0M183.4 847.0h0M187.4 809.1h0M171.7 848.9h0M190.2 820.5h0M183.6 823.6h0M179.8 852.9h0M173.9 847.3h0M178.7 845.9h0M165.1 848.6h0M176.2 834.0h0M169.4 849.8h0M177.9 848.9h0M187.9 831.4h0M178.0 843.4h0M177.9 825.9h0M180.3 846.0h0M177.4 852.5h0M166.9 819.3h0M181.9 832.5h0M183.0 805.4h0M176.9 838.7h0M167.3 850.3h0M179.3 811.2h0M187.6 837.6h0M167.7 848.1h0M179.0 848.3h0M178.5 851.8h0M175.6 829.9h0M199.7 785.4h0M174.5 851.0h0M170.2 849.8h0M188.1 818.1h0M178.4 842.8h0M160.8 844.9h0M189.4 830.6h0M186.3 829.1h0M171.5 853.8h0M180.7 848.9h0M166.3 830.9h0M169.3 851.4h0M181.0 794.1h0M180.3 812.1h0M177.0 845.8h0M186.1 836.0h0M171.7 850.5h0M179.6 837.1h0M182.9 845.4h0M186.6 828.3h0M160.6 852.2h0M187.2 835.6h0M179.7 839.8h0M174.2 845.8h0M168.7 850.2h0M190.3 831.7h0M164.2 841.1h0M181.2 841.9h0M176.0 854.8h0M169.6 851.8h0M183.2 853.7h0M166.8 849.3h0M164.6 834.8h0M184.3 843.7h0M180.7 843.5h0M178.8 848.8h0M168.2 820.6h0M162.6 853.2h0M179.3 843.1h0M178.9 847.2h0M174.8 834.1h0M184.2 823.5h0M170.9 847.1h0M177.0 840.7h0M171.7 846.7h0M179.0 850.2h0M170.7 840.6h0M186.8 808.2h0M196.5 820.2h0M165.1 844.9h0M165.4 854.9h0M163.2 854.3h0M168.8 851.7h0M169.7 835.2h0M172.2 843.8h0M168.6 831.0h0M184.9 839.9h0M178.6 831.5h0M179.5 848.9h0M168.5 845.3h0M175.7 809.7h0M178.6 850.0h0M166.6 847.0h0M186.3 842.3h0M174.7 788.4h0M181.2 851.0h0M180.3 792.8h0M175.6 842.9h0M165.3 853.3h0M170.1 826.3h0M185.5 839.1h0M164.2 841.9h0M161.8 814.0h0M166.8 846.4h0M169.1 854.1h0M162.5 831.7h0M178.7 853.9h0M187.5 784.0h0M181.9 842.9h0M177.0 854.0h0M184.5 818.8h0M177.3 780.7h0M178.2 812.5h0M166.5 819.5h0M193.6 804.4h0M185.4 785.6h0M176.3 795.5h0M192.2 753.8h0M181.6 769.6h0M196.9 810.6h0M161.6 812.5h0M163.3 814.1h0M174.1 825.3h0M172.0 813.2h0M177.2 821.1h0M183.3 768.7h0M184.9 823.7h0M172.1 805.7h0M180.9 819.6h0M180.1 807.0h0M190.4 783.2h0M191.8 785.5h0M182.8 787.5h0M178.0 813.8h0M168.0 821.8h0M169.5 822.8h0M171.6 815.2h0M183.9 777.2h0M182.2 824.6h0M174.5 820.1h0M193.2 791.5h0M186.0 801.4h0M163.9 783.6h0M167.5 794.5h0M161.9 818.5h0M194.4 726.1h0M174.0 790.8h0M175.8 818.0h0M184.1 824.5h0M191.4 784.4h0M194.0 725.6h0M187.5 723.2h0M190.8 824.4h0M188.4 797.0h0M186.6 813.7h0M183.1 718.3h0M184.3 824.9h0M194.4 820.2h0M190.4 804.4h0M179.6 766.8h0M192.9 815.6h0M184.6 790.6h0M187.5 810.7h0M179.8 814.5h0M179.0 824.1h0M178.8 799.5h0M191.0 818.9h0M180.5 776.8h0M186.3 793.2h0M180.3 821.8h0M183.6 822.0h0M181.6 815.3h0M175.2 807.3h0M186.4 825.4h0M194.4 817.3h0M194.9 821.3h0M175.4 813.3h0M183.1 774.1h0M182.8 779.2h0M171.9 825.8h0M184.0 803.4h0M176.9 817.1h0M200.5 818.9h0M192.5 741.1h0M181.4 817.9h0M197.6 820.0h0M189.9 812.2h0M195.1 800.7h0M168.7 785.2h0M189.2 780.3h0M167.1 811.8h0M181.3 812.2h0M193.0 822.0h0M179.7 781.2h0M179.3 822.5h0M204.9 804.9h0M171.0 821.7h0M162.1 821.7h0M180.7 786.9h0M194.3 811.5h0M180.6 801.1h0M167.8 821.3h0M185.7 808.5h0M169.0 813.7h0M185.3 825.2h0M181.6 774.5h0M190.3 825.9h0M180.8 730.2h0M198.8 808.7h0M186.5 803.4h0M158.6 802.5h0M192.0 715.6h0M184.3 819.2h0M187.6 785.9h0M165.0 807.1h0M176.9 806.2h0M210.3 795.7h0M179.7 810.6h0M193.1 797.5h0M176.0 820.2h0M182.0 744.9h0M178.8 738.9h0M169.2 816.0h0M168.9 806.5h0M170.0 824.3h0M176.8 789.5h0M170.6 800.7h0M197.8 770.8h0M174.3 816.2h0M182.1 727.6h0M173.0 769.4h0M198.1 772.3h0M176.6 812.9h0M200.0 810.8h0M165.0 810.3h0M178.2 823.0h0M183.5 786.7h0M187.8 815.2h0M187.8 821.3h0M185.3 822.2h0M186.2 735.9h0M177.3 825.7h0M160.6 804.1h0M196.9 796.2h0M183.1 815.6h0M190.7 819.2h0M192.7 812.1h0M181.5 806.3h0M161.8 764.1h0M194.1 818.9h0M179.3 770.1h0M166.7 810.6h0M169.9 824.0h0M182.1 823.3h0M181.0 804.4h0M192.9 775.2h0M188.8 806.8h0M172.5 815.0h0M182.0 745.4h0M191.5 818.8h0M177.9 812.4h0M188.2 801.3h0M162.8 814.3h0M190.2 818.3h0M184.4 735.9h0M180.8 808.1h0M183.2 825.5h0M179.7 763.4h0M178.9 818.2h0M174.6 785.5h0M193.8 792.8h0M174.8 792.0h0M165.7 769.9h0M166.4 819.1h0M179.8 762.5h0M170.4 819.5h0M192.7 776.6h0M177.5 824.4h0M175.7 820.5h0M183.5 761.1h0M194.1 817.0h0M178.7 815.5h0M174.7 812.0h0M174.4 818.3h0M174.6 802.9h0M173.5 811.8h0M188.7 824.8h0M177.6 820.7h0M188.5 805.1h0M176.8 819.5h0M174.4 820.0h0M171.9 814.6h0M182.9 802.9h0M175.3 818.6h0M193.4 819.3h0M175.3 805.0h0M199.4 710.0h0M178.3 780.9h0M188.0 763.9h0M171.7 825.9h0M186.8 795.4h0M173.3 812.9h0M189.1 746.7h0M194.8 820.9h0M183.0 777.3h0M190.0 810.6h0M182.1 782.6h0M188.5 824.9h0M189.6 792.6h0M192.3 723.9h0M177.3 815.5h0M183.0 796.6h0M195.6 820.5h0M168.1 813.6h0M177.9 814.6h0M182.9 824.0h0M173.8 819.8h0M175.1 823.0h0M175.9 776.4h0M178.6 807.7h0M178.1 818.0h0M200.1 824.0h0M176.8 775.3h0M183.1 810.2h0M193.6 819.4h0M201.7 716.7h0M165.1 767.4h0M199.6 798.3h0M196.3 771.1h0M173.6 823.9h0M173.9 787.4h0M196.1 767.4h0M170.8 745.7h0M182.6 824.0h0M171.8 802.9h0M186.3 772.7h0M185.3 824.2h0M179.7 798.8h0M192.6 806.9h0M174.3 786.8h0M173.6 791.7h0M173.2 821.7h0M181.1 808.1h0M168.3 820.9h0M191.0 784.3h0M168.9 794.8h0M182.8 821.8h0M169.8 812.4h0M185.4 777.6h0M180.5 811.3h0M176.8 791.4h0M185.7 741.4h0M180.8 748.5h0M199.1 815.2h0M184.6 820.6h0M202.7 773.1h0M186.3 815.4h0M167.4 781.7h0M190.5 824.5h0M192.3 820.3h0M209.0 718.7h0M188.9 807.3h0M168.2 813.0h0M178.9 815.0h0M187.7 806.7h0M176.2 816.3h0M171.9 799.6h0M184.2 816.3h0M168.3 811.2h0M192.8 824.3h0M180.7 795.3h0M180.1 805.2h0M192.4 792.7h0M177.9 819.4h0M189.1 796.7h0M168.0 811.4h0M185.4 791.3h0M187.1 821.5h0M178.4 820.4h0M184.1 721.0h0M187.6 823.9h0M185.0 820.7h0M177.0 818.6h0M194.7 775.6h0M195.0 819.4h0M176.9 720.7h0M190.3 805.6h0M181.8 819.7h0M179.3 819.7h0M188.4 803.0h0M207.8 779.6h0M192.6 811.4h0M189.3 810.7h0M176.3 822.9h0M191.9 802.8h0M195.1 804.4h0M200.1 776.8h0M182.0 802.0h0M202.0 815.3h0M186.1 818.7h0M194.9 777.9h0M197.4 770.9h0M175.0 822.5h0M164.6 825.5h0M174.7 825.2h0M184.4 810.4h0M172.2 821.6h0M189.3 810.2h0M192.2 778.6h0M190.6 796.3h0M195.9 815.4h0M181.7 816.8h0M185.1 822.5h0M191.5 745.4h0M183.1 812.1h0M182.5 807.8h0M165.2 820.2h0M186.3 791.8h0M188.0 795.2h0M186.2 736.1h0M178.9 815.4h0M171.8 793.9h0M200.6 725.7h0M179.5 821.2h0M191.6 822.5h0M174.2 810.9h0M187.6 817.1h0M194.8 800.7h0M174.9 815.5h0M189.5 821.7h0M184.2 814.5h0M183.4 794.1h0M192.2 809.6h0M179.4 818.4h0M179.1 799.5h0M172.0 816.0h0M187.8 805.5h0M174.2 720.8h0M190.8 824.1h0M183.0 807.5h0M185.4 825.9h0M191.5 818.0h0M187.8 759.8h0M174.4 803.4h0M198.1 724.7h0M167.7 803.8h0M189.6 815.6h0M193.7 819.3h0M181.9 819.1h0M187.6 766.5h0M174.6 823.9h0M175.9 770.9h0M190.7 771.1h0M167.7 815.5h0M181.1 756.8h0M208.1 782.3h0M178.5 820.6h0M174.0 823.3h0M182.2 782.7h0M180.4 791.8h0M189.0 803.2h0M179.3 762.5h0M181.0 817.3h0M169.4 821.7h0M188.1 782.3h0M196.6 808.7h0M174.1 807.1h0M182.4 808.1h0M184.1 789.0h0M185.2 791.7h0M192.4 712.8h0M175.8 749.5h0M192.6 818.9h0M187.2 822.6h0M182.4 795.8h0M178.2 820.0h0M167.0 755.4h0M189.6 794.9h0M173.8 817.9h0M179.0 795.9h0M186.2 782.6h0M182.7 819.7h0M174.5 815.6h0M184.6 814.5h0M171.4 821.8h0M194.6 771.7h0M196.1 777.8h0M162.7 812.7h0M177.0 787.8h0M184.1 763.7h0M174.6 815.6h0M188.5 799.7h0M170.0 815.8h0M190.0 738.3h0M183.6 785.6h0M179.2 820.0h0M177.2 813.3h0M185.1 786.8h0M173.7 791.5h0M192.3 816.9h0M184.1 804.9h0M195.5 806.4h0M195.4 765.6h0M189.4 819.6h0M176.2 811.5h0M177.3 816.4h0M199.5 776.4h0M181.4 776.8h0M197.5 799.2h0M195.6 781.9h0M191.3 815.8h0M168.6 821.1h0M185.1 776.8h0M185.9 727.2h0M181.5 822.6h0M190.7 816.4h0M195.1 792.4h0M176.5 823.6h0M177.9 795.4h0M193.3 822.5h0M185.3 742.4h0M162.1 790.5h0M189.3 771.6h0M176.7 823.1h0M177.2 819.5h0M167.8 825.3h0M174.0 815.0h0M173.8 825.9h0M184.4 806.0h0M167.8 786.5h0M191.1 824.2h0M187.0 800.2h0M181.0 784.0h0M174.5 818.0h0M175.0 805.6h0M189.5 803.7h0M180.3 811.1h0M187.6 778.1h0M177.3 793.2h0M191.8 797.1h0M187.7 820.8h0M188.8 809.5h0M190.7 714.7h0M176.4 806.4h0M179.3 790.2h0M191.7 811.4h0M188.5 812.6h0M182.7 817.4h0M192.2 772.4h0M174.7 823.9h0M187.1 801.6h0M172.7 788.0h0M169.3 793.2h0M183.6 822.0h0M177.5 794.9h0M177.5 793.3h0M205.7 801.1h0M182.1 816.9h0M178.7 782.2h0M180.0 774.3h0M188.3 823.0h0M183.7 796.9h0M161.9 821.0h0M175.4 796.2h0M173.0 801.0h0M184.3 821.2h0M182.0 788.3h0M164.6 808.0h0M184.8 787.6h0M176.3 815.8h0M165.5 813.0h0M186.3 823.4h0M184.9 804.5h0M192.8 756.5h0M177.3 796.3h0M171.9 809.9h0M186.5 825.6h0M183.8 776.0h0M173.9 792.3h0M194.1 730.7h0M182.4 815.7h0M180.2 813.0h0M187.5 808.9h0M199.5 820.8h0M177.1 793.6h0M187.4 785.6h0M173.2 820.8h0M177.5 794.2h0M185.9 794.8h0M176.4 806.6h0M156.2 818.0h0M186.1 822.9h0M175.7 749.8h0M190.5 807.3h0M180.7 792.5h0M184.0 819.3h0M178.0 763.6h0M177.0 714.6h0M182.3 768.6h0M191.9 768.3h0M176.0 807.9h0M179.9 819.9h0M159.7 806.6h0M164.6 792.3h0M192.4 821.1h0M175.0 756.1h0M153.0 740.3h0M163.0 740.8h0M173.8 737.2h0M163.8 749.6h0M180.9 797.4h0M182.6 792.7h0M181.5 756.2h0M163.4 823.0h0M174.9 801.7h0M215.8 743.7h0M149.9 841.0h0M162.2 813.7h0M160.5 831.3h0M188.9 789.1h0M165.7 835.5h0M159.7 841.7h0M128.0 840.0h0M187.2 756.8h0M175.2 820.3h0M158.9 838.3h0M220.6 761.1h0M167.0 798.0h0M206.3 830.1h0M200.7 817.7h0M157.0 731.0h0M187.6 741.7h0M203.9 822.4h0M175.8 750.9h0M180.0 810.2h0M175.1 807.0h0M127.7 840.1h0M142.2 772.9h0M150.4 790.8h0M187.8 740.8h0M195.3 830.0h0M186.5 813.5h0M143.3 800.6h0M170.2 759.8h0M198.4 821.8h0M190.8 841.3h0M169.1 751.9h0M170.4 801.9h0M163.6 812.4h0M158.3 758.7h0M188.1 742.2h0M190.2 844.7h0M148.7 748.4h0M187.2 744.3h0M140.2 803.3h0M152.1 786.1h0M133.6 748.6h0M152.4 833.8h0M174.5 795.2h0M161.3 730.3h0M122.6 813.9h0M180.5 804.1h0" stroke="#c4c4c4" stroke-width="2.1" stroke-linecap="round" fill="none"/>
<line x1="159.0" y1="700" x2="159.0" y2="855" stroke="#222" stroke-width="1.3" stroke-dasharray="1.6,2.6"/>
<line x1="178.2" y1="700" x2="178.2" y2="855" stroke="#222" stroke-width="1.3" stroke-dasharray="1.6,2.6"/>
<line x1="91.7" y1="829.9" x2="245.7" y2="829.9" stroke="#222" stroke-width="1.3" stroke-dasharray="1.6,2.6"/>
<circle cx="179.2" cy="723.6" r="1.8" fill="#1a1ad0"/>
<circle cx="192.7" cy="719.7" r="1.8" fill="#1a1ad0"/>
<circle cx="203.2" cy="770.0" r="1.8" fill="#1a1ad0"/>
<circle cx="183.0" cy="775.8" r="1.8" fill="#1a1ad0"/>
<circle cx="178.7" cy="780.6" r="1.8" fill="#1a1ad0"/>
<circle cx="213.8" cy="787.4" r="1.8" fill="#1a1ad0"/>
<circle cx="188.8" cy="789.3" r="1.8" fill="#1a1ad0"/>
<circle cx="183.0" cy="793.2" r="1.8" fill="#1a1ad0"/>
<circle cx="178.7" cy="797.0" r="1.8" fill="#1a1ad0"/>
<circle cx="185.4" cy="801.9" r="1.8" fill="#1a1ad0"/>
<circle cx="222.5" cy="802.8" r="1.8" fill="#1a1ad0"/>
<circle cx="205.2" cy="808.6" r="1.8" fill="#1a1ad0"/>
<circle cx="183.0" cy="814.4" r="1.8" fill="#1a1ad0"/>
<circle cx="188.8" cy="814.4" r="1.8" fill="#1a1ad0"/>
<circle cx="179.2" cy="821.2" r="1.8" fill="#1a1ad0"/>
<circle cx="185.4" cy="821.2" r="1.8" fill="#1a1ad0"/>
<circle cx="183.0" cy="827.9" r="1.8" fill="#1a1ad0"/>
<circle cx="210.9" cy="759.3" r="1.8" fill="#d42020"/>
<text x="222.5" y="767.6" font-size="8.5" font-weight="bold" fill="#d42020" text-anchor="start" >IKKβ</text>
<circle cx="160.9" cy="797.0" r="1.8" fill="#d42020"/>
<text x="157.5" y="796.1" font-size="8.5" font-weight="bold" fill="#d42020" text-anchor="end" >CRBN</text>
<circle cx="183.0" cy="807.7" r="1.8" fill="#d42020"/>
<text x="178.5" y="810.1" font-size="8.5" font-weight="bold" fill="#d42020" text-anchor="end" >CHK1</text>
<circle cx="205.2" cy="818.3" r="1.8" fill="#d42020"/>
<text x="207.5" y="815.6" font-size="8.5" font-weight="bold" fill="#d42020" text-anchor="start" >OGA</text>
<circle cx="168.6" cy="844.4" r="1.8" fill="#d42020"/>
<text x="165.0" y="844.1" font-size="8.5" font-weight="bold" fill="#d42020" text-anchor="end" >DDB1</text>
<line x1="91.7" y1="700.4" x2="91.7" y2="855.7" stroke="#111" stroke-width="1.6" />
<line x1="91.0" y1="855.0" x2="246.2" y2="855.0" stroke="#111" stroke-width="1.6" />
<line x1="87.5" y1="855.0" x2="91.7" y2="855.0" stroke="#111" stroke-width="1.4" />
<text x="83.5" y="859.3" font-size="12" font-weight="bold" fill="#111" text-anchor="end" >0</text>
<line x1="87.5" y1="816.4" x2="91.7" y2="816.4" stroke="#111" stroke-width="1.4" />
<text x="83.5" y="820.7" font-size="12" font-weight="bold" fill="#111" text-anchor="end" >2</text>
<line x1="87.5" y1="777.7" x2="91.7" y2="777.7" stroke="#111" stroke-width="1.4" />
<text x="83.5" y="782.0" font-size="12" font-weight="bold" fill="#111" text-anchor="end" >4</text>
<line x1="87.5" y1="739.0" x2="91.7" y2="739.0" stroke="#111" stroke-width="1.4" />
<text x="83.5" y="743.4" font-size="12" font-weight="bold" fill="#111" text-anchor="end" >6</text>
<line x1="87.5" y1="700.4" x2="91.7" y2="700.4" stroke="#111" stroke-width="1.4" />
<text x="83.5" y="704.7" font-size="12" font-weight="bold" fill="#111" text-anchor="end" >8</text>
<line x1="91.6" y1="855.0" x2="91.6" y2="859.0" stroke="#111" stroke-width="1.4" />
<text x="91.6" y="874.9" font-size="12" font-weight="bold" fill="#111" text-anchor="middle" >-8</text>
<line x1="110.8" y1="855.0" x2="110.8" y2="859.0" stroke="#111" stroke-width="1.4" />
<text x="110.8" y="874.9" font-size="12" font-weight="bold" fill="#111" text-anchor="middle" >-6</text>
<line x1="130.1" y1="855.0" x2="130.1" y2="859.0" stroke="#111" stroke-width="1.4" />
<text x="130.1" y="874.9" font-size="12" font-weight="bold" fill="#111" text-anchor="middle" >-4</text>
<line x1="149.3" y1="855.0" x2="149.3" y2="859.0" stroke="#111" stroke-width="1.4" />
<text x="149.3" y="874.9" font-size="12" font-weight="bold" fill="#111" text-anchor="middle" >-2</text>
<line x1="168.6" y1="855.0" x2="168.6" y2="859.0" stroke="#111" stroke-width="1.4" />
<text x="168.6" y="874.9" font-size="12" font-weight="bold" fill="#111" text-anchor="middle" >0</text>
<line x1="187.8" y1="855.0" x2="187.8" y2="859.0" stroke="#111" stroke-width="1.4" />
<text x="187.8" y="874.9" font-size="12" font-weight="bold" fill="#111" text-anchor="middle" >2</text>
<line x1="207.1" y1="855.0" x2="207.1" y2="859.0" stroke="#111" stroke-width="1.4" />
<text x="207.1" y="874.9" font-size="12" font-weight="bold" fill="#111" text-anchor="middle" >4</text>
<line x1="226.3" y1="855.0" x2="226.3" y2="859.0" stroke="#111" stroke-width="1.4" />
<text x="226.3" y="874.9" font-size="12" font-weight="bold" fill="#111" text-anchor="middle" >6</text>
<line x1="245.6" y1="855.0" x2="245.6" y2="859.0" stroke="#111" stroke-width="1.4" />
<text x="245.6" y="874.9" font-size="12" font-weight="bold" fill="#111" text-anchor="middle" >8</text>
<text transform="translate(68.3,778.3) rotate(-90)" font-size="12.5" font-weight="bold" fill="#111" text-anchor="middle">-Log<tspan font-size="9" dy="3.5">10</tspan><tspan dy="-3.5">（p-value）</tspan></text>
<text x="168.1" y="894.3" font-size="12.5" font-weight="bold" fill="#111" text-anchor="middle">Log<tspan font-size="9" dy="3.5">2</tspan><tspan dy="-3.5">FC</tspan></text>
<circle cx="255.8" cy="709.8" r="1.6" fill="#d42020"/>
<text x="273.2" y="713.6" font-size="10.5" font-weight="bold" fill="#111" text-anchor="start" >Target proteins</text>
<circle cx="255.8" cy="730.7" r="1.6" fill="#1a1ad0"/>
<text x="273.2" y="734.5" font-size="10.5" font-weight="bold" fill="#111" text-anchor="start" >Other intersection proteins</text>
<circle cx="255.8" cy="751.6" r="1.6" fill="#c4c4c4"/>
<text x="273.2" y="755.4" font-size="10.5" font-weight="bold" fill="#111" text-anchor="start" >All the proteins</text>
<text transform="translate(140.0,973.1) rotate(-90)" font-size="12" font-weight="bold" fill="#333" text-anchor="start" letter-spacing="0.6" >DMSO</text>
<text transform="translate(168.7,973.1) rotate(-90)" font-size="12" font-weight="bold" fill="#333" text-anchor="start" letter-spacing="0.6" >ZH-002</text>
<text transform="translate(197.5,973.1) rotate(-90)" font-size="12" font-weight="bold" fill="#333" text-anchor="start" letter-spacing="0.6" >ZH-011</text>
<text transform="translate(226.2,973.1) rotate(-90)" font-size="12" font-weight="bold" fill="#333" text-anchor="start" letter-spacing="0.6" >ZH-013</text>
<text transform="translate(254.9,973.1) rotate(-90)" font-size="12" font-weight="bold" fill="#333" text-anchor="start" letter-spacing="0.6" >ZH-015</text>
<text transform="translate(283.6,973.1) rotate(-90)" font-size="12" font-weight="bold" fill="#333" text-anchor="start" letter-spacing="0.6" >4-MIX-L</text>
<text transform="translate(312.3,973.1) rotate(-90)" font-size="12" font-weight="bold" fill="#333" text-anchor="start" letter-spacing="0.6" >Celastrol</text>
<text x="329.0" y="973.8" font-size="12" font-weight="bold" fill="#333" text-anchor="start" letter-spacing="0.5" >kDa</text>
<linearGradient id="g23" x1="0" y1="0" x2="0" y2="1"><stop offset="0" stop-color="#a0a0a0"/><stop offset="0.3" stop-color="#bcbcbc"/><stop offset="1" stop-color="#bcbcbc"/></linearGradient>
<rect x="120.0" y="980.0" width="203.7" height="21.6" fill="url(#g23)"/>
<g filter="url(#bl15)">
<rect x="147.1" y="981.0" width="6" height="19.6" fill="#f0f0f0" fill-opacity="0.8"/>
<rect x="175.8" y="981.0" width="6" height="19.6" fill="#f0f0f0" fill-opacity="0.8"/>
<rect x="204.5" y="981.0" width="6" height="19.6" fill="#f0f0f0" fill-opacity="0.8"/>
<rect x="233.2" y="981.0" width="6" height="19.6" fill="#f0f0f0" fill-opacity="0.8"/>
<rect x="261.9" y="981.0" width="6" height="19.6" fill="#f0f0f0" fill-opacity="0.8"/>
<rect x="290.6" y="981.0" width="6" height="19.6" fill="#f0f0f0" fill-opacity="0.8"/>
</g>
<g filter="url(#bl10)">
<rect x="124.2" y="987.0" width="23.0" height="7.5" rx="2.4" fill="#000" fill-opacity="1.00"/>
<rect x="154.4" y="988.4" width="20.0" height="4.8" rx="1.5" fill="#000" fill-opacity="0.79"/>
<rect x="183.1" y="988.1" width="20.0" height="5.3" rx="1.7" fill="#000" fill-opacity="0.88"/>
<rect x="211.8" y="987.9" width="20.0" height="5.9" rx="1.9" fill="#000" fill-opacity="0.92"/>
<rect x="240.6" y="988.1" width="20.0" height="5.3" rx="1.7" fill="#000" fill-opacity="0.88"/>
<rect x="269.3" y="988.1" width="20.0" height="5.4" rx="1.7" fill="#000" fill-opacity="0.92"/>
<rect x="296.5" y="987.3" width="23.0" height="7.0" rx="2.2" fill="#000" fill-opacity="1.00"/>
</g>
<rect x="120.0" y="980.0" width="203.7" height="21.6" fill="none" stroke="#3a3a3a" stroke-width="1.2"/>
<linearGradient id="g24" x1="0" y1="0" x2="0" y2="1"><stop offset="0" stop-color="#bcbcbc"/><stop offset="0.3" stop-color="#cfcfcf"/><stop offset="1" stop-color="#cfcfcf"/></linearGradient>
<rect x="120.0" y="1005.1" width="203.7" height="23.0" fill="url(#g24)"/>
<g filter="url(#bl15)">
<rect x="147.6" y="1006.1" width="5" height="21.0" fill="#eeeeee" fill-opacity="0.6"/>
<rect x="176.3" y="1006.1" width="5" height="21.0" fill="#eeeeee" fill-opacity="0.6"/>
<rect x="205.0" y="1006.1" width="5" height="21.0" fill="#eeeeee" fill-opacity="0.6"/>
<rect x="233.7" y="1006.1" width="5" height="21.0" fill="#eeeeee" fill-opacity="0.6"/>
<rect x="262.4" y="1006.1" width="5" height="21.0" fill="#eeeeee" fill-opacity="0.6"/>
<rect x="291.1" y="1006.1" width="5" height="21.0" fill="#eeeeee" fill-opacity="0.6"/>
</g>
<g filter="url(#bl10)">
<rect x="124.2" y="1012.3" width="23.0" height="8.5" rx="2.7" fill="#000" fill-opacity="1.00"/>
<rect x="152.9" y="1013.1" width="23.0" height="7.0" rx="2.2" fill="#000" fill-opacity="1.00"/>
<rect x="181.6" y="1014.3" width="23.0" height="4.5" rx="1.5" fill="#000" fill-opacity="0.62"/>
<rect x="210.3" y="1013.7" width="23.0" height="5.8" rx="1.9" fill="#000" fill-opacity="0.88"/>
<rect x="239.1" y="1013.7" width="23.0" height="5.9" rx="1.9" fill="#000" fill-opacity="0.92"/>
<rect x="267.8" y="1014.0" width="23.0" height="5.2" rx="1.7" fill="#000" fill-opacity="0.75"/>
<rect x="296.5" y="1014.2" width="23.0" height="4.9" rx="1.6" fill="#000" fill-opacity="0.53"/>
</g>
<rect x="120.0" y="1005.1" width="203.7" height="23.0" fill="none" stroke="#3a3a3a" stroke-width="1.2"/>
<linearGradient id="g25" x1="0" y1="0" x2="0" y2="1"><stop offset="0" stop-color="#d8d8d8"/><stop offset="0.3" stop-color="#e6e6e6"/><stop offset="1" stop-color="#e6e6e6"/></linearGradient>
<rect x="120.0" y="1031.6" width="203.7" height="25.0" fill="url(#g25)"/>
<g filter="url(#bl10)">
<rect x="122.2" y="1038.8" width="27.0" height="10.5" rx="3.4" fill="#000" fill-opacity="1.00"/>
<rect x="150.9" y="1038.8" width="27.0" height="10.5" rx="3.4" fill="#000" fill-opacity="1.00"/>
<rect x="179.6" y="1038.8" width="27.0" height="10.5" rx="3.4" fill="#000" fill-opacity="1.00"/>
<rect x="208.3" y="1038.8" width="27.0" height="10.5" rx="3.4" fill="#000" fill-opacity="1.00"/>
<rect x="237.1" y="1038.8" width="27.0" height="10.5" rx="3.4" fill="#000" fill-opacity="1.00"/>
<rect x="265.8" y="1038.8" width="27.0" height="10.5" rx="3.4" fill="#000" fill-opacity="1.00"/>
<rect x="294.5" y="1038.8" width="27.0" height="10.5" rx="3.4" fill="#000" fill-opacity="1.00"/>
</g>
<rect x="120.0" y="1031.6" width="203.7" height="25.0" fill="none" stroke="#3a3a3a" stroke-width="1.2"/>
<text x="114.9" y="994.8" font-size="12" font-weight="bold" fill="#3a3a3a" text-anchor="end" letter-spacing="0.7" >ERCC6L</text>
<text x="114.9" y="1020.9" font-size="12" font-weight="bold" fill="#3a3a3a" text-anchor="end" letter-spacing="0.7" >CIP2A</text>
<text x="114.9" y="1048.7" font-size="12" font-weight="bold" fill="#3a3a3a" text-anchor="end" letter-spacing="0.7" >ACTIN</text>
<line x1="325.4" y1="990.5" x2="337.6" y2="990.5" stroke="#555" stroke-width="1.1" />
<text x="338.0" y="994.8" font-size="12" font-weight="bold" fill="#222" text-anchor="start" letter-spacing="0.5" >175</text>
<line x1="325.4" y1="1016.6" x2="337.6" y2="1016.6" stroke="#555" stroke-width="1.1" />
<text x="338.0" y="1020.9" font-size="12" font-weight="bold" fill="#222" text-anchor="start" letter-spacing="0.5" >102</text>
<line x1="325.4" y1="1044.4" x2="337.6" y2="1044.4" stroke="#555" stroke-width="1.1" />
<text x="338.0" y="1048.7" font-size="12" font-weight="bold" fill="#222" text-anchor="start" letter-spacing="0.5" >42</text>
<text x="537.9" y="678.3" font-size="11.5" font-weight="bold" fill="#7fb27f" text-anchor="middle" letter-spacing="0.8" >ZH-011 TMT</text>
<text x="712.0" y="678.3" font-size="11.5" font-weight="bold" fill="#adc8e4" text-anchor="middle" letter-spacing="0.8" >ZH-011 IP-MS</text>
<circle cx="590" cy="764.5" r="78.5" fill="rgb(4,105,4)" fill-opacity="0.5"/>
<circle cx="677.2" cy="764.5" r="78.5" fill="rgb(85,145,209)" fill-opacity="0.5"/>
<text x="571.4" y="770.0" font-size="12.5" font-weight="bold" fill="#111" text-anchor="middle" letter-spacing="0.3" >403</text>
<text x="633.5" y="770.0" font-size="12.5" font-weight="bold" fill="#111" text-anchor="middle" letter-spacing="0.3" >19</text>
<text x="698.6" y="770.0" font-size="12.5" font-weight="bold" fill="#111" text-anchor="middle" letter-spacing="0.3" >701</text>
<line x1="634.4" y1="799.4" x2="634.4" y2="873.0" stroke="#000" stroke-width="2" />
<path d="M629 866 L634.4 874.5 L639.8 866" fill="none" stroke="#000" stroke-width="2"/>
<text x="642.7" y="861.3" font-size="12" font-weight="bold" fill="#111" text-anchor="start" >Top 5</text>
<rect x="479.1" y="892.2" width="314.7" height="162.4" fill="none" stroke="#555" stroke-width="1"/>
<line x1="567.7" y1="892.2" x2="567.7" y2="1054.6" stroke="#555" stroke-width="1" />
<line x1="650.3" y1="892.2" x2="650.3" y2="1054.6" stroke="#555" stroke-width="1" />
<line x1="718.6" y1="892.2" x2="718.6" y2="1054.6" stroke="#555" stroke-width="1" />
<line x1="479.1" y1="919.3" x2="793.8" y2="919.3" stroke="#555" stroke-width="1" />
<line x1="479.1" y1="946.9" x2="793.8" y2="946.9" stroke="#555" stroke-width="1" />
<line x1="479.1" y1="973.4" x2="793.8" y2="973.4" stroke="#555" stroke-width="1" />
<line x1="479.1" y1="1000.4" x2="793.8" y2="1000.4" stroke="#555" stroke-width="1" />
<line x1="479.1" y1="1027.2" x2="793.8" y2="1027.2" stroke="#555" stroke-width="1" />
<text x="523.9" y="909.1" font-size="11" font-weight="bold" fill="#111" text-anchor="middle" letter-spacing="0.9" >Accession</text>
<text x="609.5" y="909.1" font-size="11" font-weight="bold" fill="#111" text-anchor="middle" letter-spacing="0.9" >Portein</text>
<text x="684.9" y="909.1" font-size="11" font-weight="bold" fill="#111" text-anchor="middle" letter-spacing="0.9" >TMT FC</text>
<text x="756.7" y="909.1" font-size="11" font-weight="bold" fill="#111" text-anchor="middle" letter-spacing="0.9" >IP-MS FC</text>
<text x="523.9" y="936.5" font-size="11" font-weight="bold" fill="#444" text-anchor="middle" letter-spacing="0.9" >Q2NKX8</text>
<text x="609.5" y="936.5" font-size="11" font-weight="bold" fill="#111" text-anchor="middle" letter-spacing="0.9" >ERCC6L</text>
<text x="684.9" y="936.5" font-size="11" font-weight="bold" fill="#111" text-anchor="middle" letter-spacing="0.9" >0.868</text>
<text x="756.7" y="936.5" font-size="11" font-weight="bold" fill="#111" text-anchor="middle" letter-spacing="0.9" >49.522</text>
<text x="523.9" y="963.5" font-size="11" font-weight="bold" fill="#444" text-anchor="middle" letter-spacing="0.9" >Q8TCG1</text>
<text x="609.5" y="963.5" font-size="11" font-weight="bold" fill="#111" text-anchor="middle" letter-spacing="0.9" >CIP2A</text>
<text x="684.9" y="963.5" font-size="11" font-weight="bold" fill="#111" text-anchor="middle" letter-spacing="0.9" >0.809</text>
<text x="756.7" y="963.5" font-size="11" font-weight="bold" fill="#111" text-anchor="middle" letter-spacing="0.9" >27.029</text>
<text x="523.9" y="990.3" font-size="11" font-weight="bold" fill="#444" text-anchor="middle" letter-spacing="0.9" >Q9H6D7</text>
<text x="609.5" y="990.3" font-size="11" font-weight="bold" fill="#111" text-anchor="middle" letter-spacing="0.9" >HAUS4</text>
<text x="684.9" y="990.3" font-size="11" font-weight="bold" fill="#111" text-anchor="middle" letter-spacing="0.9" >0.867</text>
<text x="756.7" y="990.3" font-size="11" font-weight="bold" fill="#111" text-anchor="middle" letter-spacing="0.9" >14.176</text>
<text x="523.9" y="1017.2" font-size="11" font-weight="bold" fill="#444" text-anchor="middle" letter-spacing="0.9" >O60502</text>
<text x="609.5" y="1017.2" font-size="11" font-weight="bold" fill="#111" text-anchor="middle" letter-spacing="0.9" >OGA</text>
<text x="684.9" y="1017.2" font-size="11" font-weight="bold" fill="#111" text-anchor="middle" letter-spacing="0.9" >0.870</text>
<text x="756.7" y="1017.2" font-size="11" font-weight="bold" fill="#111" text-anchor="middle" letter-spacing="0.9" >14.095</text>
<text x="523.9" y="1044.3" font-size="11" font-weight="bold" fill="#444" text-anchor="middle" letter-spacing="0.9" >P42575</text>
<text x="609.5" y="1044.3" font-size="11" font-weight="bold" fill="#111" text-anchor="middle" letter-spacing="0.9" >Caspase-2</text>
<text x="684.9" y="1044.3" font-size="11" font-weight="bold" fill="#111" text-anchor="middle" letter-spacing="0.9" >0.777</text>
<text x="756.7" y="1044.3" font-size="11" font-weight="bold" fill="#111" text-anchor="middle" letter-spacing="0.9" >12.907</text>
<text x="989.0" y="682.3" font-size="11.5" font-weight="bold" fill="#e8909a" text-anchor="middle" letter-spacing="0.8" >4-Mix-L</text>
<text x="1140.8" y="682.3" font-size="11.5" font-weight="bold" fill="#8a9ae0" text-anchor="middle" letter-spacing="0.8" >4-Mix-H</text>
<circle cx="1026.8" cy="756.3" r="70.3" fill="rgb(209,25,45)" fill-opacity="0.5"/>
<circle cx="1105.5" cy="756.3" r="70.3" fill="rgb(5,45,195)" fill-opacity="0.5"/>
<text x="1003.9" y="758.7" font-size="12.5" font-weight="bold" fill="#111" text-anchor="middle" letter-spacing="0.3" >23</text>
<text x="1065.7" y="758.7" font-size="12.5" font-weight="bold" fill="#111" text-anchor="middle" letter-spacing="0.3" >16</text>
<text x="1126.4" y="758.7" font-size="12.5" font-weight="bold" fill="#111" text-anchor="middle" letter-spacing="0.3" >77</text>
<line x1="1066.1" y1="783.6" x2="1066.1" y2="849.0" stroke="#000" stroke-width="2" />
<path d="M1060.7 842 L1066.1 850.5 L1071.5 842" fill="none" stroke="#000" stroke-width="2"/>
<text x="1066.4" y="861.2" font-size="11.5" font-weight="bold" fill="#8a70bc" text-anchor="middle" letter-spacing="0.6" >IKKβ, CHK1, OGA, ERCC6L, NEK7</text>
<text x="979.4" y="918.3" font-size="12" font-weight="bold" fill="#333" text-anchor="middle" letter-spacing="0.5" >DMSO</text>
<line x1="953.8" y1="921.0" x2="1004.5" y2="921.0" stroke="#999" stroke-width="1.2" />
<text x="1036.2" y="918.3" font-size="12" font-weight="bold" fill="#333" text-anchor="middle" letter-spacing="0.5" >4-Mix-L</text>
<line x1="1010.6" y1="921.0" x2="1061.4" y2="921.0" stroke="#999" stroke-width="1.2" />
<text x="1092.4" y="918.3" font-size="12" font-weight="bold" fill="#333" text-anchor="middle" letter-spacing="0.5" >4-Mix-H</text>
<line x1="1066.8" y1="921.0" x2="1117.5" y2="921.0" stroke="#999" stroke-width="1.2" />
<text x="1149.8" y="918.3" font-size="12" font-weight="bold" fill="#333" text-anchor="middle" letter-spacing="0.5" >Celastrol</text>
<line x1="1124.5" y1="921.0" x2="1174.7" y2="921.0" stroke="#999" stroke-width="1.2" />
<text x="1184.0" y="918.5" font-size="12" font-weight="bold" fill="#333" text-anchor="start" letter-spacing="0.5" >kDa</text>
<linearGradient id="g26" x1="0" y1="0" x2="0" y2="1"><stop offset="0" stop-color="#d4d4d4"/><stop offset="0.3" stop-color="#e6e6e6"/><stop offset="1" stop-color="#e6e6e6"/></linearGradient>
<rect x="952.0" y="927.1" width="224.8" height="16.4" fill="url(#g26)"/>
<g filter="url(#bl10)">
<rect x="953.4" y="932.3" width="16.0" height="5.9" rx="1.9" fill="#000" fill-opacity="0.96"/>
<rect x="972.1" y="932.4" width="16.0" height="5.9" rx="1.9" fill="#000" fill-opacity="0.92"/>
<rect x="990.9" y="932.3" width="16.0" height="5.9" rx="1.9" fill="#000" fill-opacity="0.96"/>
<rect x="1009.6" y="932.8" width="16.0" height="5.1" rx="1.6" fill="#000" fill-opacity="0.33"/>
<rect x="1028.4" y="932.7" width="16.0" height="5.2" rx="1.7" fill="#000" fill-opacity="0.38"/>
<rect x="1047.2" y="932.8" width="16.0" height="5.1" rx="1.6" fill="#000" fill-opacity="0.33"/>
<rect x="1065.9" y="932.8" width="16.0" height="5.0" rx="1.6" fill="#000" fill-opacity="0.28"/>
<rect x="1084.7" y="932.8" width="16.0" height="5.1" rx="1.6" fill="#000" fill-opacity="0.33"/>
<rect x="1103.4" y="932.8" width="16.0" height="5.1" rx="1.6" fill="#000" fill-opacity="0.33"/>
<rect x="1122.2" y="932.3" width="16.0" height="6.0" rx="1.9" fill="#000" fill-opacity="1.00"/>
<rect x="1140.9" y="932.3" width="16.0" height="6.0" rx="1.9" fill="#000" fill-opacity="1.00"/>
<rect x="1159.7" y="932.3" width="16.0" height="6.0" rx="1.9" fill="#000" fill-opacity="1.00"/>
</g>
<rect x="952.0" y="927.1" width="224.8" height="16.4" fill="none" stroke="#3a3a3a" stroke-width="1.2"/>
<linearGradient id="g27" x1="0" y1="0" x2="0" y2="1"><stop offset="0" stop-color="#c8c8c8"/><stop offset="0.3" stop-color="#d8d8d8"/><stop offset="1" stop-color="#d8d8d8"/></linearGradient>
<rect x="952.0" y="947.5" width="224.8" height="13.0" fill="url(#g27)"/>
<g filter="url(#bl10)">
<rect x="952.9" y="951.0" width="17.0" height="6.0" rx="1.9" fill="#000" fill-opacity="1.00"/>
<rect x="971.6" y="951.0" width="17.0" height="6.0" rx="1.9" fill="#000" fill-opacity="1.00"/>
<rect x="990.4" y="951.0" width="17.0" height="6.0" rx="1.9" fill="#000" fill-opacity="1.00"/>
<rect x="1009.1" y="951.2" width="17.0" height="5.6" rx="1.8" fill="#000" fill-opacity="0.75"/>
<rect x="1027.9" y="951.3" width="17.0" height="5.5" rx="1.7" fill="#000" fill-opacity="0.62"/>
<rect x="1046.7" y="951.2" width="17.0" height="5.6" rx="1.8" fill="#000" fill-opacity="0.71"/>
<rect x="1065.4" y="951.1" width="17.0" height="5.8" rx="1.8" fill="#000" fill-opacity="0.84"/>
<rect x="1084.2" y="951.1" width="17.0" height="5.8" rx="1.8" fill="#000" fill-opacity="0.84"/>
<rect x="1102.9" y="951.1" width="17.0" height="5.8" rx="1.8" fill="#000" fill-opacity="0.84"/>
<rect x="1121.7" y="951.0" width="17.0" height="6.0" rx="1.9" fill="#000" fill-opacity="1.00"/>
<rect x="1140.4" y="951.0" width="17.0" height="6.0" rx="1.9" fill="#000" fill-opacity="1.00"/>
<rect x="1159.2" y="951.0" width="17.0" height="6.0" rx="1.9" fill="#000" fill-opacity="1.00"/>
</g>
<rect x="952.0" y="947.5" width="224.8" height="13.0" fill="none" stroke="#3a3a3a" stroke-width="1.2"/>
<linearGradient id="g28" x1="0" y1="0" x2="0" y2="1"><stop offset="0" stop-color="#d4d4d4"/><stop offset="0.3" stop-color="#e6e6e6"/><stop offset="1" stop-color="#e6e6e6"/></linearGradient>
<rect x="952.0" y="964.2" width="224.8" height="17.6" fill="url(#g28)"/>
<g filter="url(#bl10)">
<rect x="952.9" y="969.5" width="17.0" height="7.0" rx="2.2" fill="#000" fill-opacity="1.00"/>
<rect x="971.6" y="969.5" width="17.0" height="7.0" rx="2.2" fill="#000" fill-opacity="1.00"/>
<rect x="990.4" y="969.5" width="17.0" height="7.0" rx="2.2" fill="#000" fill-opacity="1.00"/>
<rect x="1009.1" y="970.0" width="17.0" height="6.1" rx="1.9" fill="#000" fill-opacity="0.43"/>
<rect x="1027.9" y="969.9" width="17.0" height="6.2" rx="2.0" fill="#000" fill-opacity="0.53"/>
<rect x="1046.7" y="969.8" width="17.0" height="6.4" rx="2.1" fill="#000" fill-opacity="0.66"/>
<rect x="1065.4" y="970.0" width="17.0" height="6.1" rx="1.9" fill="#000" fill-opacity="0.43"/>
<rect x="1084.2" y="969.9" width="17.0" height="6.2" rx="2.0" fill="#000" fill-opacity="0.53"/>
<rect x="1102.9" y="969.9" width="17.0" height="6.2" rx="2.0" fill="#000" fill-opacity="0.53"/>
<rect x="1121.7" y="969.5" width="17.0" height="7.0" rx="2.2" fill="#000" fill-opacity="1.00"/>
<rect x="1140.4" y="969.5" width="17.0" height="7.0" rx="2.2" fill="#000" fill-opacity="1.00"/>
<rect x="1159.2" y="969.5" width="17.0" height="7.0" rx="2.2" fill="#000" fill-opacity="1.00"/>
</g>
<rect x="952.0" y="964.2" width="224.8" height="17.6" fill="none" stroke="#3a3a3a" stroke-width="1.2"/>
<linearGradient id="g29" x1="0" y1="0" x2="0" y2="1"><stop offset="0" stop-color="#d4d4d4"/><stop offset="0.3" stop-color="#e6e6e6"/><stop offset="1" stop-color="#e6e6e6"/></linearGradient>
<rect x="952.0" y="985.4" width="224.8" height="16.7" fill="url(#g29)"/>
<g filter="url(#bl10)">
<rect x="952.9" y="990.2" width="17.0" height="7.0" rx="2.2" fill="#000" fill-opacity="1.00"/>
<rect x="971.6" y="990.2" width="17.0" height="7.0" rx="2.2" fill="#000" fill-opacity="1.00"/>
<rect x="990.4" y="990.2" width="17.0" height="7.0" rx="2.2" fill="#000" fill-opacity="1.00"/>
<rect x="1009.1" y="990.6" width="17.0" height="6.4" rx="2.0" fill="#000" fill-opacity="0.62"/>
<rect x="1027.9" y="990.6" width="17.0" height="6.2" rx="2.0" fill="#000" fill-opacity="0.53"/>
<rect x="1046.7" y="990.5" width="17.0" height="6.4" rx="2.1" fill="#000" fill-opacity="0.66"/>
<rect x="1065.4" y="990.6" width="17.0" height="6.3" rx="2.0" fill="#000" fill-opacity="0.57"/>
<rect x="1084.2" y="990.6" width="17.0" height="6.4" rx="2.0" fill="#000" fill-opacity="0.62"/>
<rect x="1102.9" y="990.6" width="17.0" height="6.2" rx="2.0" fill="#000" fill-opacity="0.53"/>
<rect x="1121.7" y="990.2" width="17.0" height="7.0" rx="2.2" fill="#000" fill-opacity="1.00"/>
<rect x="1140.4" y="990.2" width="17.0" height="7.0" rx="2.2" fill="#000" fill-opacity="1.00"/>
<rect x="1159.2" y="990.2" width="17.0" height="7.0" rx="2.2" fill="#000" fill-opacity="1.00"/>
</g>
<rect x="952.0" y="985.4" width="224.8" height="16.7" fill="none" stroke="#3a3a3a" stroke-width="1.2"/>
<linearGradient id="g30" x1="0" y1="0" x2="0" y2="1"><stop offset="0" stop-color="#d4d4d4"/><stop offset="0.3" stop-color="#e6e6e6"/><stop offset="1" stop-color="#e6e6e6"/></linearGradient>
<rect x="952.0" y="1006.1" width="224.8" height="23.4" fill="url(#g30)"/>
<g filter="url(#bl10)">
<rect x="952.4" y="1013.3" width="18.0" height="9.0" rx="2.9" fill="#000" fill-opacity="1.00"/>
<rect x="971.1" y="1013.3" width="18.0" height="9.0" rx="2.9" fill="#000" fill-opacity="1.00"/>
<rect x="989.9" y="1013.3" width="18.0" height="9.0" rx="2.9" fill="#000" fill-opacity="1.00"/>
<rect x="1008.6" y="1013.3" width="18.0" height="9.0" rx="2.9" fill="#000" fill-opacity="1.00"/>
<rect x="1027.4" y="1013.3" width="18.0" height="9.0" rx="2.9" fill="#000" fill-opacity="1.00"/>
<rect x="1046.2" y="1013.3" width="18.0" height="9.0" rx="2.9" fill="#000" fill-opacity="1.00"/>
<rect x="1064.9" y="1013.3" width="18.0" height="9.0" rx="2.9" fill="#000" fill-opacity="1.00"/>
<rect x="1083.7" y="1013.3" width="18.0" height="9.0" rx="2.9" fill="#000" fill-opacity="1.00"/>
<rect x="1102.4" y="1013.3" width="18.0" height="9.0" rx="2.9" fill="#000" fill-opacity="1.00"/>
<rect x="1121.2" y="1013.3" width="18.0" height="9.0" rx="2.9" fill="#000" fill-opacity="1.00"/>
<rect x="1139.9" y="1013.3" width="18.0" height="9.0" rx="2.9" fill="#000" fill-opacity="1.00"/>
<rect x="1158.7" y="1013.3" width="18.0" height="9.0" rx="2.9" fill="#000" fill-opacity="1.00"/>
</g>
<rect x="952.0" y="1006.1" width="224.8" height="23.4" fill="none" stroke="#3a3a3a" stroke-width="1.2"/>
<text x="943.8" y="939.0" font-size="12" font-weight="bold" fill="#3a3a3a" text-anchor="end" letter-spacing="0.6" >OGA</text>
<text x="943.8" y="958.7" font-size="12" font-weight="bold" fill="#3a3a3a" text-anchor="end" letter-spacing="0.6" >PI3Kα</text>
<text x="943.8" y="978.5" font-size="12" font-weight="bold" fill="#3a3a3a" text-anchor="end" letter-spacing="0.6" >IKKβ</text>
<text x="943.8" y="998.2" font-size="12" font-weight="bold" fill="#3a3a3a" text-anchor="end" letter-spacing="0.6" >CHK1</text>
<text x="943.8" y="1022.5" font-size="12" font-weight="bold" fill="#3a3a3a" text-anchor="end" letter-spacing="0.6" >ACTIN</text>
<line x1="1179.2" y1="934.7" x2="1190.5" y2="934.7" stroke="#555" stroke-width="1.1" />
<text x="1191.0" y="939.0" font-size="12" font-weight="bold" fill="#222" text-anchor="start" letter-spacing="0.5" >130</text>
<line x1="1179.2" y1="954.4" x2="1190.5" y2="954.4" stroke="#555" stroke-width="1.1" />
<text x="1191.0" y="958.7" font-size="12" font-weight="bold" fill="#222" text-anchor="start" letter-spacing="0.5" >110</text>
<line x1="1179.2" y1="974.8" x2="1190.5" y2="974.8" stroke="#555" stroke-width="1.1" />
<text x="1191.0" y="979.1" font-size="12" font-weight="bold" fill="#222" text-anchor="start" letter-spacing="0.5" >85</text>
<line x1="1179.2" y1="993.0" x2="1190.5" y2="993.0" stroke="#555" stroke-width="1.1" />
<text x="1191.0" y="997.3" font-size="12" font-weight="bold" fill="#222" text-anchor="start" letter-spacing="0.5" >57</text>
<line x1="1179.2" y1="1018.0" x2="1190.5" y2="1018.0" stroke="#555" stroke-width="1.1" />
<text x="1191.0" y="1022.3" font-size="12" font-weight="bold" fill="#222" text-anchor="start" letter-spacing="0.5" >42</text>
</svg>
</body></html>
